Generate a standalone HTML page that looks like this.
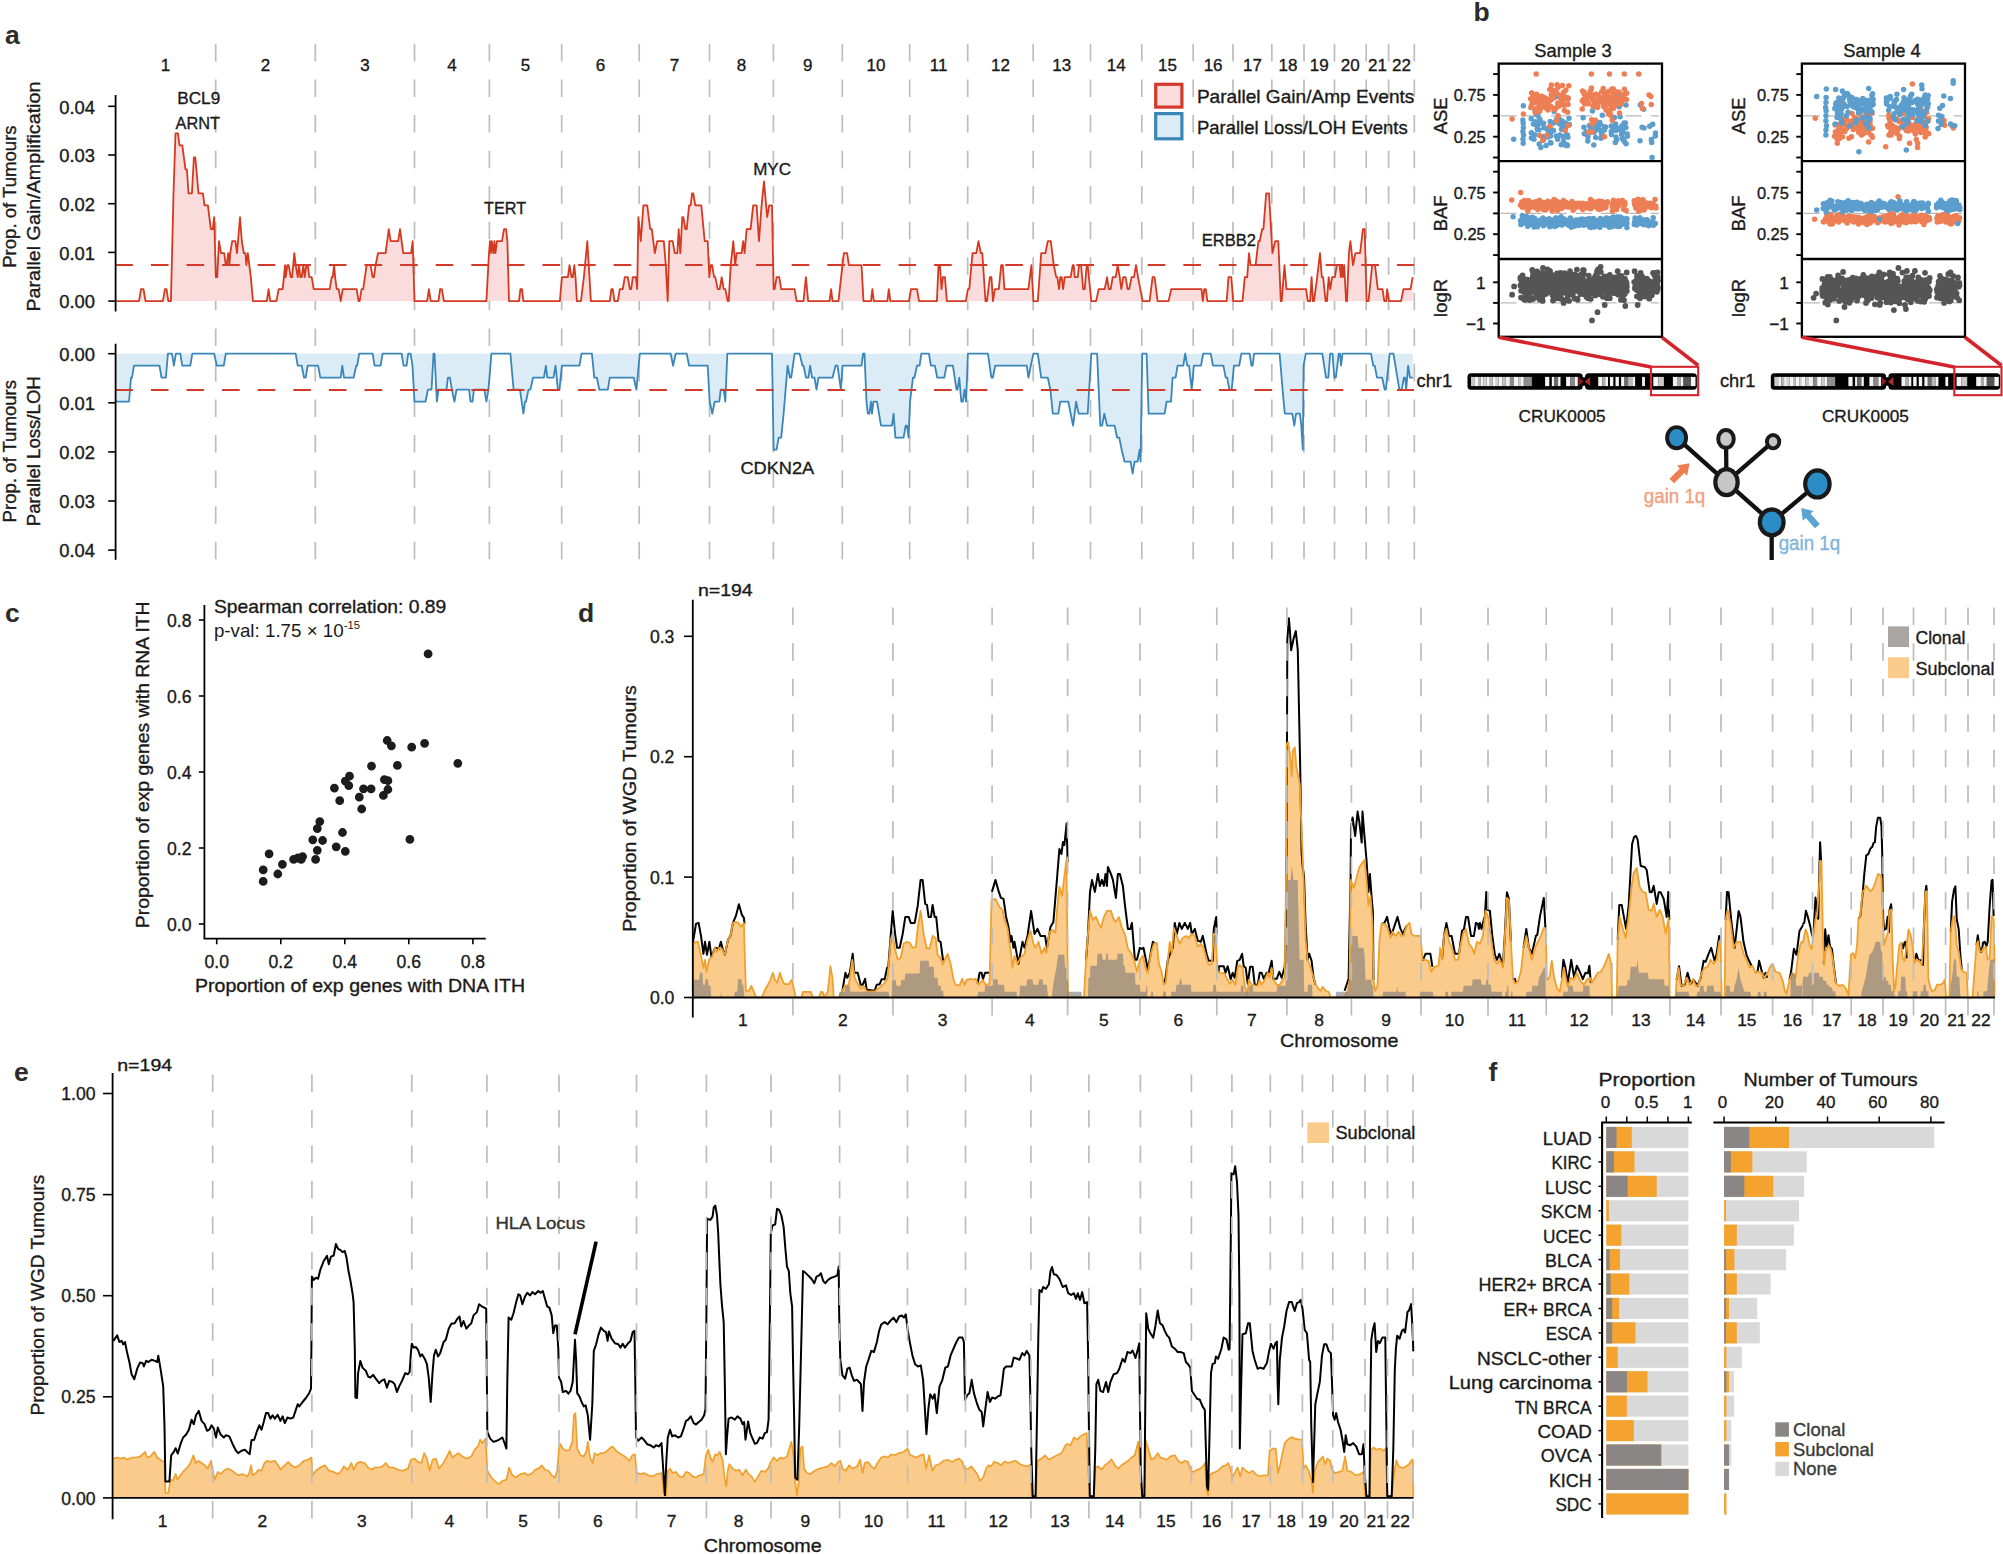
<!DOCTYPE html><html><head><meta charset="utf-8"><title>Figure</title><style>html,body{margin:0;padding:0;background:#fff}svg{display:block}text{font-family:'Liberation Sans', sans-serif}</style></head><body>
<svg width="2003" height="1554" viewBox="0 0 2003 1554">
<rect width="2003" height="1554" fill="#fff"/>
<g id="pa">
<line x1="215.7" y1="44" x2="215.7" y2="311.5" stroke="#bdbdbd" stroke-width="1.7" stroke-dasharray="17.5 18.05"/>
<line x1="215.7" y1="328.4" x2="215.7" y2="559.8" stroke="#bdbdbd" stroke-width="1.7" stroke-dasharray="17.5 18.05"/>
<line x1="315.3" y1="44" x2="315.3" y2="311.5" stroke="#bdbdbd" stroke-width="1.7" stroke-dasharray="17.5 18.05"/>
<line x1="315.3" y1="328.4" x2="315.3" y2="559.8" stroke="#bdbdbd" stroke-width="1.7" stroke-dasharray="17.5 18.05"/>
<line x1="414.5" y1="44" x2="414.5" y2="311.5" stroke="#bdbdbd" stroke-width="1.7" stroke-dasharray="17.5 18.05"/>
<line x1="414.5" y1="328.4" x2="414.5" y2="559.8" stroke="#bdbdbd" stroke-width="1.7" stroke-dasharray="17.5 18.05"/>
<line x1="489.4" y1="44" x2="489.4" y2="311.5" stroke="#bdbdbd" stroke-width="1.7" stroke-dasharray="17.5 18.05"/>
<line x1="489.4" y1="328.4" x2="489.4" y2="559.8" stroke="#bdbdbd" stroke-width="1.7" stroke-dasharray="17.5 18.05"/>
<line x1="561.7" y1="44" x2="561.7" y2="311.5" stroke="#bdbdbd" stroke-width="1.7" stroke-dasharray="17.5 18.05"/>
<line x1="561.7" y1="328.4" x2="561.7" y2="559.8" stroke="#bdbdbd" stroke-width="1.7" stroke-dasharray="17.5 18.05"/>
<line x1="639.2" y1="44" x2="639.2" y2="311.5" stroke="#bdbdbd" stroke-width="1.7" stroke-dasharray="17.5 18.05"/>
<line x1="639.2" y1="328.4" x2="639.2" y2="559.8" stroke="#bdbdbd" stroke-width="1.7" stroke-dasharray="17.5 18.05"/>
<line x1="709.5" y1="44" x2="709.5" y2="311.5" stroke="#bdbdbd" stroke-width="1.7" stroke-dasharray="17.5 18.05"/>
<line x1="709.5" y1="328.4" x2="709.5" y2="559.8" stroke="#bdbdbd" stroke-width="1.7" stroke-dasharray="17.5 18.05"/>
<line x1="773.4" y1="44" x2="773.4" y2="311.5" stroke="#bdbdbd" stroke-width="1.7" stroke-dasharray="17.5 18.05"/>
<line x1="773.4" y1="328.4" x2="773.4" y2="559.8" stroke="#bdbdbd" stroke-width="1.7" stroke-dasharray="17.5 18.05"/>
<line x1="842.3" y1="44" x2="842.3" y2="311.5" stroke="#bdbdbd" stroke-width="1.7" stroke-dasharray="17.5 18.05"/>
<line x1="842.3" y1="328.4" x2="842.3" y2="559.8" stroke="#bdbdbd" stroke-width="1.7" stroke-dasharray="17.5 18.05"/>
<line x1="909.7" y1="44" x2="909.7" y2="311.5" stroke="#bdbdbd" stroke-width="1.7" stroke-dasharray="17.5 18.05"/>
<line x1="909.7" y1="328.4" x2="909.7" y2="559.8" stroke="#bdbdbd" stroke-width="1.7" stroke-dasharray="17.5 18.05"/>
<line x1="967.7" y1="44" x2="967.7" y2="311.5" stroke="#bdbdbd" stroke-width="1.7" stroke-dasharray="17.5 18.05"/>
<line x1="967.7" y1="328.4" x2="967.7" y2="559.8" stroke="#bdbdbd" stroke-width="1.7" stroke-dasharray="17.5 18.05"/>
<line x1="1033.2" y1="44" x2="1033.2" y2="311.5" stroke="#bdbdbd" stroke-width="1.7" stroke-dasharray="17.5 18.05"/>
<line x1="1033.2" y1="328.4" x2="1033.2" y2="559.8" stroke="#bdbdbd" stroke-width="1.7" stroke-dasharray="17.5 18.05"/>
<line x1="1090.5" y1="44" x2="1090.5" y2="311.5" stroke="#bdbdbd" stroke-width="1.7" stroke-dasharray="17.5 18.05"/>
<line x1="1090.5" y1="328.4" x2="1090.5" y2="559.8" stroke="#bdbdbd" stroke-width="1.7" stroke-dasharray="17.5 18.05"/>
<line x1="1141.8" y1="44" x2="1141.8" y2="311.5" stroke="#bdbdbd" stroke-width="1.7" stroke-dasharray="17.5 18.05"/>
<line x1="1141.8" y1="328.4" x2="1141.8" y2="559.8" stroke="#bdbdbd" stroke-width="1.7" stroke-dasharray="17.5 18.05"/>
<line x1="1193.2" y1="44" x2="1193.2" y2="311.5" stroke="#bdbdbd" stroke-width="1.7" stroke-dasharray="17.5 18.05"/>
<line x1="1193.2" y1="328.4" x2="1193.2" y2="559.8" stroke="#bdbdbd" stroke-width="1.7" stroke-dasharray="17.5 18.05"/>
<line x1="1233" y1="44" x2="1233" y2="311.5" stroke="#bdbdbd" stroke-width="1.7" stroke-dasharray="17.5 18.05"/>
<line x1="1233" y1="328.4" x2="1233" y2="559.8" stroke="#bdbdbd" stroke-width="1.7" stroke-dasharray="17.5 18.05"/>
<line x1="1271.8" y1="44" x2="1271.8" y2="311.5" stroke="#bdbdbd" stroke-width="1.7" stroke-dasharray="17.5 18.05"/>
<line x1="1271.8" y1="328.4" x2="1271.8" y2="559.8" stroke="#bdbdbd" stroke-width="1.7" stroke-dasharray="17.5 18.05"/>
<line x1="1304" y1="44" x2="1304" y2="311.5" stroke="#bdbdbd" stroke-width="1.7" stroke-dasharray="17.5 18.05"/>
<line x1="1304" y1="328.4" x2="1304" y2="559.8" stroke="#bdbdbd" stroke-width="1.7" stroke-dasharray="17.5 18.05"/>
<line x1="1334.5" y1="44" x2="1334.5" y2="311.5" stroke="#bdbdbd" stroke-width="1.7" stroke-dasharray="17.5 18.05"/>
<line x1="1334.5" y1="328.4" x2="1334.5" y2="559.8" stroke="#bdbdbd" stroke-width="1.7" stroke-dasharray="17.5 18.05"/>
<line x1="1366.2" y1="44" x2="1366.2" y2="311.5" stroke="#bdbdbd" stroke-width="1.7" stroke-dasharray="17.5 18.05"/>
<line x1="1366.2" y1="328.4" x2="1366.2" y2="559.8" stroke="#bdbdbd" stroke-width="1.7" stroke-dasharray="17.5 18.05"/>
<line x1="1388.6" y1="44" x2="1388.6" y2="311.5" stroke="#bdbdbd" stroke-width="1.7" stroke-dasharray="17.5 18.05"/>
<line x1="1388.6" y1="328.4" x2="1388.6" y2="559.8" stroke="#bdbdbd" stroke-width="1.7" stroke-dasharray="17.5 18.05"/>
<line x1="1414.3" y1="44" x2="1414.3" y2="311.5" stroke="#bdbdbd" stroke-width="1.7" stroke-dasharray="17.5 18.05"/>
<line x1="1414.3" y1="328.4" x2="1414.3" y2="559.8" stroke="#bdbdbd" stroke-width="1.7" stroke-dasharray="17.5 18.05"/>
<path d="M116 301.1 116 301.1 139 301.1 141 289.1 143.5 289.1 145.5 301.1 162.9 301.1 164.9 289.1 166.5 289.1 168.3 301.1 170.9 301.1 173.5 193.3 175.5 133.4 177.9 133.4 179.5 145.4 182.3 145.4 185.5 169.3 186.9 169.3 188.5 193.3 191.9 193.3 193.9 157.3 195.3 157.3 198.5 193.3 202.9 193.3 204.5 205.3 207.9 205.3 210.8 229.2 212.8 229.2 214.2 217.2 215.8 277.1 217.2 277.1 219 241.2 221 253.2 224.2 253.2 225.8 265.2 226.8 265.2 228.2 253.2 229.4 265.2 230.2 253.2 232.2 241.2 235.4 241.2 237 253.2 240 217.2 241.8 241.2 243.8 253.2 245.4 253.2 246.4 265.2 247.8 253.2 250.8 277.1 253 301.1 266.8 301.1 268.6 289.1 270.2 301.1 276.4 301.1 278.7 289.1 282.7 289.1 285.1 265.2 285.7 277.1 287.3 265.2 288.7 265.2 290.7 277.1 292.1 277.1 294.3 253.2 295.7 265.2 297.7 277.1 299.1 265.2 300.3 277.1 301.7 277.1 303.3 265.2 304.7 277.1 306.3 265.2 307.7 265.2 309.3 277.1 311.7 277.1 313.7 289.1 329.7 289.1 331.7 277.1 332.7 277.1 334.1 265.2 335.1 277.1 336.7 289.1 338.7 289.1 340.7 301.1 342.7 289.1 356.6 289.1 358.6 301.1 359.6 301.1 361.6 289.1 363.2 289.1 366.6 265.2 370.6 265.2 372.6 277.1 374 277.1 375.6 265.2 378 253.2 385.6 253.2 388.8 229.2 390.6 241.2 398.2 241.2 400 229.2 403.2 253.2 411.1 253.2 412.7 241.2 414.5 301.1 427.1 301.1 428.9 289.1 430.7 301.1 438.5 301.1 440.1 289.1 441.9 289.1 443.9 301.1 486.4 301.1 489 253.2 490 241.2 491 253.2 491.8 241.2 493.4 253.2 494.4 241.2 495.4 253.2 497 241.2 499.4 241.2 500 241.2 502 241.2 504 229.2 506 229.2 507.4 241.2 509 301.1 519 301.1 520.4 289.1 522 289.1 523.4 301.1 559.9 301.1 561.9 277.1 567.9 277.1 569.5 265.2 571.5 277.1 572.9 277.1 574.3 265.2 575.5 277.1 576.9 301.1 580.9 301.1 583.9 277.1 587.3 241.2 590.9 301.1 609.8 301.1 611.4 289.1 612.8 289.1 614.4 301.1 617.8 301.1 619.8 289.1 622.8 289.1 624.8 277.1 627.8 277.1 629.8 289.1 631.2 289.1 632.8 277.1 635.8 277.1 637.2 289.1 638.4 217.2 640.8 241.2 643.4 205.3 647.2 205.3 650.2 229.2 651.8 229.2 654.8 253.2 657.2 241.2 663.8 241.2 665.8 265.2 667.7 301.1 669.3 241.2 672.7 241.2 674.7 253.2 677.3 253.2 678.7 229.2 680.3 253.2 682.3 217.2 683.3 217.2 685.3 229.2 686.7 229.2 689.1 205.3 690.7 205.3 692.1 193.3 693.3 193.3 695.3 205.3 701.3 205.3 704.7 241.2 707.7 241.2 709.3 277.1 710.7 265.2 712.1 265.2 714.1 277.1 715.3 277.1 717.7 289.1 719.7 289.1 721.7 277.1 723.7 289.1 725.3 289.1 727.7 301.1 728.7 301.1 730.7 265.2 733.3 241.2 735.2 265.2 736.6 253.2 741.6 253.2 743.2 241.2 744.6 253.2 746.6 229.2 750.6 229.2 753.2 205.3 756.6 205.3 759 241.2 761.6 205.3 764 181.3 767.2 217.2 769.2 205.3 772 205.3 773.6 289.1 774.6 289.1 776.6 277.1 779.2 277.1 781.2 289.1 794.6 289.1 796.6 301.1 803.5 301.1 805.9 277.1 808.1 301.1 829.5 301.1 831.1 289.1 832.5 301.1 838.5 301.1 841.1 277.1 843.9 253.2 847.1 253.2 848.9 265.2 861.5 265.2 863.5 301.1 871 301.1 872.4 289.1 873.8 301.1 887.4 301.1 888.8 289.1 890.4 301.1 892 301.1 909 301.1 911 289.1 917 289.1 919 301.1 936.9 301.1 938.5 265.2 939.9 265.2 941.5 289.1 942.9 277.1 944.9 277.1 946.9 301.1 965.9 301.1 967.9 289.1 969.3 289.1 972.5 253.2 976.3 253.2 978.5 241.2 980.9 253.2 982.3 253.2 985.5 301.1 986.9 301.1 989.9 277.1 991.4 277.1 993 301.1 994.8 289.1 998.8 289.1 1001.2 265.2 1002.8 265.2 1004.4 289.1 1028.4 289.1 1031.4 265.2 1033.4 301.1 1037.8 301.1 1041.2 253.2 1045.4 253.2 1047.8 241.2 1050.8 241.2 1053.8 265.2 1056.2 277.1 1057.3 277.1 1059.1 289.1 1060.3 277.1 1061.7 277.1 1063.1 289.1 1064.7 277.1 1070.7 277.1 1072.7 265.2 1073.7 265.2 1074.7 277.1 1077.7 277.1 1079.1 265.2 1081.1 265.2 1083.1 289.1 1084.7 289.1 1086.7 265.2 1087.7 265.2 1091.3 301.1 1096.1 301.1 1098.7 289.1 1104.7 289.1 1107.1 277.1 1108.7 289.1 1110.7 289.1 1112.7 277.1 1115.7 277.1 1117.7 265.2 1119.7 277.1 1121.3 289.1 1123.3 277.1 1125.6 277.1 1127.6 289.1 1129.2 289.1 1131.6 277.1 1134 277.1 1136 265.2 1138 277.1 1142.6 301.1 1149.6 301.1 1152.6 277.1 1154.6 277.1 1157.6 301.1 1168.6 301.1 1171.2 289.1 1179.6 289.1 1180 289.1 1201.5 289.1 1202.8 301.1 1204.3 289.1 1205.8 289.1 1207.4 301.1 1226.7 301.1 1228.5 277.1 1231.3 277.1 1233.2 301.1 1242.5 301.1 1244.8 277.1 1247.2 277.1 1249 253.2 1250.5 265.2 1255.6 265.2 1258.4 241.2 1259.7 241.2 1262.1 229.2 1263.4 229.2 1266.2 193.3 1269 193.3 1272.4 253.2 1275.2 241.2 1278.3 241.2 1280.8 301.1 1281.7 301.1 1284.5 265.2 1286.4 289.1 1306 289.1 1307.8 301.1 1310.1 301.1 1311.6 277.1 1312.9 301.1 1314 301.1 1317.2 277.1 1320 253.2 1321.8 277.1 1323.1 277.1 1325.6 301.1 1326.9 301.1 1328.7 277.1 1330.2 289.1 1332.1 277.1 1334.9 277.1 1336.8 265.2 1339.6 265.2 1340.9 277.1 1342 265.2 1342.9 277.1 1344.2 265.2 1346.1 301.1 1347 301.1 1348.9 253.2 1350.4 241.2 1353 265.2 1355.4 253.2 1360.1 253.2 1362.9 229.2 1364.7 229.2 1366.6 301.1 1368.5 301.1 1372.2 265.2 1375 265.2 1377.8 289.1 1382.5 289.1 1384.3 301.1 1386.2 301.1 1387.1 289.1 1389 301.1 1401.1 301.1 1403.4 289.1 1410.5 289.1 1412.7 277.1 1412.7 301.1Z" stroke="none" fill="#fadcdc" stroke-width="1.5"/>
<path d="M116 301.1 139 301.1 141 289.1 143.5 289.1 145.5 301.1 162.9 301.1 164.9 289.1 166.5 289.1 168.3 301.1 170.9 301.1 173.5 193.3 175.5 133.4 177.9 133.4 179.5 145.4 182.3 145.4 185.5 169.3 186.9 169.3 188.5 193.3 191.9 193.3 193.9 157.3 195.3 157.3 198.5 193.3 202.9 193.3 204.5 205.3 207.9 205.3 210.8 229.2 212.8 229.2 214.2 217.2 215.8 277.1 217.2 277.1 219 241.2 221 253.2 224.2 253.2 225.8 265.2 226.8 265.2 228.2 253.2 229.4 265.2 230.2 253.2 232.2 241.2 235.4 241.2 237 253.2 240 217.2 241.8 241.2 243.8 253.2 245.4 253.2 246.4 265.2 247.8 253.2 250.8 277.1 253 301.1 266.8 301.1 268.6 289.1 270.2 301.1 276.4 301.1 278.7 289.1 282.7 289.1 285.1 265.2 285.7 277.1 287.3 265.2 288.7 265.2 290.7 277.1 292.1 277.1 294.3 253.2 295.7 265.2 297.7 277.1 299.1 265.2 300.3 277.1 301.7 277.1 303.3 265.2 304.7 277.1 306.3 265.2 307.7 265.2 309.3 277.1 311.7 277.1 313.7 289.1 329.7 289.1 331.7 277.1 332.7 277.1 334.1 265.2 335.1 277.1 336.7 289.1 338.7 289.1 340.7 301.1 342.7 289.1 356.6 289.1 358.6 301.1 359.6 301.1 361.6 289.1 363.2 289.1 366.6 265.2 370.6 265.2 372.6 277.1 374 277.1 375.6 265.2 378 253.2 385.6 253.2 388.8 229.2 390.6 241.2 398.2 241.2 400 229.2 403.2 253.2 411.1 253.2 412.7 241.2 414.5 301.1 427.1 301.1 428.9 289.1 430.7 301.1 438.5 301.1 440.1 289.1 441.9 289.1 443.9 301.1 486.4 301.1 489 253.2 490 241.2 491 253.2 491.8 241.2 493.4 253.2 494.4 241.2 495.4 253.2 497 241.2 499.4 241.2 500 241.2 502 241.2 504 229.2 506 229.2 507.4 241.2 509 301.1 519 301.1 520.4 289.1 522 289.1 523.4 301.1 559.9 301.1 561.9 277.1 567.9 277.1 569.5 265.2 571.5 277.1 572.9 277.1 574.3 265.2 575.5 277.1 576.9 301.1 580.9 301.1 583.9 277.1 587.3 241.2 590.9 301.1 609.8 301.1 611.4 289.1 612.8 289.1 614.4 301.1 617.8 301.1 619.8 289.1 622.8 289.1 624.8 277.1 627.8 277.1 629.8 289.1 631.2 289.1 632.8 277.1 635.8 277.1 637.2 289.1 638.4 217.2 640.8 241.2 643.4 205.3 647.2 205.3 650.2 229.2 651.8 229.2 654.8 253.2 657.2 241.2 663.8 241.2 665.8 265.2 667.7 301.1 669.3 241.2 672.7 241.2 674.7 253.2 677.3 253.2 678.7 229.2 680.3 253.2 682.3 217.2 683.3 217.2 685.3 229.2 686.7 229.2 689.1 205.3 690.7 205.3 692.1 193.3 693.3 193.3 695.3 205.3 701.3 205.3 704.7 241.2 707.7 241.2 709.3 277.1 710.7 265.2 712.1 265.2 714.1 277.1 715.3 277.1 717.7 289.1 719.7 289.1 721.7 277.1 723.7 289.1 725.3 289.1 727.7 301.1 728.7 301.1 730.7 265.2 733.3 241.2 735.2 265.2 736.6 253.2 741.6 253.2 743.2 241.2 744.6 253.2 746.6 229.2 750.6 229.2 753.2 205.3 756.6 205.3 759 241.2 761.6 205.3 764 181.3 767.2 217.2 769.2 205.3 772 205.3 773.6 289.1 774.6 289.1 776.6 277.1 779.2 277.1 781.2 289.1 794.6 289.1 796.6 301.1 803.5 301.1 805.9 277.1 808.1 301.1 829.5 301.1 831.1 289.1 832.5 301.1 838.5 301.1 841.1 277.1 843.9 253.2 847.1 253.2 848.9 265.2 861.5 265.2 863.5 301.1 871 301.1 872.4 289.1 873.8 301.1 887.4 301.1 888.8 289.1 890.4 301.1 892 301.1 909 301.1 911 289.1 917 289.1 919 301.1 936.9 301.1 938.5 265.2 939.9 265.2 941.5 289.1 942.9 277.1 944.9 277.1 946.9 301.1 965.9 301.1 967.9 289.1 969.3 289.1 972.5 253.2 976.3 253.2 978.5 241.2 980.9 253.2 982.3 253.2 985.5 301.1 986.9 301.1 989.9 277.1 991.4 277.1 993 301.1 994.8 289.1 998.8 289.1 1001.2 265.2 1002.8 265.2 1004.4 289.1 1028.4 289.1 1031.4 265.2 1033.4 301.1 1037.8 301.1 1041.2 253.2 1045.4 253.2 1047.8 241.2 1050.8 241.2 1053.8 265.2 1056.2 277.1 1057.3 277.1 1059.1 289.1 1060.3 277.1 1061.7 277.1 1063.1 289.1 1064.7 277.1 1070.7 277.1 1072.7 265.2 1073.7 265.2 1074.7 277.1 1077.7 277.1 1079.1 265.2 1081.1 265.2 1083.1 289.1 1084.7 289.1 1086.7 265.2 1087.7 265.2 1091.3 301.1 1096.1 301.1 1098.7 289.1 1104.7 289.1 1107.1 277.1 1108.7 289.1 1110.7 289.1 1112.7 277.1 1115.7 277.1 1117.7 265.2 1119.7 277.1 1121.3 289.1 1123.3 277.1 1125.6 277.1 1127.6 289.1 1129.2 289.1 1131.6 277.1 1134 277.1 1136 265.2 1138 277.1 1142.6 301.1 1149.6 301.1 1152.6 277.1 1154.6 277.1 1157.6 301.1 1168.6 301.1 1171.2 289.1 1179.6 289.1 1180 289.1 1201.5 289.1 1202.8 301.1 1204.3 289.1 1205.8 289.1 1207.4 301.1 1226.7 301.1 1228.5 277.1 1231.3 277.1 1233.2 301.1 1242.5 301.1 1244.8 277.1 1247.2 277.1 1249 253.2 1250.5 265.2 1255.6 265.2 1258.4 241.2 1259.7 241.2 1262.1 229.2 1263.4 229.2 1266.2 193.3 1269 193.3 1272.4 253.2 1275.2 241.2 1278.3 241.2 1280.8 301.1 1281.7 301.1 1284.5 265.2 1286.4 289.1 1306 289.1 1307.8 301.1 1310.1 301.1 1311.6 277.1 1312.9 301.1 1314 301.1 1317.2 277.1 1320 253.2 1321.8 277.1 1323.1 277.1 1325.6 301.1 1326.9 301.1 1328.7 277.1 1330.2 289.1 1332.1 277.1 1334.9 277.1 1336.8 265.2 1339.6 265.2 1340.9 277.1 1342 265.2 1342.9 277.1 1344.2 265.2 1346.1 301.1 1347 301.1 1348.9 253.2 1350.4 241.2 1353 265.2 1355.4 253.2 1360.1 253.2 1362.9 229.2 1364.7 229.2 1366.6 301.1 1368.5 301.1 1372.2 265.2 1375 265.2 1377.8 289.1 1382.5 289.1 1384.3 301.1 1386.2 301.1 1387.1 289.1 1389 301.1 1401.1 301.1 1403.4 289.1 1410.5 289.1 1412.7 277.1" stroke="#d5391f" fill="none" stroke-width="1.8" stroke-linejoin="round"/>
<line x1="115.3" y1="265.1" x2="1414" y2="265.1" stroke="#d5392a" stroke-width="2" stroke-dasharray="17.6 18"/>
<path d="M116 353.7 116 401.7 129 401.7 131 377.7 132 377.7 134 365.7 159.5 365.7 161.5 377.7 165.9 377.7 167.9 353.7 171.9 353.7 173.9 365.7 175.9 353.7 180.3 353.7 182.3 365.7 190.3 365.7 192.3 353.7 214.2 353.7 216.8 365.7 223.8 365.7 225.8 353.7 295.7 353.7 297.7 365.7 301.7 365.7 304.1 377.7 305.7 377.7 307.7 365.7 318.1 365.7 320.3 377.7 340.7 377.7 342.3 365.7 344 377.7 353.6 377.7 356.2 365.7 357.2 365.7 359.2 353.7 372.6 353.7 374.6 365.7 380.6 365.7 382.6 353.7 401.6 353.7 403.6 365.7 406.6 365.7 408.2 353.7 410.5 353.7 412.5 365.7 414.5 401.7 425.5 401.7 427.9 389.7 431.5 389.7 433.5 353.7 434.5 353.7 436.9 401.7 438.5 389.7 446.5 389.7 447.9 377.7 449.9 377.7 451.9 389.7 454.5 401.7 456.5 389.7 469.1 389.7 470.5 401.7 472.5 401.7 473.9 389.7 484.4 389.7 486.4 401.7 488.4 389.7 491.4 353.7 499.4 353.7 500 353.7 510.4 353.7 513.6 389.7 520 389.7 523.4 413.7 525 401.7 526 401.7 528.4 389.7 530.4 389.7 533 377.7 543.9 377.7 545.9 365.7 547.3 377.7 553.5 377.7 555.5 365.7 557.9 389.7 559.5 389.7 561.9 365.7 579.5 365.7 581.5 353.7 591.9 353.7 594.3 377.7 596.9 377.7 599.3 389.7 607.8 389.7 609.8 377.7 633.8 377.7 636.4 389.7 639.8 353.7 670.7 353.7 673.1 365.7 675.7 353.7 686.7 353.7 689.1 365.7 707.7 365.7 709.7 401.7 712.3 413.7 714.7 401.7 719.3 401.7 720.7 389.7 723.7 389.7 725.3 401.7 727.3 353.7 772 353.7 773.6 449.7 776.6 449.7 778.6 437.7 781.2 437.7 783.6 413.7 787.6 365.7 790 377.7 791.2 377.7 794.6 353.7 799.6 353.7 802.5 365.7 803.5 365.7 806.1 377.7 808.5 377.7 810.1 365.7 812.1 377.7 814.5 377.7 816.5 389.7 818.5 377.7 832.5 377.7 835.5 365.7 837.5 365.7 840.9 389.7 842.5 365.7 861.5 365.7 863.1 353.7 864.5 353.7 866.5 401.7 867.8 413.7 869.4 413.7 871 401.7 872 413.7 873.4 401.7 877 401.7 881 425.7 889.4 425.7 890 425.7 892 425.7 893.6 413.7 895.4 437.7 903.6 437.7 905.6 425.7 907 425.7 908.6 437.7 910 401.7 913 377.7 914.4 377.7 917 365.7 919.6 365.7 921.4 353.7 928.9 353.7 930.9 365.7 934.9 365.7 937.3 377.7 944.3 377.7 946.5 365.7 952.9 365.7 956.5 389.7 957.5 389.7 959.3 377.7 961.3 401.7 962.9 401.7 964.5 389.7 966.1 401.7 967.9 353.7 987.9 353.7 991.4 377.7 992.8 377.7 995.2 365.7 1026.8 365.7 1028.4 377.7 1030.8 365.7 1033.4 353.7 1037.8 353.7 1041.2 377.7 1047.8 377.7 1050.4 389.7 1052.8 413.7 1058.3 413.7 1060.3 401.7 1068.3 401.7 1070.7 413.7 1073.1 425.7 1076.1 401.7 1078.7 413.7 1087.7 413.7 1091.3 353.7 1097.1 353.7 1100.3 425.7 1102.1 425.7 1104.3 413.7 1107.1 425.7 1114.7 425.7 1117.1 437.7 1119.3 437.7 1121.7 449.7 1124.6 461.7 1130.6 461.7 1132.6 473.7 1134.6 461.7 1137.6 461.7 1139.6 449.7 1140.6 461.7 1142.2 353.7 1146.6 353.7 1148.6 413.7 1164.6 413.7 1166.6 401.7 1171 401.7 1172.6 377.7 1175.6 377.7 1177.6 365.7 1179.6 365.7 1180 365.7 1183.3 365.7 1185.2 353.7 1187.2 365.7 1189 365.7 1191.7 389.7 1193.8 365.7 1201 365.7 1203.2 353.7 1210.7 353.7 1213 365.7 1223.4 365.7 1225.7 377.7 1227.2 377.7 1229.4 389.7 1231.7 389.7 1233.9 365.7 1239.2 365.7 1241.4 353.7 1249.6 353.7 1251.4 365.7 1252.6 365.7 1254.1 353.7 1279.6 353.7 1282.6 389.7 1284.8 413.7 1292.3 413.7 1294.3 425.7 1296.1 413.7 1299.8 413.7 1301.3 425.7 1302.8 449.7 1303.6 365.7 1305.8 353.7 1322.3 353.7 1326 377.7 1328.3 377.7 1330.2 353.7 1332.5 353.7 1334.3 377.7 1335.8 377.7 1338.8 353.7 1340 353.7 1341 365.7 1342.5 353.7 1371 353.7 1373.2 365.7 1374.7 365.7 1377 377.7 1382.2 377.7 1384.7 389.7 1385.9 389.7 1389.7 353.7 1393.4 353.7 1399.4 389.7 1401.7 389.7 1403.9 377.7 1405.1 377.7 1406.2 389.7 1408.1 365.7 1409.9 377.7 1412.9 377.7 1412.9 353.7Z" stroke="none" fill="#dcecf6" stroke-width="1.5"/>
<path d="M116 401.7 129 401.7 131 377.7 132 377.7 134 365.7 159.5 365.7 161.5 377.7 165.9 377.7 167.9 353.7 171.9 353.7 173.9 365.7 175.9 353.7 180.3 353.7 182.3 365.7 190.3 365.7 192.3 353.7 214.2 353.7 216.8 365.7 223.8 365.7 225.8 353.7 295.7 353.7 297.7 365.7 301.7 365.7 304.1 377.7 305.7 377.7 307.7 365.7 318.1 365.7 320.3 377.7 340.7 377.7 342.3 365.7 344 377.7 353.6 377.7 356.2 365.7 357.2 365.7 359.2 353.7 372.6 353.7 374.6 365.7 380.6 365.7 382.6 353.7 401.6 353.7 403.6 365.7 406.6 365.7 408.2 353.7 410.5 353.7 412.5 365.7 414.5 401.7 425.5 401.7 427.9 389.7 431.5 389.7 433.5 353.7 434.5 353.7 436.9 401.7 438.5 389.7 446.5 389.7 447.9 377.7 449.9 377.7 451.9 389.7 454.5 401.7 456.5 389.7 469.1 389.7 470.5 401.7 472.5 401.7 473.9 389.7 484.4 389.7 486.4 401.7 488.4 389.7 491.4 353.7 499.4 353.7 500 353.7 510.4 353.7 513.6 389.7 520 389.7 523.4 413.7 525 401.7 526 401.7 528.4 389.7 530.4 389.7 533 377.7 543.9 377.7 545.9 365.7 547.3 377.7 553.5 377.7 555.5 365.7 557.9 389.7 559.5 389.7 561.9 365.7 579.5 365.7 581.5 353.7 591.9 353.7 594.3 377.7 596.9 377.7 599.3 389.7 607.8 389.7 609.8 377.7 633.8 377.7 636.4 389.7 639.8 353.7 670.7 353.7 673.1 365.7 675.7 353.7 686.7 353.7 689.1 365.7 707.7 365.7 709.7 401.7 712.3 413.7 714.7 401.7 719.3 401.7 720.7 389.7 723.7 389.7 725.3 401.7 727.3 353.7 772 353.7 773.6 449.7 776.6 449.7 778.6 437.7 781.2 437.7 783.6 413.7 787.6 365.7 790 377.7 791.2 377.7 794.6 353.7 799.6 353.7 802.5 365.7 803.5 365.7 806.1 377.7 808.5 377.7 810.1 365.7 812.1 377.7 814.5 377.7 816.5 389.7 818.5 377.7 832.5 377.7 835.5 365.7 837.5 365.7 840.9 389.7 842.5 365.7 861.5 365.7 863.1 353.7 864.5 353.7 866.5 401.7 867.8 413.7 869.4 413.7 871 401.7 872 413.7 873.4 401.7 877 401.7 881 425.7 889.4 425.7 890 425.7 892 425.7 893.6 413.7 895.4 437.7 903.6 437.7 905.6 425.7 907 425.7 908.6 437.7 910 401.7 913 377.7 914.4 377.7 917 365.7 919.6 365.7 921.4 353.7 928.9 353.7 930.9 365.7 934.9 365.7 937.3 377.7 944.3 377.7 946.5 365.7 952.9 365.7 956.5 389.7 957.5 389.7 959.3 377.7 961.3 401.7 962.9 401.7 964.5 389.7 966.1 401.7 967.9 353.7 987.9 353.7 991.4 377.7 992.8 377.7 995.2 365.7 1026.8 365.7 1028.4 377.7 1030.8 365.7 1033.4 353.7 1037.8 353.7 1041.2 377.7 1047.8 377.7 1050.4 389.7 1052.8 413.7 1058.3 413.7 1060.3 401.7 1068.3 401.7 1070.7 413.7 1073.1 425.7 1076.1 401.7 1078.7 413.7 1087.7 413.7 1091.3 353.7 1097.1 353.7 1100.3 425.7 1102.1 425.7 1104.3 413.7 1107.1 425.7 1114.7 425.7 1117.1 437.7 1119.3 437.7 1121.7 449.7 1124.6 461.7 1130.6 461.7 1132.6 473.7 1134.6 461.7 1137.6 461.7 1139.6 449.7 1140.6 461.7 1142.2 353.7 1146.6 353.7 1148.6 413.7 1164.6 413.7 1166.6 401.7 1171 401.7 1172.6 377.7 1175.6 377.7 1177.6 365.7 1179.6 365.7 1180 365.7 1183.3 365.7 1185.2 353.7 1187.2 365.7 1189 365.7 1191.7 389.7 1193.8 365.7 1201 365.7 1203.2 353.7 1210.7 353.7 1213 365.7 1223.4 365.7 1225.7 377.7 1227.2 377.7 1229.4 389.7 1231.7 389.7 1233.9 365.7 1239.2 365.7 1241.4 353.7 1249.6 353.7 1251.4 365.7 1252.6 365.7 1254.1 353.7 1279.6 353.7 1282.6 389.7 1284.8 413.7 1292.3 413.7 1294.3 425.7 1296.1 413.7 1299.8 413.7 1301.3 425.7 1302.8 449.7 1303.6 365.7 1305.8 353.7 1322.3 353.7 1326 377.7 1328.3 377.7 1330.2 353.7 1332.5 353.7 1334.3 377.7 1335.8 377.7 1338.8 353.7 1340 353.7 1341 365.7 1342.5 353.7 1371 353.7 1373.2 365.7 1374.7 365.7 1377 377.7 1382.2 377.7 1384.7 389.7 1385.9 389.7 1389.7 353.7 1393.4 353.7 1399.4 389.7 1401.7 389.7 1403.9 377.7 1405.1 377.7 1406.2 389.7 1408.1 365.7 1409.9 377.7 1412.9 377.7" stroke="#3a86b9" fill="none" stroke-width="1.8" stroke-linejoin="round"/>
<line x1="115.3" y1="389.9" x2="1414" y2="389.9" stroke="#d5392a" stroke-width="2" stroke-dasharray="17.6 18"/>
<line x1="115.6" y1="95" x2="115.6" y2="311.5" stroke="#000" stroke-width="1.8"/>
<line x1="115.6" y1="343.7" x2="115.6" y2="559.8" stroke="#000" stroke-width="1.8"/>
<line x1="108.2" y1="301.1" x2="115.6" y2="301.1" stroke="#000" stroke-width="1.6"/>
<text x="95" y="308.4" font-size="18.4" text-anchor="end" fill="#1a1a1a" stroke="#1a1a1a" stroke-width="0.35">0.00</text>
<line x1="108.2" y1="353.7" x2="115.6" y2="353.7" stroke="#000" stroke-width="1.6"/>
<text x="95" y="361" font-size="18.4" text-anchor="end" fill="#1a1a1a" stroke="#1a1a1a" stroke-width="0.35">0.00</text>
<line x1="108.2" y1="252.4" x2="115.6" y2="252.4" stroke="#000" stroke-width="1.6"/>
<text x="95" y="259.7" font-size="18.4" text-anchor="end" fill="#1a1a1a" stroke="#1a1a1a" stroke-width="0.35">0.01</text>
<line x1="108.2" y1="402.8" x2="115.6" y2="402.8" stroke="#000" stroke-width="1.6"/>
<text x="95" y="410.1" font-size="18.4" text-anchor="end" fill="#1a1a1a" stroke="#1a1a1a" stroke-width="0.35">0.01</text>
<line x1="108.2" y1="203.7" x2="115.6" y2="203.7" stroke="#000" stroke-width="1.6"/>
<text x="95" y="211" font-size="18.4" text-anchor="end" fill="#1a1a1a" stroke="#1a1a1a" stroke-width="0.35">0.02</text>
<line x1="108.2" y1="451.9" x2="115.6" y2="451.9" stroke="#000" stroke-width="1.6"/>
<text x="95" y="459.2" font-size="18.4" text-anchor="end" fill="#1a1a1a" stroke="#1a1a1a" stroke-width="0.35">0.02</text>
<line x1="108.2" y1="155" x2="115.6" y2="155" stroke="#000" stroke-width="1.6"/>
<text x="95" y="162.3" font-size="18.4" text-anchor="end" fill="#1a1a1a" stroke="#1a1a1a" stroke-width="0.35">0.03</text>
<line x1="108.2" y1="501" x2="115.6" y2="501" stroke="#000" stroke-width="1.6"/>
<text x="95" y="508.3" font-size="18.4" text-anchor="end" fill="#1a1a1a" stroke="#1a1a1a" stroke-width="0.35">0.03</text>
<line x1="108.2" y1="106.3" x2="115.6" y2="106.3" stroke="#000" stroke-width="1.6"/>
<text x="95" y="113.6" font-size="18.4" text-anchor="end" fill="#1a1a1a" stroke="#1a1a1a" stroke-width="0.35">0.04</text>
<line x1="108.2" y1="550.1" x2="115.6" y2="550.1" stroke="#000" stroke-width="1.6"/>
<text x="95" y="557.4" font-size="18.4" text-anchor="end" fill="#1a1a1a" stroke="#1a1a1a" stroke-width="0.35">0.04</text>
<text font-size="18.4" text-anchor="middle" fill="#1a1a1a" stroke="#1a1a1a" stroke-width="0.35" textLength="142.5" lengthAdjust="spacingAndGlyphs" transform="translate(16.2 196.6) rotate(-90)">Prop. of Tumours</text>
<text font-size="18.4" text-anchor="middle" fill="#1a1a1a" stroke="#1a1a1a" stroke-width="0.35" textLength="230" lengthAdjust="spacingAndGlyphs" transform="translate(39.5 196.6) rotate(-90)">Parallel Gain/Amplification</text>
<text font-size="18.4" text-anchor="middle" fill="#1a1a1a" stroke="#1a1a1a" stroke-width="0.35" textLength="142.5" lengthAdjust="spacingAndGlyphs" transform="translate(16.2 451.2) rotate(-90)">Prop. of Tumours</text>
<text font-size="18.4" text-anchor="middle" fill="#1a1a1a" stroke="#1a1a1a" stroke-width="0.35" textLength="150" lengthAdjust="spacingAndGlyphs" transform="translate(39.5 451.2) rotate(-90)">Parallel Loss/LOH</text>
<text x="165.6" y="71.3" font-size="17" text-anchor="middle" fill="#1a1a1a" stroke="#1a1a1a" stroke-width="0.35">1</text>
<text x="265.5" y="71.3" font-size="17" text-anchor="middle" fill="#1a1a1a" stroke="#1a1a1a" stroke-width="0.35">2</text>
<text x="364.9" y="71.3" font-size="17" text-anchor="middle" fill="#1a1a1a" stroke="#1a1a1a" stroke-width="0.35">3</text>
<text x="451.9" y="71.3" font-size="17" text-anchor="middle" fill="#1a1a1a" stroke="#1a1a1a" stroke-width="0.35">4</text>
<text x="525.5" y="71.3" font-size="17" text-anchor="middle" fill="#1a1a1a" stroke="#1a1a1a" stroke-width="0.35">5</text>
<text x="600.5" y="71.3" font-size="17" text-anchor="middle" fill="#1a1a1a" stroke="#1a1a1a" stroke-width="0.35">6</text>
<text x="674.4" y="71.3" font-size="17" text-anchor="middle" fill="#1a1a1a" stroke="#1a1a1a" stroke-width="0.35">7</text>
<text x="741.5" y="71.3" font-size="17" text-anchor="middle" fill="#1a1a1a" stroke="#1a1a1a" stroke-width="0.35">8</text>
<text x="807.8" y="71.3" font-size="17" text-anchor="middle" fill="#1a1a1a" stroke="#1a1a1a" stroke-width="0.35">9</text>
<text x="876" y="71.3" font-size="17" text-anchor="middle" fill="#1a1a1a" stroke="#1a1a1a" stroke-width="0.35">10</text>
<text x="938.7" y="71.3" font-size="17" text-anchor="middle" fill="#1a1a1a" stroke="#1a1a1a" stroke-width="0.35">11</text>
<text x="1000.5" y="71.3" font-size="17" text-anchor="middle" fill="#1a1a1a" stroke="#1a1a1a" stroke-width="0.35">12</text>
<text x="1061.8" y="71.3" font-size="17" text-anchor="middle" fill="#1a1a1a" stroke="#1a1a1a" stroke-width="0.35">13</text>
<text x="1116.2" y="71.3" font-size="17" text-anchor="middle" fill="#1a1a1a" stroke="#1a1a1a" stroke-width="0.35">14</text>
<text x="1167.5" y="71.3" font-size="17" text-anchor="middle" fill="#1a1a1a" stroke="#1a1a1a" stroke-width="0.35">15</text>
<text x="1213.1" y="71.3" font-size="17" text-anchor="middle" fill="#1a1a1a" stroke="#1a1a1a" stroke-width="0.35">16</text>
<text x="1252.4" y="71.3" font-size="17" text-anchor="middle" fill="#1a1a1a" stroke="#1a1a1a" stroke-width="0.35">17</text>
<text x="1287.9" y="71.3" font-size="17" text-anchor="middle" fill="#1a1a1a" stroke="#1a1a1a" stroke-width="0.35">18</text>
<text x="1319.2" y="71.3" font-size="17" text-anchor="middle" fill="#1a1a1a" stroke="#1a1a1a" stroke-width="0.35">19</text>
<text x="1350.3" y="71.3" font-size="17" text-anchor="middle" fill="#1a1a1a" stroke="#1a1a1a" stroke-width="0.35">20</text>
<text x="1377.4" y="71.3" font-size="17" text-anchor="middle" fill="#1a1a1a" stroke="#1a1a1a" stroke-width="0.35">21</text>
<text x="1401.4" y="71.3" font-size="17" text-anchor="middle" fill="#1a1a1a" stroke="#1a1a1a" stroke-width="0.35">22</text>
<text x="177.3" y="104.3" font-size="17.3" fill="#1a1a1a" stroke="#1a1a1a" stroke-width="0.35" textLength="42.9" lengthAdjust="spacingAndGlyphs">BCL9</text>
<text x="175.5" y="129.4" font-size="17.3" fill="#1a1a1a" stroke="#1a1a1a" stroke-width="0.35" textLength="44.4" lengthAdjust="spacingAndGlyphs">ARNT</text>
<text x="484.1" y="214.2" font-size="17.3" fill="#1a1a1a" stroke="#1a1a1a" stroke-width="0.35" textLength="42" lengthAdjust="spacingAndGlyphs">TERT</text>
<text x="753.2" y="175.2" font-size="17.3" fill="#1a1a1a" stroke="#1a1a1a" stroke-width="0.35" textLength="37.8" lengthAdjust="spacingAndGlyphs">MYC</text>
<text x="1201.7" y="246.4" font-size="17.3" fill="#1a1a1a" stroke="#1a1a1a" stroke-width="0.35" textLength="54.3" lengthAdjust="spacingAndGlyphs">ERBB2</text>
<text x="740.4" y="473.7" font-size="17.3" fill="#1a1a1a" stroke="#1a1a1a" stroke-width="0.35" textLength="73.8" lengthAdjust="spacingAndGlyphs">CDKN2A</text>
<rect x="1155.7" y="84.3" width="26.2" height="22.8" fill="#fadcdc" stroke="#d5392a" stroke-width="3.2"/>
<rect x="1155.7" y="113.6" width="26.2" height="25.2" fill="#dcecf6" stroke="#3a86b9" stroke-width="3.2"/>
<text x="1196.9" y="103" font-size="18.4" fill="#1a1a1a" stroke="#1a1a1a" stroke-width="0.35" textLength="217.5" lengthAdjust="spacingAndGlyphs">Parallel Gain/Amp Events</text>
<text x="1196.9" y="134" font-size="18.4" fill="#1a1a1a" stroke="#1a1a1a" stroke-width="0.35" textLength="210.8" lengthAdjust="spacingAndGlyphs">Parallel Loss/LOH Events</text>
<text x="5" y="43.8" font-size="26.5" font-weight="bold" fill="#2b2b2b">a</text>
</g>
<g id="pb">
<text x="1473.5" y="20.5" font-size="26.5" font-weight="bold" fill="#2b2b2b">b</text>
<line x1="1500.7" y1="115.8" x2="1659" y2="115.8" stroke="#b9b9b9" stroke-width="1.2" stroke-dasharray="16 9"/>
<line x1="1500.7" y1="213.4" x2="1659" y2="213.4" stroke="#b9b9b9" stroke-width="1.2" stroke-dasharray="16 9"/>
<line x1="1500.7" y1="302.9" x2="1659" y2="302.9" stroke="#b9b9b9" stroke-width="1.2" stroke-dasharray="16 9"/>
<path d="M1553.4 123h0M1644 128.1h0M1523.4 105.8h0M1556.3 135.9h0M1605.2 127.2h0M1547.9 137.1h0M1594.1 132.3h0M1523.4 127.5h0M1619.2 106.8h0M1593.8 145h0M1569.3 124.5h0M1536.2 114.6h0M1655.3 136.1h0M1592.9 127.1h0M1597.7 125.8h0M1613.9 128h0M1613 107.5h0M1593.5 126.1h0M1552.5 129.9h0M1535 110.2h0M1595.1 124.5h0M1604.1 129.3h0M1627.3 136.3h0M1522.9 131.6h0M1560 134.9h0M1566 126.7h0M1538.9 130.1h0M1597.4 102.9h0M1550.8 122.8h0M1555.5 97.1h0M1611.3 131.4h0M1623.5 140.3h0M1611.3 126h0M1540.8 147.6h0M1568.1 98.2h0M1539.2 143.9h0M1546.1 145.6h0M1586.2 131.9h0M1640.3 104.9h0M1562.9 123.5h0M1597.4 124.1h0M1537.3 126.8h0M1523.6 135h0M1595 124.5h0M1533.4 124.1h0M1563.2 125.5h0M1611.8 130.9h0M1543.6 123.3h0M1569.1 124.9h0M1553.5 130.5h0M1533.9 139.2h0M1595.6 128.7h0M1569 118.2h0M1619.9 128.9h0M1600.2 124h0M1537.8 115.8h0M1611.4 134.5h0M1622.3 138.5h0M1640 140.7h0M1625.9 127.5h0M1624.7 142h0M1594.6 126.5h0M1616.7 139.7h0M1615.6 123.9h0M1604.6 126.8h0M1550.2 121.5h0M1567.4 135.1h0M1618.2 96.2h0M1649.7 126.3h0M1592.4 110.9h0M1523.2 143.3h0M1604.4 129.9h0M1535.7 121.9h0M1626 105.1h0M1567.5 145.4h0M1561.5 129.3h0M1622.7 127.5h0M1559 118.8h0M1563.5 141.4h0M1643.6 109.3h0M1531.4 138h0M1617.5 128h0M1583.9 127.3h0M1549.3 127.1h0M1589.4 125.5h0M1616.1 130.4h0M1615.3 142.6h0M1545.8 107h0M1602.5 131.4h0M1550.9 143h0M1602.3 115.2h0M1599.2 125h0M1651.7 142.5h0M1540 123.4h0M1550.5 142.4h0M1599.9 122.6h0M1523.2 123.3h0M1595.7 137.4h0M1561.9 128.5h0M1605 107.4h0M1651.3 139.6h0M1616 137h0M1603.5 130.1h0M1522.9 120h0M1567.9 137.3h0M1626.1 143.8h0M1565.7 122.9h0M1562.2 121h0M1652.1 157.5h0M1622.9 131.9h0M1554.1 111.4h0M1589.7 132.8h0M1563.5 136.9h0M1561.3 124.8h0M1587.9 137.1h0M1625.4 122.9h0M1542.4 102h0M1531.2 118.7h0M1613 118.2h0M1551.1 99.5h0M1587.8 141.1h0M1593.3 126.4h0M1557.7 139.3h0M1584.3 133.8h0M1535.7 121.7h0M1591.9 130.8h0M1621.6 134.4h0M1537.3 129.6h0M1551.4 131.5h0M1655.5 132.9h0M1534.8 134.7h0M1550.6 136.1h0M1622.1 125.7h0M1536 123.8h0M1596.4 129.7h0M1605.7 127.1h0M1642.1 127.3h0M1561.2 144.7h0M1543.4 140h0M1543.6 136.7h0M1614.4 117.6h0M1601.5 134h0M1590.8 128.6h0M1558.9 123.4h0M1533.1 136.6h0M1567.1 144.7h0M1556.4 119.6h0M1523 139.2h0M1566 145.5h0M1551.2 132.1h0M1624.1 122.9h0M1627.2 134.1h0M1513.7 139.2h0M1540 119.4h0M1566.3 135h0M1543.9 127.7h0M1549.1 131.5h0M1621.2 130.2h0M1560.8 123.6h0M1600.8 138.3h0M1547.8 130.2h0M1583.1 117.8h0M1566.2 135.3h0M1599.8 130.1h0M1652.7 124.2h0M1531.3 132.8h0M1620.1 116.8h0" stroke="#5b9dcc" stroke-width="5.5" stroke-linecap="round" fill="none"/>
<path d="M1587.9 103.6h0M1610.5 104.7h0M1553.5 97.8h0M1615.8 104.2h0M1537.7 110.6h0M1591.6 95.7h0M1539.3 104.4h0M1594.3 102.5h0M1540.5 105.1h0M1584.1 92.3h0M1556.8 93.1h0M1560.5 97.9h0M1584 94.1h0M1531.7 92.9h0M1549.7 89.4h0M1567.9 104.3h0M1535.2 99.6h0M1620.2 97.9h0M1603.1 91.5h0M1612.2 120.2h0M1613.4 89h0M1553.9 108.5h0M1558.1 115.8h0M1550.1 126.2h0M1626.4 99.4h0M1539.3 107.8h0M1607.1 95.2h0M1565.8 90.2h0M1557.1 84.8h0M1605 100.9h0M1531.6 93.1h0M1614.1 106.1h0M1605.8 104.8h0M1530.8 107.4h0M1512.1 119.1h0M1539.7 96.8h0M1561.1 95.1h0M1539.7 111.3h0M1642.4 108.4h0M1610 113.2h0M1536.4 108.6h0M1624.3 74.1h0M1532.7 94.6h0M1540.9 99.8h0M1535.4 94.6h0M1540.7 107.8h0M1599.4 100.5h0M1615.3 105.7h0M1551.3 85.1h0M1623.4 94.8h0M1557.8 102.9h0M1530.6 98.7h0M1599.4 102.2h0M1538.7 99.7h0M1562.1 102.3h0M1591.7 119.7h0M1615.6 98.6h0M1618.2 100.9h0M1584.7 104.1h0M1552.8 97.1h0M1606.9 100.1h0M1601.7 91.7h0M1620.9 103.9h0M1608.4 102.6h0M1558 87.4h0M1612.7 103.2h0M1582.2 109.1h0M1613.3 103.5h0M1607.9 101.8h0M1615.6 91.6h0M1591.1 89.4h0M1604.9 93.5h0M1541 96.4h0M1598.4 100h0M1611.9 103.2h0M1592.2 131.8h0M1603.6 102.4h0M1608.5 91.4h0M1597.4 107.4h0M1557.8 105.6h0M1626.7 93.3h0M1614.5 95.1h0M1651.3 104.5h0M1582.3 101.1h0M1595.9 94.2h0M1616.5 103.1h0M1540.2 109.4h0M1613.5 108.3h0M1584.5 98.7h0M1548.2 103.1h0M1623.7 96.3h0M1610.8 99.7h0M1562.4 85.4h0M1593.7 99.1h0M1547.2 98.9h0M1544.8 97.8h0M1538.8 97h0M1624.6 99.4h0M1624.4 89.3h0M1533 98.9h0M1552 98.2h0M1619.5 113.1h0M1563.5 105h0M1586.8 101h0M1649.1 95h0M1546.1 104.1h0M1585.5 102h0M1534 95h0M1588.1 96.8h0M1532.9 100.3h0M1593.5 95.6h0M1595.4 120.2h0M1551.3 94.8h0M1595.4 105.3h0M1641.5 103.6h0M1584.4 98.7h0M1611.2 96.8h0M1611.2 90.5h0M1564.8 98.4h0M1619.2 92.3h0M1532.1 103.5h0M1540.8 104h0M1550.9 106.5h0M1568.1 97.9h0M1551.4 99.5h0M1585.1 95.1h0M1556.7 120.8h0M1548.3 105.1h0M1547 135.2h0M1617.4 98.5h0M1613.2 93.6h0M1605 107.6h0M1546.2 108.3h0M1531.5 105.5h0M1608.6 113.8h0M1536.2 95.8h0M1594 105.8h0M1603.8 106.3h0M1540.3 104.9h0M1539.8 135.5h0M1564.8 105.1h0M1638.7 74.1h0M1597.8 94.8h0M1615.3 99.1h0M1588.5 103.7h0M1523.4 114.1h0M1564.4 110.6h0M1541.9 96.3h0M1591.4 74.1h0M1552.1 89.9h0M1603.2 88.5h0M1597.8 106.9h0M1541.5 100.4h0M1549.5 101.2h0M1544.5 98.9h0M1596.9 106.2h0M1554.8 109.7h0M1542.6 140.3h0M1596.1 101h0M1533.2 102.9h0M1565.2 130.5h0M1560.8 97.2h0M1584.8 102.2h0M1603.6 106.1h0M1545.9 98.5h0M1562.8 102.5h0M1553 95.9h0M1541.5 107.2h0M1600.2 97.4h0M1567.8 99.3h0M1591.4 88h0M1609.5 74.1h0M1568.2 125.5h0M1593.1 106.4h0M1650.9 96.6h0M1563 99.9h0M1619.8 101.6h0M1538.3 97.7h0M1602.9 101.4h0M1567.6 112.3h0M1592.1 124.3h0M1592.5 96.6h0M1604.5 136.8h0M1563.8 91.9h0M1562.6 101.1h0M1582.6 91.1h0M1534.7 102.7h0M1593.6 98.7h0M1592.6 99.8h0M1604.5 96.8h0M1610.5 109.5h0M1612 88.9h0M1565.2 97h0M1534.2 99.6h0M1536.6 94.2h0M1545.2 106.3h0M1594.3 95.1h0M1606 100.5h0M1619.2 101h0M1536.2 74.1h0M1568 104.5h0M1559.1 106h0M1535.2 112.4h0M1586.8 95.6h0M1568.8 85.8h0M1582.8 100.1h0M1562.5 96.2h0M1621.5 103.9h0M1602.3 99.6h0M1555.2 90.9h0M1589.4 97h0M1548.1 109.9h0M1610.5 115.2h0M1590.1 91.8h0M1539.5 96.6h0M1606.3 110.2h0M1588.7 132.3h0M1557.2 107h0" stroke="#ee7f55" stroke-width="5.5" stroke-linecap="round" fill="none"/>
<path d="M1525.3 221.1h0M1647.6 220.4h0M1612.7 220.5h0M1535.9 222.7h0M1592.4 223.3h0M1638.9 223.5h0M1595.8 226.3h0M1534.5 224.2h0M1655.3 223.5h0M1556.3 223.6h0M1654.9 223.8h0M1624.2 222.8h0M1580.4 219.9h0M1526.9 218h0M1554.8 226.4h0M1599.9 227.3h0M1610.5 221.8h0M1524.9 221.6h0M1540.6 223.7h0M1590 223.5h0M1642 220.5h0M1609.1 220.4h0M1523.3 219.4h0M1534.8 221.7h0M1568.8 221.2h0M1600.4 218.5h0M1548.1 223.8h0M1538.6 223.7h0M1647.6 221.7h0M1533.3 220.3h0M1607 218.7h0M1574.9 224.9h0M1556.2 218.1h0M1596.7 221.5h0M1567.9 223.4h0M1647.7 223.9h0M1620 221.7h0M1526.3 216.3h0M1592.5 223.3h0M1528.2 220.7h0M1626.2 218.6h0M1648.2 221.5h0M1539.6 220.7h0M1589.2 218.5h0M1607.5 221.1h0M1562.4 223.2h0M1561.1 216.7h0M1626.7 220.2h0M1617.5 216.9h0M1621.6 221.5h0M1583.5 221.9h0M1551 224.5h0M1534.6 221.7h0M1565.9 221h0M1622.2 223.4h0M1617 226.3h0M1556.5 224.3h0M1591.4 222.6h0M1556.4 225.8h0M1549.8 226.8h0M1639.9 219.8h0M1552.4 221.6h0M1621.4 217.8h0M1564.7 223.2h0M1639.9 222.6h0M1643.7 220.1h0M1606 223h0M1653.4 225.2h0M1584.1 219.7h0M1636.9 225h0M1579.7 222.3h0M1562.1 225h0M1549.1 222.5h0M1644.1 222.4h0M1540 220.6h0M1646.6 221.5h0M1567.2 221.4h0M1526 221.3h0M1614.4 224.3h0M1620.4 224.6h0M1529.2 223.7h0M1641.4 223h0M1529.3 218h0M1648.6 225.8h0M1534.9 221.4h0M1525 220.6h0M1635.5 220.4h0M1606.1 225h0M1559.4 220.8h0M1623.2 221.1h0M1548.2 222.8h0M1523.2 219.4h0M1555.2 222.5h0M1570.3 217.9h0M1563.9 218.9h0M1636 222.4h0M1604.3 219.2h0M1579.6 221.2h0M1625.4 224h0M1593.4 218.5h0M1549.7 221h0M1543.5 222.6h0M1520.5 220.5h0M1653.2 217.7h0M1520.9 224.6h0M1545.4 221.6h0M1587.5 224.4h0M1555.7 217.9h0M1648.6 222.1h0M1615.4 220h0M1588 219h0M1531.3 219.5h0M1615.1 220.9h0M1568.6 225.2h0M1574.8 225.9h0M1532 218.5h0M1641.1 220.1h0M1556.1 221.5h0M1642.8 224.2h0M1640.4 221.8h0M1552.1 224.7h0M1622.8 221h0M1622.6 223.1h0M1564.7 223.6h0M1541.4 219.7h0M1621.2 224.8h0M1543.4 225.7h0M1599 220.1h0M1537.4 226.8h0M1552.6 220.5h0M1546.3 223h0M1635 218h0M1541.3 220.7h0M1564.7 220.2h0M1591.3 220.6h0M1546 219.8h0M1652.8 221.9h0M1651.1 222.9h0M1534.1 227.1h0M1620 217h0M1579.4 220.6h0M1534.8 218.4h0M1548.4 222.2h0M1574.5 221.3h0M1614.6 225.3h0M1583.3 221.8h0M1539.6 223.8h0M1621 223.3h0M1643.7 224.7h0M1622.1 220.3h0M1577.5 221.2h0M1639.9 217.8h0M1625.5 223.3h0M1612.7 226.4h0M1607.5 223.8h0M1605.7 221.1h0M1533.6 225.6h0M1617.2 219.6h0M1605.9 221.7h0M1582.2 219.1h0M1604.8 224.9h0M1646.7 219.7h0M1545.2 224.2h0M1573.1 225.3h0M1586.9 221.1h0M1594.2 221.9h0M1542.2 220.6h0M1590.9 227.6h0M1534 224.5h0M1617.8 223.1h0M1589.9 224.8h0M1591.2 225.3h0M1576.1 220.1h0M1613.3 222.3h0M1573.7 221.6h0M1654.1 223h0M1568.6 219.9h0M1574.6 221h0M1522.1 224h0M1615.2 220.5h0M1568.2 221.9h0M1621.1 220h0M1648.1 223.5h0M1573.6 222h0M1549.1 218.8h0M1606.5 218.6h0M1584.1 223.4h0M1651.3 222.4h0M1568.3 224.7h0M1583.9 225.3h0M1560.3 223h0M1568.5 222.1h0M1635.9 222h0M1554.8 219.3h0M1578.2 221.7h0M1618.4 221.6h0M1558.5 221.7h0M1585.5 219.6h0M1578.5 224.1h0M1569.6 224.5h0M1646.5 221.2h0M1643.4 222.4h0M1626.9 218.7h0M1606.4 218.1h0M1522.3 215.6h0M1609.5 221.3h0M1554.3 220.6h0M1552.1 220.9h0M1625.8 222.6h0M1643.2 220.6h0M1543.1 219.1h0M1626.5 223.9h0M1611.2 218.3h0M1634.3 224.5h0M1547.1 222.8h0M1621.1 224.6h0M1579.9 219.4h0M1556.3 223.9h0M1552.1 219.9h0M1528.3 219.5h0M1583.8 219.9h0M1588 219.4h0M1593.6 221.6h0M1634.6 222h0M1583.9 225.2h0M1634.5 223.2h0M1571.3 227.3h0M1530.6 218.6h0M1606.9 222.1h0M1603.2 222.2h0M1613.1 219.7h0M1653.7 222.7h0M1589.7 227.1h0M1524.9 221.2h0M1617.9 223.3h0M1637.4 223.4h0M1570.1 224.8h0M1625 221.3h0M1548.9 224.1h0M1595.6 220.7h0M1560.1 220.5h0M1588.8 224h0M1557.2 222h0M1609.3 221.2h0M1563.4 223.9h0M1561 224.8h0M1626.9 223.6h0M1525.8 222.6h0M1594.4 226.9h0M1527.1 221.8h0M1546.1 221.5h0M1645.5 224.6h0M1644 224.1h0M1603.4 224.4h0M1615 224.1h0M1601.4 222.5h0M1611 223.3h0M1582.5 221.6h0M1544.9 222.9h0M1525.3 220.9h0M1609.4 227.2h0M1570.4 219.8h0M1596.7 225.7h0M1555.4 222.6h0M1563.6 219.3h0M1578.8 225.4h0M1527.7 226.3h0M1597.4 220.5h0M1598.5 221.4h0M1645.2 222.1h0M1572.9 221.6h0M1600.8 224.4h0M1584.9 222.7h0M1607.9 221.1h0M1549.2 221.5h0M1521 221.4h0M1613.2 217h0M1532.3 217.2h0M1638.5 221.4h0M1618.1 221.4h0M1553.2 221.9h0M1527.1 223.3h0M1625.5 222.9h0M1619.5 226.5h0M1531.8 224.5h0M1582.9 224.6h0M1647 221.9h0M1617.8 221.3h0M1608.7 221.7h0M1531.1 223.3h0M1542.9 218h0M1637.3 222.6h0M1570.3 221.7h0M1598.5 225.2h0M1540 220.3h0M1569.7 223.9h0M1577.1 224.5h0M1572.7 220.4h0M1626.9 227.6h0M1597.3 222h0M1513.1 216.7h0" stroke="#5b9dcc" stroke-width="5.5" stroke-linecap="round" fill="none"/>
<path d="M1652.7 204.2h0M1615.9 204h0M1602.6 207h0M1653.2 203.4h0M1562.2 208h0M1578.6 203.2h0M1613.4 206.6h0M1602.1 201.5h0M1558.8 207.8h0M1520.5 205.3h0M1600 202.4h0M1640.9 200.5h0M1638.2 203.8h0M1598 205.8h0M1613.4 200.2h0M1644.5 205.7h0M1595.6 204.2h0M1547.5 205.1h0M1552.1 210.9h0M1602.8 206.3h0M1548.4 207.6h0M1554.9 205h0M1582.8 209.5h0M1532.2 203.6h0M1552 209.1h0M1599.1 200.9h0M1591.2 208.2h0M1585.1 206.4h0M1546.4 205.9h0M1544.9 205.8h0M1597 207.3h0M1575 206.5h0M1526.4 205.2h0M1655.8 205.9h0M1606.3 204.2h0M1541.5 206.9h0M1590.9 206.4h0M1523.1 203.5h0M1638 208.3h0M1555.9 204.8h0M1626.2 210.5h0M1624.6 202.3h0M1651.3 205.1h0M1547.6 204.4h0M1544.9 204.4h0M1596.1 204.7h0M1638.6 210.9h0M1644 203.5h0M1529 207.1h0M1536.6 206.5h0M1650.7 205.2h0M1607.4 201.8h0M1650.3 206.3h0M1581.2 207.2h0M1542 206.7h0M1550.4 203.2h0M1568.1 204.6h0M1643 201.1h0M1526.7 207.8h0M1616.7 209.5h0M1527.9 210.9h0M1540 204.9h0M1612.3 211h0M1560.9 208.6h0M1534.6 207.4h0M1564.3 205.1h0M1585.7 203.8h0M1543.2 205h0M1612.4 203.7h0M1522 205.4h0M1525.2 206.7h0M1646.4 204h0M1638.1 199.3h0M1641.1 203.3h0M1533.5 203h0M1646.5 203.1h0M1581.8 208h0M1566.5 203.8h0M1605.7 207.6h0M1539.7 204.9h0M1617.3 204.2h0M1595.5 202h0M1556.5 201.1h0M1576.3 203.9h0M1634.4 203.4h0M1565.8 203.6h0M1563.5 202.5h0M1643.1 199.8h0M1528 200.5h0M1642 205.9h0M1585.2 206.6h0M1559.2 205.1h0M1569.8 203.4h0M1655 199.4h0M1533.6 205.1h0M1559.6 204.4h0M1619 205.6h0M1560.2 204.6h0M1566.6 205.1h0M1539.4 200.3h0M1591.9 205h0M1545.6 210.1h0M1550 202.9h0M1598 204h0M1625 203.9h0M1617 204.7h0M1532.2 204.1h0M1603 207.1h0M1548.3 205h0M1603.5 206.3h0M1599.5 209.5h0M1547.8 201.3h0M1575.8 203.4h0M1618.4 200.8h0M1565.9 203.5h0M1634.7 203.1h0M1522.4 207.3h0M1644 210.1h0M1556.5 204.3h0M1545.6 203.9h0M1542.5 207.1h0M1570.8 205.3h0M1591 205.2h0M1580.9 206.3h0M1617.4 205.2h0M1637.9 206.8h0M1572.1 201.5h0M1622.4 200.4h0M1650 203.2h0M1587.6 208.1h0M1593.3 205.3h0M1523.1 203.3h0M1545.1 205.4h0M1534.3 205.1h0M1524.4 200.4h0M1533.4 205.6h0M1522.7 206.6h0M1601.8 207.8h0M1615.8 206.5h0M1534.3 202.3h0M1526.4 208h0M1537 208h0M1558.3 204.9h0M1536.9 206.2h0M1600.7 204.3h0M1637.3 203.1h0M1621.8 202.5h0M1542.6 202.4h0M1573.1 210.3h0M1577.5 203.4h0M1574.1 207.6h0M1648.2 204.7h0M1553 207.3h0M1565.8 202.3h0M1644.4 203.1h0M1527.6 209.5h0M1590.6 199.4h0M1554.2 206.6h0M1577.7 206.7h0M1592.4 206.8h0M1529.7 207.8h0M1523.1 203.8h0M1539.3 200.8h0M1647.6 205.9h0M1606.4 203.2h0M1640.5 209.9h0M1525 206.3h0M1612.5 206.6h0M1557.5 210.5h0M1604.7 206.6h0M1554.4 207.7h0M1649.5 205.4h0M1559.4 206.3h0M1536.7 201.7h0M1601.1 202.2h0M1556.8 205.9h0M1583.7 206.4h0M1537.2 205.4h0M1538.2 205.8h0M1559.5 202.6h0M1553.4 202.4h0M1634.4 203.4h0M1603.2 208.3h0M1547.7 206.6h0M1616.9 208.1h0M1603.6 204.3h0M1584 205.8h0M1550.4 203.3h0M1590 207.5h0M1521.9 202.8h0M1568.2 203.9h0M1596 206.5h0M1587.1 206.7h0M1560.5 204.9h0M1529.4 206.5h0M1638.7 205.9h0M1573 204.7h0M1580.1 205.2h0M1550.9 206.3h0M1650.7 205.2h0M1566.1 206.5h0M1568.2 206.6h0M1635.8 208.1h0M1590.7 205.4h0M1623.6 209.2h0M1584.9 204.2h0M1644.6 208.9h0M1537.6 204.9h0M1624.4 205.2h0M1599.9 205h0M1598 208.9h0M1638.9 202.9h0M1602.8 207.1h0M1582.5 203.2h0M1618.6 205.7h0M1595.8 202.7h0M1572.6 207h0M1635.8 201.1h0M1588.2 206.6h0M1561.6 204.5h0M1540 208h0M1532.3 206.6h0M1645.4 207.2h0M1634.2 200.8h0M1650.6 204.3h0M1644.1 202.5h0M1521.8 202h0M1587.9 204.1h0M1645.4 204.6h0M1656 208.1h0M1590.6 208.8h0M1573.2 205.5h0M1568.9 207h0M1649.1 206.4h0M1612.2 206.2h0M1571.2 205.2h0M1574.8 208.1h0M1639.9 206.3h0M1651.4 207.7h0M1605.2 204.8h0M1655.7 206.8h0M1543.5 202.5h0M1563.5 200.4h0M1590 205.7h0M1535.3 202h0M1654.9 207.4h0M1641 206.3h0M1559.7 204.4h0M1589.8 206.7h0M1545.1 205.1h0M1605.9 206.9h0M1655.4 206.5h0M1606.8 202.6h0M1562 204.4h0M1614.2 202.9h0M1634.8 205h0M1600 205.9h0M1588 206.5h0M1595.5 205.4h0M1592.5 201.5h0M1655.8 207.4h0M1536.8 206.2h0M1541.6 205h0M1533.9 206.2h0M1543.5 209.7h0M1603.6 205.7h0M1528.8 200.8h0M1564.2 204.7h0M1617.5 206h0M1556.5 203.8h0M1533.8 202.3h0M1567.7 206.9h0M1581.4 205.7h0M1641.3 204.5h0M1599.5 202.5h0M1604.6 205.7h0M1554.2 199.5h0M1636.5 203.5h0M1563.1 201.4h0M1561.6 207.8h0M1602.2 202.2h0M1649.4 205.8h0M1553.3 208.1h0M1550.4 202.5h0M1562.3 203h0M1553.4 207.1h0M1543.9 206.1h0M1652.3 203.8h0M1559.8 206.2h0M1592.8 205.5h0M1572.7 205.8h0M1537.1 204.5h0M1568 205h0M1558.9 203.4h0M1552.5 201.5h0M1566.7 204.3h0M1541.5 205.4h0M1557 206.1h0M1537.7 209.5h0M1541.9 203.4h0M1511.7 200.1h0M1520.7 192.5h0" stroke="#ee7f55" stroke-width="5.5" stroke-linecap="round" fill="none"/>
<path d="M1569 286.4h0M1652.5 291.9h0M1549 277.3h0M1551.7 287.7h0M1582.8 277.7h0M1556.3 277.1h0M1644.4 290.9h0M1554.3 288.7h0M1604.2 281.9h0M1537.2 271.4h0M1591.1 290.5h0M1626.8 286.7h0M1573.4 290.2h0M1563.2 292.8h0M1574.1 281.4h0M1637.7 282.9h0M1564.6 286.9h0M1597.8 288.1h0M1570.2 291.1h0M1529.4 285.2h0M1563.3 284.6h0M1619.2 281.6h0M1559.3 297.8h0M1642.1 276.4h0M1639.1 281.4h0M1524.4 281h0M1614.1 288.6h0M1577.2 290.8h0M1611.2 286.8h0M1637.1 290.2h0M1568.9 288.2h0M1536.2 288.4h0M1646.2 286.3h0M1525.9 296.2h0M1525.8 282.7h0M1562.1 281.2h0M1572.8 279.3h0M1608.4 283.7h0M1545.1 280.3h0M1619.2 292.9h0M1555.5 294.9h0M1568.5 281h0M1520.4 279.1h0M1559.8 295.6h0M1526.2 279.4h0M1526.8 292.8h0M1554 275.7h0M1549.3 277.2h0M1646.5 285.2h0M1616.2 288.2h0M1574.6 285.4h0M1559.1 298.3h0M1532.7 278.2h0M1648.6 287.6h0M1615.7 286.1h0M1607 298.3h0M1582.8 275h0M1579.4 281.6h0M1590.9 281.9h0M1625.4 286.8h0M1526.3 288.9h0M1556.3 297.3h0M1595.7 275.4h0M1595.4 287.1h0M1554.8 279h0M1577.1 282.8h0M1548.1 286.6h0M1617.8 281.7h0M1612.8 284.8h0M1591.4 280h0M1581.7 279.2h0M1561.6 287.7h0M1642.4 279.5h0M1566.3 278.2h0M1596 284.9h0M1612.3 289.4h0M1602.9 296.8h0M1635 282.3h0M1536.1 286.8h0M1548.8 278.8h0M1528.6 286.1h0M1617.1 280.6h0M1582.1 280.5h0M1585 281.1h0M1570.4 283.9h0M1521.8 282.8h0M1657.2 285.2h0M1619.3 288.1h0M1655.5 288.3h0M1587.8 286.5h0M1580.2 281.9h0M1521.5 277h0M1647.2 291.2h0M1649.3 292.9h0M1610.3 285.2h0M1539.4 279.9h0M1524.1 283.1h0M1561.2 298.4h0M1545.9 293.9h0M1648.2 295.5h0M1543.6 282.3h0M1622.7 298.1h0M1565.4 280h0M1564.5 273.2h0M1571.2 291.6h0M1635 287.3h0M1553.3 276.4h0M1607 282.9h0M1617.7 271.2h0M1588.5 294.6h0M1589.2 281.9h0M1600.5 280.2h0M1531.4 286.8h0M1581.5 289.1h0M1654.1 283.5h0M1580.9 284.1h0M1546.6 285.3h0M1636.3 285.7h0M1638.3 283.5h0M1559.4 292.4h0M1611.6 292.5h0M1567 285.9h0M1580.8 291.8h0M1645 296.5h0M1543 287.3h0M1598 277.9h0M1568.3 284.2h0M1565 282.4h0M1583.8 270.1h0M1639.7 287.9h0M1654.7 275.7h0M1528.6 287.5h0M1613.6 289.7h0M1599.1 288.9h0M1651.8 295.2h0M1561.6 284h0M1567.7 283.9h0M1546.4 286.3h0M1613.9 288h0M1611.4 284.2h0M1571.6 291.5h0M1593.4 288.7h0M1598.2 287.9h0M1545.2 283.1h0M1643.1 288.4h0M1639.3 286.2h0M1555.3 278.1h0M1555 280.3h0M1587.8 289.9h0M1599.3 286.9h0M1535.9 294.5h0M1531.4 286h0M1576.6 278.4h0M1639.4 281.8h0M1596.3 287.8h0M1536.1 296.7h0M1657 285.8h0M1634.9 288.4h0M1574.4 276.7h0M1598 269.5h0M1539.2 284.8h0M1553 287.6h0M1571.7 275.8h0M1549.7 284.3h0M1561.7 287.1h0M1642.9 292.3h0M1606 278.9h0M1646.9 291.7h0M1640.4 279.5h0M1567.4 275.1h0M1625.7 290.7h0M1537.2 297h0M1571.8 286.5h0M1619.9 276h0M1534.1 282.6h0M1596 284.1h0M1648 288.4h0M1613.5 285.3h0M1581.9 280.6h0M1635.9 288.2h0M1523.2 286.9h0M1535.5 283.8h0M1596.8 289.4h0M1560.3 287.8h0M1540.2 291.5h0M1641.1 295.6h0M1651.2 287.7h0M1522.2 287.4h0M1589.5 281.8h0M1640.8 284.6h0M1545.5 287h0M1614.1 291.4h0M1542.1 280.2h0M1636.9 296.3h0M1604.6 276.4h0M1530.8 287.5h0M1643.6 280.9h0M1601.6 281.1h0M1570.1 284h0M1584.8 291.3h0M1569.1 288.4h0M1521.1 290.7h0M1523.1 288.2h0M1583.7 283.1h0M1540.4 285.4h0M1612.9 286h0M1589.3 279.6h0M1556.5 293h0M1652.3 288.8h0M1657.2 276.4h0M1626.7 283.3h0M1640.7 283.7h0M1607.9 295h0M1570.4 287.6h0M1640.7 273h0M1649.8 287.7h0M1625.6 290.6h0M1622.3 295.1h0M1568.7 285.7h0M1596.3 287.2h0M1566.8 283.8h0M1564.9 277.2h0M1571 285.8h0M1553.9 284.6h0M1539 278.7h0M1521.3 279.9h0M1581.8 290.8h0M1598.8 286.6h0M1529.5 281.2h0M1561.9 289.2h0M1596.4 274.7h0M1649.6 293.7h0M1600.8 271.9h0M1531.4 281.2h0M1656.5 276.9h0M1569.6 284.1h0M1640.1 292.5h0M1529.7 300.1h0M1558.4 283.7h0M1555.8 281h0M1557.3 284.6h0M1617.5 283.8h0M1548 278.2h0M1603.5 278.5h0M1547.4 292.8h0M1621.6 275.9h0M1531.3 287.4h0M1641.1 287.2h0M1546.3 282h0M1594.4 278.1h0M1647.6 292.2h0M1549.6 290.6h0M1609.8 274.9h0M1576.2 287.9h0M1528.2 290.9h0M1577.5 275.8h0M1566.5 282.4h0M1588.5 289.6h0M1584.2 288.3h0M1522.2 277.1h0M1656.6 289.3h0M1528 293.7h0M1565.7 292.6h0M1533.2 283h0M1626.2 282h0M1532.7 282.3h0M1594.6 291.9h0M1601.5 294.8h0M1603.3 288.7h0M1566 285.5h0M1618.5 290.6h0M1625.6 284.2h0M1626.9 291.1h0M1655.2 290.6h0M1592.5 283.5h0M1650.1 284.5h0M1585.9 284.5h0M1610.7 284.2h0M1656.8 291.8h0M1551.8 285.1h0M1524.2 288.2h0M1538.8 277.5h0M1596.9 282.1h0M1545.4 279h0M1540.9 287.7h0M1544.8 286.4h0M1542.7 300.9h0M1524.3 284.3h0M1655.8 290.3h0M1589.1 289.4h0M1583.8 290h0M1565 282.4h0M1621.5 287.1h0M1529.3 289.5h0M1639.5 290.8h0M1528.6 291.8h0M1647.1 288h0M1650.7 288.7h0M1555.1 288.8h0M1556.5 289.8h0M1548.3 283.1h0M1625 288.9h0M1657.5 289.8h0M1550.2 288.9h0M1639.4 286.9h0M1640.2 286.5h0M1559.3 273.6h0M1566 299.9h0M1542.6 283.8h0M1614.5 291.5h0M1600.2 289.6h0M1642.1 281.6h0M1570 271.1h0M1639.4 279.4h0M1657.6 272.4h0M1561.4 281.8h0M1654.7 284.7h0M1521.6 281.8h0M1621.9 287.3h0M1533.8 280h0M1532.8 275.9h0M1567.2 275.5h0M1642 290.6h0M1655.5 280.2h0M1615.4 284.1h0M1525.5 290.3h0M1579.7 285.3h0M1534.8 282.5h0M1564 282.6h0M1587.5 287.6h0M1539 289.1h0M1614.9 283.3h0M1540.7 285.8h0M1535.8 293.4h0M1569.1 300.9h0M1568.5 284.8h0M1550 271h0M1621.2 288.1h0M1558 282.8h0M1529.8 280.3h0M1526.3 292.3h0M1597.1 285.6h0M1570.3 274.5h0M1610.4 284.5h0M1595.4 295.4h0M1655.8 288.4h0M1640.9 286.6h0M1564.2 292.1h0M1578.1 278.4h0M1573.5 286.4h0M1576.9 269.6h0M1521 297.6h0M1555.4 295.2h0M1604.6 288.9h0M1547.7 281.6h0M1536.3 278.4h0M1645.7 295.4h0M1527.1 287.3h0M1609.5 291h0M1596 292.7h0M1520.4 285.5h0M1590.7 298.9h0M1602 280.1h0M1607.2 285.4h0M1622.9 293.2h0M1574.6 277.6h0M1592.9 293.2h0M1564.8 292h0M1607.1 290h0M1604.8 286.5h0M1556.9 278.5h0M1619.9 289.5h0M1592.3 290.1h0M1539.9 284.5h0M1648.2 293.6h0M1593.1 286.7h0M1553.2 279.1h0M1583.8 273.7h0M1608.7 278.2h0M1640 298.3h0M1526.3 294.9h0M1537.3 276.2h0M1541.5 285.2h0M1569.5 281.9h0M1592.2 288.1h0M1574.9 284.3h0M1657.9 287.8h0M1586.3 292.4h0M1625 279h0M1570.9 276.6h0M1592.1 284.7h0M1567.2 278.5h0M1572.9 280.5h0M1599 284.7h0M1528.3 280.3h0M1558.2 275.1h0M1565 284.5h0M1532.9 271.9h0M1608.1 282.2h0M1578.7 288.8h0M1605.6 286.6h0M1581.4 283.7h0M1571 286.6h0M1576.6 290.9h0M1609.7 282.7h0M1573.5 291.2h0M1600.2 281.1h0M1654.3 287.3h0M1618.5 292.4h0M1565.8 277.7h0M1530.1 284.9h0M1592.9 292h0M1588.8 275.6h0M1523.8 292h0M1602.1 292.8h0M1636.1 283.4h0M1577.6 299.7h0M1581 282.8h0M1588.1 298.2h0M1612.8 286.2h0M1622.5 286.8h0M1614.1 284h0M1596.7 283.7h0M1536.6 297.1h0M1550.8 273.8h0M1534.3 279.2h0M1532.5 285h0M1527.9 294.2h0M1614.3 287.1h0M1527.9 293h0M1615.6 293.3h0M1658 280.6h0M1640.6 281.3h0M1591.8 280.2h0M1521.1 279.6h0M1556.5 285.6h0M1563.5 285.6h0M1597 271.3h0M1590.8 287.2h0M1562.3 284.1h0M1639.9 280.8h0M1555.8 298.3h0M1548.2 277h0M1571.9 282.4h0M1584.4 294.4h0M1570.8 284.5h0M1547.9 277.4h0M1527.4 289.5h0M1563.7 292.2h0M1598.3 286.7h0M1564.9 287h0M1560.5 272.8h0M1618.3 282.1h0M1583 294.1h0M1649.3 298.7h0M1528.3 280.3h0M1580.1 286.6h0M1639.3 286.9h0M1530.2 288.8h0M1647.6 287.7h0M1597.7 282.6h0M1613.3 293h0M1613.4 286.5h0M1636 280.6h0M1540.4 281h0M1534.2 287.5h0M1533.4 281.5h0M1577.5 288.1h0M1645.3 289.7h0M1614.9 283.8h0M1616.3 283.2h0M1526.1 282.2h0M1552.4 290.2h0M1600.6 288.9h0M1541.6 277h0M1646.1 291.2h0M1541.3 273.2h0M1655.5 286.6h0M1572.7 284h0M1608.7 283.7h0M1533.2 276.5h0M1584.4 286.2h0M1614 292.5h0M1536.1 283.5h0M1647.7 288.3h0M1657.7 277.2h0M1560.4 288.4h0M1568.3 285.2h0M1648.6 293.4h0M1533.1 299.1h0M1602.8 283.8h0M1594.9 281.9h0M1557.7 283.2h0M1643.5 282.3h0M1647.9 289.3h0M1524.8 300.1h0M1567.8 295.8h0M1650.6 286.4h0M1566.3 287.1h0M1582.3 285h0M1545 273.7h0M1561.5 277.1h0M1533.5 281.4h0M1596.4 283h0M1584 294.3h0M1525 288.3h0M1609.5 285.4h0M1538.5 290.9h0M1572 288.3h0M1611.8 283h0M1650.2 281.5h0M1566.1 277.4h0M1586.6 297.1h0M1540.9 273.2h0M1536.5 277.2h0M1588.8 288.6h0M1584.9 286h0M1542.9 293.3h0M1570.9 287h0M1547.6 289.1h0M1537.8 282.5h0M1553.4 279.5h0M1643.2 291.2h0M1522.4 277.6h0M1599 288h0M1615.4 283.7h0M1541.5 273.6h0M1556.8 278.3h0M1591.8 283.8h0M1560.6 282.9h0M1600.1 287.1h0M1552.6 295.3h0M1618.4 292.1h0M1528.9 284.9h0M1655.9 275.7h0M1526 293.1h0M1567.5 292.5h0M1584 284.3h0M1650 285.7h0M1577.1 287.7h0M1554.1 283.5h0M1621.5 286.9h0M1567.8 288.8h0M1539.7 283.6h0M1566 280.5h0M1655 272.8h0M1586.5 285.4h0M1588.9 282.4h0M1624 300.2h0M1608.1 282.1h0M1637 275.9h0M1533.1 286.5h0M1542.7 291.5h0M1653.6 290.6h0M1538.9 295.4h0M1634.6 271.2h0M1623.1 291h0M1635.2 282.2h0M1580.4 294h0M1634.2 282.1h0M1561.6 299h0M1652.9 288.5h0M1536.3 273.1h0M1555.1 287.6h0M1636 284.7h0M1583.5 280.6h0M1553 300.5h0M1614.9 284.5h0M1618.3 294.7h0M1614.5 277.5h0M1650.2 281.9h0M1532.3 291.5h0M1610.3 281.9h0M1602.4 290.6h0M1635.7 285h0M1587.8 285.8h0M1522.6 275.3h0M1578.1 277h0M1603.7 291.3h0M1549.8 283.5h0M1569.1 279.7h0M1560.6 293.3h0M1532.4 286.6h0M1581.3 274.4h0M1611.5 283.9h0M1614.5 288.5h0M1526 283.2h0M1557.8 289.2h0M1652.4 288.4h0M1643.1 281.4h0M1604.5 279.7h0M1589.2 289.5h0M1652.2 286.1h0M1546.4 283.2h0M1593 288.8h0M1520.4 277.6h0M1583 270.1h0M1554.9 287.1h0M1596.6 282.6h0M1639.3 292h0M1648.4 285.8h0M1643.6 286.6h0M1606.4 287.6h0M1581.6 278.8h0M1611.5 286.9h0M1607.5 291.2h0M1613.7 279.2h0M1645.5 291.8h0M1655 285.1h0M1528.2 279.8h0M1597.2 294.3h0M1582.1 285.1h0M1620.9 299.9h0M1623.8 279.1h0M1539.2 283.8h0M1651.8 282.1h0M1601.4 287.7h0M1599.9 278.5h0M1623.4 283.2h0M1608.8 287.5h0M1560.5 273.5h0M1595.4 275.9h0M1609.8 281.6h0M1572.8 295.1h0M1653.2 287.9h0M1558.6 295.6h0M1542.6 296.8h0M1568.2 291.1h0M1539.6 299.5h0M1542.7 286.6h0M1622.2 282.3h0M1527.7 279.9h0M1561.4 298.7h0M1653.1 272.9h0M1546.1 291.3h0M1547.5 269.5h0M1564.6 288.3h0M1556.2 283.9h0M1574.7 298.7h0M1557.1 273.3h0M1548.5 278.7h0M1635.8 289.3h0M1608.2 284.1h0M1541.3 291.2h0M1624.8 294h0M1612.8 283.5h0M1624.1 286.2h0M1646.9 278.6h0M1593.3 287.5h0M1556.1 275.6h0M1626.7 272.5h0M1598.5 281.8h0M1569.1 280.1h0M1553.9 287.2h0M1529.9 296.4h0M1613.9 288.7h0M1577.3 284h0M1562.7 288.4h0M1609.3 275.5h0M1615.8 287.2h0M1574.7 274.4h0M1567.5 289.4h0M1574.5 283h0M1545.9 291.3h0M1640.6 293.5h0M1612.7 286.9h0M1644.7 280.9h0M1529.4 280.4h0M1577.3 298.9h0M1612.4 285.4h0M1600 292.7h0M1558.1 280h0M1636.9 282h0M1541.2 298.2h0M1613 285h0M1644.2 293.4h0M1644.3 285.8h0M1609.8 298.2h0M1641.5 277.8h0M1617.4 277.2h0M1514.1 286.4h0M1512.1 294.7h0M1523.4 298.8h0M1563.6 302.9h0M1597.5 312.2h0M1592 320.4h0M1637.7 305h0M1625.3 306h0M1604.7 305h0M1532.3 269.9h0M1543 267.9h0M1600.6 266.8h0" stroke="#555555" stroke-width="5.8" stroke-linecap="round" fill="none"/>
<rect x="1498.7" y="63.6" width="163.3" height="273.2" fill="none" stroke="#000" stroke-width="2.3"/>
<line x1="1498.7" y1="161.2" x2="1662" y2="161.2" stroke="#000" stroke-width="2.3"/>
<line x1="1498.7" y1="259" x2="1662" y2="259" stroke="#000" stroke-width="2.3"/>
<line x1="1493.1" y1="157.5" x2="1498.7" y2="157.5" stroke="#000" stroke-width="1.9"/>
<line x1="1493.1" y1="255.1" x2="1498.7" y2="255.1" stroke="#000" stroke-width="1.9"/>
<line x1="1493.1" y1="136.7" x2="1498.7" y2="136.7" stroke="#000" stroke-width="1.9"/>
<line x1="1493.1" y1="234.2" x2="1498.7" y2="234.2" stroke="#000" stroke-width="1.9"/>
<line x1="1493.1" y1="115.8" x2="1498.7" y2="115.8" stroke="#000" stroke-width="1.9"/>
<line x1="1493.1" y1="213.4" x2="1498.7" y2="213.4" stroke="#000" stroke-width="1.9"/>
<line x1="1493.1" y1="94.9" x2="1498.7" y2="94.9" stroke="#000" stroke-width="1.9"/>
<line x1="1493.1" y1="192.5" x2="1498.7" y2="192.5" stroke="#000" stroke-width="1.9"/>
<line x1="1493.1" y1="74.1" x2="1498.7" y2="74.1" stroke="#000" stroke-width="1.9"/>
<line x1="1493.1" y1="171.7" x2="1498.7" y2="171.7" stroke="#000" stroke-width="1.9"/>
<line x1="1493.1" y1="323.5" x2="1498.7" y2="323.5" stroke="#000" stroke-width="1.9"/>
<line x1="1493.1" y1="302.9" x2="1498.7" y2="302.9" stroke="#000" stroke-width="1.9"/>
<line x1="1493.1" y1="282.3" x2="1498.7" y2="282.3" stroke="#000" stroke-width="1.9"/>
<text x="1485.7" y="101.1" font-size="17.3" text-anchor="end" fill="#1a1a1a" stroke="#1a1a1a" stroke-width="0.35" textLength="32" lengthAdjust="spacingAndGlyphs">0.75</text>
<text x="1485.7" y="142.8" font-size="17.3" text-anchor="end" fill="#1a1a1a" stroke="#1a1a1a" stroke-width="0.35" textLength="32" lengthAdjust="spacingAndGlyphs">0.25</text>
<text x="1485.7" y="198.7" font-size="17.3" text-anchor="end" fill="#1a1a1a" stroke="#1a1a1a" stroke-width="0.35" textLength="32" lengthAdjust="spacingAndGlyphs">0.75</text>
<text x="1485.7" y="240.4" font-size="17.3" text-anchor="end" fill="#1a1a1a" stroke="#1a1a1a" stroke-width="0.35" textLength="32" lengthAdjust="spacingAndGlyphs">0.25</text>
<text x="1485.7" y="288.5" font-size="17.3" text-anchor="end" fill="#1a1a1a" stroke="#1a1a1a" stroke-width="0.35">1</text>
<text x="1485.7" y="329.7" font-size="17.3" text-anchor="end" fill="#1a1a1a" stroke="#1a1a1a" stroke-width="0.35">−1</text>
<text font-size="18.4" text-anchor="middle" fill="#1a1a1a" stroke="#1a1a1a" stroke-width="0.35" transform="translate(1447.2 115.8) rotate(-90)">ASE</text>
<text font-size="18.4" text-anchor="middle" fill="#1a1a1a" stroke="#1a1a1a" stroke-width="0.35" transform="translate(1447.2 213.4) rotate(-90)">BAF</text>
<text font-size="18.4" text-anchor="middle" fill="#1a1a1a" stroke="#1a1a1a" stroke-width="0.35" transform="translate(1447.2 298) rotate(-90)">logR</text>
<rect x="1467.5" y="373.3" width="115.3" height="16.5" rx="3.5" fill="#000"/>
<rect x="1585.1" y="373.3" width="111.8" height="16.5" rx="3.5" fill="#000"/>
<rect x="1582.3" y="377.3" width="3.4" height="8.5" fill="#000"/>
<rect x="1471" y="376.9" width="3.9" height="9.2" fill="#c8c8c8"/>
<rect x="1474.9" y="376.9" width="3.1" height="9.2" fill="#f4f4f4"/>
<rect x="1478" y="376.9" width="2.8" height="9.2" fill="#b5b5b5"/>
<rect x="1480.8" y="376.9" width="2.8" height="9.2" fill="#f4f4f4"/>
<rect x="1483.6" y="376.9" width="2.8" height="9.2" fill="#d5d5d5"/>
<rect x="1486.4" y="376.9" width="3.4" height="9.2" fill="#f4f4f4"/>
<rect x="1489.7" y="376.9" width="2.8" height="9.2" fill="#bdbdbd"/>
<rect x="1492.5" y="376.9" width="3.4" height="9.2" fill="#f4f4f4"/>
<rect x="1495.9" y="376.9" width="2.8" height="9.2" fill="#d0d0d0"/>
<rect x="1498.7" y="376.9" width="3.5" height="9.2" fill="#f4f4f4"/>
<rect x="1502.2" y="376.9" width="3.5" height="9.2" fill="#c4c4c4"/>
<rect x="1505.7" y="376.9" width="4.2" height="9.2" fill="#eeeeee"/>
<rect x="1509.9" y="376.9" width="3.9" height="9.2" fill="#8a8a8a"/>
<rect x="1513.8" y="376.9" width="4.5" height="9.2" fill="#f4f4f4"/>
<rect x="1518.2" y="376.9" width="2.8" height="9.2" fill="#c9c9c9"/>
<rect x="1521" y="376.9" width="2.8" height="9.2" fill="#f4f4f4"/>
<rect x="1523.8" y="376.9" width="8.1" height="9.2" fill="#8f8f8f"/>
<rect x="1545.1" y="376.9" width="4.2" height="9.2" fill="#f4f4f4"/>
<rect x="1551.8" y="376.9" width="2.2" height="9.2" fill="#f4f4f4"/>
<rect x="1554" y="376.9" width="4.1" height="9.2" fill="#6a6a6a"/>
<rect x="1558.1" y="376.9" width="2.4" height="9.2" fill="#f4f4f4"/>
<rect x="1566.1" y="376.9" width="4.2" height="9.2" fill="#f4f4f4"/>
<rect x="1570.2" y="376.9" width="4.8" height="9.2" fill="#8a8a8a"/>
<rect x="1575" y="376.9" width="2.8" height="9.2" fill="#f4f4f4"/>
<rect x="1598.2" y="376.9" width="4.2" height="9.2" fill="#f4f4f4"/>
<rect x="1602.4" y="376.9" width="2.8" height="9.2" fill="#b0b0b0"/>
<rect x="1605.2" y="376.9" width="2.8" height="9.2" fill="#f4f4f4"/>
<rect x="1609.9" y="376.9" width="3.4" height="9.2" fill="#f4f4f4"/>
<rect x="1615.5" y="376.9" width="3.4" height="9.2" fill="#f4f4f4"/>
<rect x="1621.1" y="376.9" width="3.4" height="9.2" fill="#f4f4f4"/>
<rect x="1624.5" y="376.9" width="3.6" height="9.2" fill="#6e6e6e"/>
<rect x="1628.1" y="376.9" width="4.2" height="9.2" fill="#b9b9b9"/>
<rect x="1632.3" y="376.9" width="2.8" height="9.2" fill="#f4f4f4"/>
<rect x="1642.1" y="376.9" width="2.8" height="9.2" fill="#f4f4f4"/>
<rect x="1653.3" y="376.9" width="5" height="9.2" fill="#f4f4f4"/>
<rect x="1658.3" y="376.9" width="5.6" height="9.2" fill="#c9c9c9"/>
<rect x="1672.9" y="376.9" width="4.8" height="9.2" fill="#f0f0f0"/>
<rect x="1677.6" y="376.9" width="3.1" height="9.2" fill="#a9a9a9"/>
<rect x="1680.7" y="376.9" width="2.8" height="9.2" fill="#f4f4f4"/>
<rect x="1683.5" y="376.9" width="7.5" height="9.2" fill="#555555"/>
<rect x="1691" y="376.9" width="4.5" height="9.2" fill="#f4f4f4"/>
<path d="M1578.4 376.9L1583.4 381.5L1578.4 386.1Z" fill="#8c1c1c"/>
<path d="M1590.2 376.9L1584.8 381.5L1590.2 386.1Z" fill="#b02a2a"/>
<path d="M1498.7 337.3L1651 367M1662 337.3L1698.3 365.5" stroke="#d4232b" fill="none" stroke-width="3.6"/>
<rect x="1651" y="366.8" width="47.2" height="28.4" fill="none" stroke="#d4232b" stroke-width="2.1"/>
<text x="1452.1" y="387.3" font-size="18.4" text-anchor="end" fill="#1a1a1a" stroke="#1a1a1a" stroke-width="0.35" textLength="35.5" lengthAdjust="spacingAndGlyphs">chr1</text>
<text x="1562.1" y="421.6" font-size="17.3" text-anchor="middle" fill="#1a1a1a" stroke="#1a1a1a" stroke-width="0.35" textLength="87" lengthAdjust="spacingAndGlyphs">CRUK0005</text>
<text x="1573" y="57" font-size="18.4" text-anchor="middle" fill="#1a1a1a" stroke="#1a1a1a" stroke-width="0.35" textLength="77.5" lengthAdjust="spacingAndGlyphs">Sample 3</text>
<line x1="1803.9" y1="115.8" x2="1962" y2="115.8" stroke="#b9b9b9" stroke-width="1.2" stroke-dasharray="16 9"/>
<line x1="1803.9" y1="213.4" x2="1962" y2="213.4" stroke="#b9b9b9" stroke-width="1.2" stroke-dasharray="16 9"/>
<line x1="1803.9" y1="302.9" x2="1962" y2="302.9" stroke="#b9b9b9" stroke-width="1.2" stroke-dasharray="16 9"/>
<path d="M1928.5 118.7h0M1872 104.9h0M1896.8 119h0M1925.3 124.4h0M1837.6 124.4h0M1867 125.6h0M1914.9 124.6h0M1867.3 119.8h0M1928.7 133.7h0M1905.4 125.2h0M1862.7 131h0M1839.8 103.4h0M1844.2 120.2h0M1856.9 118.8h0M1869.8 123.1h0M1913.1 129.3h0M1917.7 99.3h0M1856.5 123.1h0M1898.9 121.2h0M1842.1 118.8h0M1912.1 110.8h0M1888.3 127.1h0M1815.3 118.3h0M1921 128.4h0M1862.4 121.8h0M1903.9 120h0M1850.4 121.2h0M1909.5 143.2h0M1841 131.8h0M1922.6 102.4h0M1918.3 123.9h0M1909.1 123.3h0M1897.4 130.3h0M1868.6 142h0M1894.9 127.3h0M1840 136.4h0M1916.7 127.8h0M1837.5 114.4h0M1841.2 124h0M1862.7 134.1h0M1837.3 143.3h0M1835.3 124.9h0M1921.7 101h0M1891.9 130.9h0M1908.5 123.7h0M1926.2 127.1h0M1853.3 129.4h0M1856.1 128.3h0M1901.9 113h0M1906.4 130.5h0M1846.6 119.9h0M1862 120.7h0M1860.7 125.4h0M1870.2 125.6h0M1942.7 122.4h0M1839.7 116.8h0M1858.2 125.5h0M1858.7 131.6h0M1865.4 131.6h0M1892.4 125.6h0M1872.4 137.3h0M1842 136.8h0M1885.7 146.7h0M1835.4 125h0M1871.3 128.4h0M1924.3 122.5h0M1926.5 112.8h0M1843.5 123.9h0M1919.3 129.2h0M1855.6 102.7h0M1898 129.5h0M1896.4 129.9h0M1867.4 125.5h0M1892.6 129.8h0M1917.6 143.3h0M1858 119.9h0M1912.6 117.5h0M1863.5 128.2h0M1925.9 127.8h0M1926.3 132.1h0M1919.6 130.3h0M1908.6 126.1h0M1899.7 136.3h0M1924.8 122.9h0M1842.2 123.6h0M1917.6 147.5h0M1953.4 127.9h0M1869.4 122.4h0M1865.7 114.7h0M1854.6 117.3h0M1841.2 118.6h0M1870 120.7h0M1839.5 138.5h0M1916.3 139.4h0M1927.1 105.1h0M1904.3 119.3h0M1872.1 113.2h0M1925.2 136.9h0M1862.5 117.7h0M1851.8 126.5h0M1925.5 129.1h0M1837.4 130.7h0M1894.8 131.9h0M1865.2 132.5h0M1915.3 129.3h0M1863 100.8h0M1903.9 113.4h0M1910.2 126.7h0M1869.7 112.6h0M1897 131.9h0M1868.3 115.7h0M1928 133.2h0M1859.6 111.7h0M1871.7 135.8h0M1846.3 125.5h0M1924.5 132.4h0M1905.4 122.3h0M1844.9 131.6h0M1851.5 121.2h0M1839.7 115.7h0M1887.5 125.4h0M1851.7 123.1h0M1888.9 116.9h0M1918.9 124.2h0M1923.5 123.6h0M1891.1 135.1h0M1889 114.8h0M1890.8 132.1h0M1906.3 120.9h0M1944.7 125.2h0M1944 120.6h0M1928 121.1h0M1920.7 132.4h0M1867.2 132h0M1917 127.7h0M1868.6 132.4h0M1899.4 138.4h0M1924.4 116.6h0M1908.3 104h0M1952 126.1h0M1861.2 118.5h0M1890.1 121.6h0M1846.7 128.5h0M1867.1 126.9h0M1915.3 134h0M1851.4 124.3h0M1901.4 120.9h0M1839.5 127.1h0M1889.1 118.4h0M1845.5 117.8h0M1871.1 135.2h0M1908.5 131h0M1839.3 134.8h0M1843.2 130.3h0M1908.3 126.6h0M1848.9 138.3h0M1906.6 121.5h0M1842.5 136.8h0M1918 119.6h0M1898.8 128.2h0M1851.4 136.7h0M1869.8 122h0M1912.4 84.1h0M1889 135.1h0M1861.5 135h0M1837.3 139.3h0M1862.3 134.5h0M1914 130.9h0M1917.4 125.6h0M1837.5 105.2h0M1909.5 130.2h0M1861 123.4h0M1835.4 132h0M1912.7 127.8h0M1907.1 125.1h0M1920.4 108.8h0M1858.8 132.6h0M1921.9 116.6h0M1904.2 127.9h0M1852 113.4h0M1865.5 128.1h0M1897.4 134.1h0M1872.6 128.3h0M1840.8 127.5h0M1901.1 126.8h0M1834.6 136.2h0M1901.9 121.7h0M1911.5 125.7h0M1860 113.1h0M1860.3 129.5h0M1898.5 120.8h0" stroke="#ee7f55" stroke-width="5.5" stroke-linecap="round" fill="none"/>
<path d="M1894.1 104.4h0M1896.8 107.8h0M1837.9 106.9h0M1896.9 94.2h0M1834.8 108.4h0M1897.3 110.3h0M1904.3 103.9h0M1869.8 105.8h0M1895.2 119.7h0M1953.2 83.3h0M1921.7 84.9h0M1873.2 104.2h0M1869.4 109.3h0M1938.5 120.9h0M1922.2 104.8h0M1826.1 97.5h0M1850.7 104.4h0M1825.9 135h0M1853.8 107.1h0M1950.6 124.1h0M1919.4 107.6h0M1826.3 89.1h0M1851.4 104.2h0M1839.7 115.1h0M1917.3 99.4h0M1939.8 108.2h0M1900.5 106.9h0M1841.1 109.4h0M1924.4 97.4h0M1826.1 110.8h0M1864.2 103h0M1908.7 113.1h0M1906.9 106.8h0M1906.1 100.2h0M1866.4 110.9h0M1922.5 112.8h0M1850.5 102h0M1890.2 97.6h0M1927.6 99.1h0M1835.6 89.4h0M1851.9 97.4h0M1942.5 105.6h0M1928.2 103.8h0M1941.3 121.9h0M1910.3 102.9h0M1843.8 103.7h0M1856.6 120.3h0M1915.3 100.4h0M1894.1 101.2h0M1899.8 114.6h0M1841.1 119.8h0M1889.8 106.8h0M1841.1 113.4h0M1847.1 106.6h0M1888.7 99.1h0M1861.3 100.3h0M1871.9 111.7h0M1857 105.3h0M1858.9 151.7h0M1918.7 108.3h0M1837.1 117.5h0M1839.3 116h0M1924.6 112.3h0M1869.7 101.8h0M1890.3 96.5h0M1913.3 109.7h0M1849.7 126h0M1865.9 102.7h0M1921.4 121.4h0M1852.6 98.3h0M1853.1 104.4h0M1871.7 111.9h0M1912.9 114.2h0M1899.3 109.5h0M1928.1 95.5h0M1918.5 99.9h0M1858.8 104.7h0M1925.2 125.6h0M1825.6 107.5h0M1919.8 100.4h0M1868.7 127.8h0M1903.6 89.4h0M1920.7 100.4h0M1907.4 107.2h0M1868.3 120.6h0M1867.5 110.4h0M1908.2 119.7h0M1862.8 98.5h0M1918.9 113.7h0M1917.9 103.4h0M1866.2 105.8h0M1925.1 95h0M1867.3 100.6h0M1941.3 124.3h0M1860.1 111.6h0M1855.5 123h0M1867.2 116.4h0M1903.6 110.1h0M1906.3 150h0M1908 116.7h0M1838.1 114.3h0M1837.6 111.6h0M1888.7 110.3h0M1863 109.6h0M1868.1 104h0M1915.4 100.7h0M1868.7 88.4h0M1865.4 104.2h0M1927.6 106.9h0M1918.8 115.8h0M1846.5 115.7h0M1926.5 109.6h0M1865.4 123.5h0M1910.3 96.4h0M1871.9 95.2h0M1916.9 120.7h0M1856.6 99.4h0M1862.8 117.9h0M1861.6 103.9h0M1835.7 104.1h0M1826.5 125.8h0M1841.8 123.1h0M1914.5 111.6h0M1901.9 107.3h0M1859.9 109.4h0M1908.3 110.3h0M1909 108.4h0M1826 130h0M1842.2 99.9h0M1917.6 104.3h0M1886.4 102.3h0M1847.2 93.5h0M1917.7 110.1h0M1907.4 107.7h0M1871 99.7h0M1840.4 114.3h0M1872.9 104.5h0M1903.2 102.3h0M1841.6 106.3h0M1913 111.7h0M1848 112.2h0M1902.7 126.8h0M1842.4 91.1h0M1856.1 103.5h0M1864.4 100.1h0M1886.7 103.9h0M1922 88.7h0M1924.3 102.1h0M1954.7 125.7h0M1848.7 95.6h0M1838.8 97.9h0M1896.5 99.5h0M1894 104.8h0M1907 123.5h0M1941.8 116.5h0M1911.7 94.2h0M1856.7 108h0M1943.8 96.1h0M1907.5 100.1h0M1912.4 102.3h0M1826 115.8h0M1894.5 102h0M1863.1 100.9h0M1893.5 117.6h0M1894.2 113.7h0M1837.7 103h0M1862.4 100.9h0M1910 97.9h0M1837.1 106.7h0M1835.1 123.9h0M1838.8 108.6h0M1912.1 102.4h0M1901.1 105.6h0M1925.6 100.4h0M1866.9 123.1h0M1843.7 97.6h0M1907.9 103.6h0M1872.2 100h0M1917.1 101.7h0M1858.6 113.1h0M1826 102.5h0M1918.6 114.9h0M1886.3 98h0M1925.1 111.3h0M1849.6 99.2h0M1950.4 98.4h0M1908.9 108h0M1841.7 108.8h0M1857.8 108.9h0M1851.6 105.2h0M1816.7 96.6h0M1870 118.6h0M1836.6 102.6h0M1843.2 106.5h0M1871.9 104.9h0M1938.6 115.3h0M1870.1 109.8h0M1953.2 80.8h0M1924.1 102.1h0M1872.6 93.8h0M1903.9 97.7h0M1927.5 121.3h0M1888.4 97.8h0M1921 100.1h0M1922.9 116.9h0M1825.9 120.8h0M1849.9 101.6h0M1899.6 112.2h0M1844.3 94.1h0M1873.2 99.5h0M1894.5 106.6h0M1903.2 119.4h0M1865.6 111h0M1938 128.4h0" stroke="#5b9dcc" stroke-width="5.5" stroke-linecap="round" fill="none"/>
<path d="M1954.5 219.6h0M1943.2 216.7h0M1868.7 215h0M1879.7 220.4h0M1846.1 218.4h0M1917.5 220.2h0M1859.7 219.8h0M1863.3 222.1h0M1860.3 218.2h0M1838.7 222.1h0M1893.5 214h0M1847.6 220h0M1853.8 216.7h0M1886.2 216.5h0M1833.3 218.4h0M1947.1 219.7h0M1823.8 221.9h0M1880.9 220.8h0M1900.7 215.4h0M1848.8 217.5h0M1826.8 215.6h0M1843.5 216.4h0M1948.4 221.3h0M1903 214h0M1831.1 219.1h0M1831.6 218.3h0M1866.8 224.6h0M1889.1 217.2h0M1909.8 218.8h0M1957.5 219.3h0M1904.2 222.3h0M1928.5 217.2h0M1914.4 217.5h0M1897.9 219.4h0M1921.7 215.3h0M1858.4 223.9h0M1905.5 220.6h0M1858.7 217.3h0M1830.1 224.1h0M1867.4 217.6h0M1906.2 222.8h0M1891.8 222.1h0M1921.9 218.8h0M1838.5 219.7h0M1847.3 221.3h0M1921.8 221.8h0M1908.2 216.8h0M1918.1 218.4h0M1924 218.4h0M1891.1 223.4h0M1911.9 221.7h0M1856.9 219.4h0M1890.9 221.1h0M1885.1 222.1h0M1866.1 223h0M1919.2 218.4h0M1953.9 216.3h0M1905.1 216.2h0M1841.3 219.3h0M1957.8 222.3h0M1823.3 221.8h0M1835.4 217.6h0M1899 225h0M1955.9 218.2h0M1916 220.6h0M1906.7 219.6h0M1940 218h0M1880.2 217.7h0M1865.2 218.3h0M1952.5 217.7h0M1844.8 220.1h0M1903 215.1h0M1900.6 219.4h0M1947.8 215h0M1847.1 223h0M1940.6 217.6h0M1874.7 219.9h0M1829.6 220.9h0M1888.6 218.3h0M1877.7 222.7h0M1887.6 221.6h0M1890 220.3h0M1889.6 220.4h0M1896.9 219.9h0M1860.7 218.9h0M1952.8 221.4h0M1924.4 221.3h0M1893 222.5h0M1852.7 220.7h0M1837 215.5h0M1929.3 217.8h0M1841.6 219h0M1839.2 214.5h0M1959.5 217.8h0M1939.9 221.6h0M1875.1 219.4h0M1914.5 214.1h0M1864.3 221.5h0M1848.6 221.1h0M1893.2 218h0M1879.1 218h0M1888.4 220.3h0M1897.9 222.1h0M1865.9 221.6h0M1943.4 218.5h0M1937.2 221.9h0M1841.6 219.8h0M1893.6 220h0M1873.6 218.3h0M1906.6 216.1h0M1925.2 215.5h0M1889 215h0M1924.6 218.9h0M1913.3 214.8h0M1899.3 217.2h0M1871.3 216.1h0M1874.1 216.2h0M1858.4 218.9h0M1890.4 220.4h0M1890 217.4h0M1919.2 220.1h0M1853.2 217.7h0M1928.1 220h0M1870.9 219.9h0M1924.6 222.2h0M1947.1 218.3h0M1858.1 221.9h0M1939.7 221.2h0M1946.5 214.1h0M1839.4 214.6h0M1860.1 222.2h0M1874.5 218h0M1921.4 221h0M1944.2 218.6h0M1867.2 218.9h0M1874 220.6h0M1944.3 214.8h0M1910.8 220.9h0M1945.8 217.7h0M1827.1 219.7h0M1833.2 220.9h0M1829.4 222.6h0M1831.6 220.2h0M1832.2 221.9h0M1955.2 218.6h0M1875.6 218h0M1860.2 222.8h0M1890.7 219.7h0M1905.8 219.2h0M1859.8 219.3h0M1894.2 217.5h0M1949.7 219h0M1897.8 219.3h0M1939.1 219.1h0M1943.9 220.2h0M1917.5 218.7h0M1837.1 221.1h0M1825.5 218.7h0M1877.1 220.8h0M1844.3 218.7h0M1868.5 217.9h0M1917.3 218.5h0M1879.7 221.2h0M1873.1 220.7h0M1911.4 221.8h0M1872.5 220.8h0M1923.9 224.6h0M1943 214.6h0M1944.1 219.6h0M1865.3 217.5h0M1915.9 221.7h0M1828.4 221.1h0M1888.9 221h0M1870.1 222.5h0M1917.9 216.8h0M1857.5 220.8h0M1916.4 221h0M1848 218.2h0M1900.1 220.6h0M1840.6 215.7h0M1840.1 219.6h0M1924.2 219.4h0M1850.4 217.8h0M1907.9 220.2h0M1956.2 215.7h0M1887.5 220.8h0M1949.9 223.4h0M1859.6 219.5h0M1914 217.3h0M1875.8 219.8h0M1844.4 220.5h0M1959.4 218.1h0M1871.7 220.4h0M1896.6 218.4h0M1946.8 221.7h0M1936.9 218.3h0M1832.1 220.4h0M1883 216.8h0M1853.5 221.9h0M1921.7 220.4h0M1901.8 218.5h0M1915.3 218.8h0M1941.5 217.2h0M1883.4 217.6h0M1945.7 222h0M1943.4 220.5h0M1944 218.6h0M1859.9 221.1h0M1877.7 220.1h0M1867 217.8h0M1898.4 218.4h0M1899.4 219.1h0M1927 219h0M1914.7 217h0M1842 219.2h0M1958.7 219.8h0M1871 218.9h0M1899.5 220.9h0M1907.3 219.9h0M1857.4 218.5h0M1857 217.3h0M1901.1 218.5h0M1940.3 219.5h0M1952.2 222.9h0M1860 220.1h0M1826.2 220.1h0M1886.7 219.5h0M1944.3 217h0M1927.9 218.3h0M1859.2 219.1h0M1890.7 213.6h0M1865 222.9h0M1928 220h0M1951.1 224h0M1878.8 218.7h0M1946 219.5h0M1842.1 219.5h0M1867.2 219.7h0M1860.8 222.2h0M1958.8 221.1h0M1865.6 221.2h0M1832 221.2h0M1859.1 222h0M1852.1 218.9h0M1840.8 218.5h0M1864.6 218.6h0M1844.2 217h0M1873.9 219h0M1877.6 218.8h0M1830 214.2h0M1937.9 215.8h0M1927.1 217.7h0M1832 219h0M1903.5 221.2h0M1887.7 220.3h0M1951.4 223.6h0M1944.4 219.2h0M1832.5 223.6h0M1943.6 215.6h0M1929.4 219.6h0M1922.9 219.3h0M1913.6 218.5h0M1907.3 219.7h0M1870.1 222.9h0M1880.9 217.8h0M1955.6 218.1h0M1924 219.8h0M1924.8 221.8h0M1937.4 218.1h0M1891.5 221.5h0M1828.7 217h0M1948.8 221.9h0M1861.8 219.7h0M1829.2 217.1h0M1896.4 218.5h0M1867.8 219.4h0M1848.7 215.7h0M1887.1 220h0M1955.4 219.5h0M1926 218.3h0M1848.5 220h0M1949.4 218.9h0M1838.6 220.6h0M1837.1 219.3h0M1848.2 217.3h0M1828.1 220.9h0M1870.6 216.7h0M1851.3 216.6h0M1889.8 219h0M1954.6 219.2h0M1883.2 218h0M1926.5 218.5h0M1890.9 219.9h0M1830.5 214.6h0M1831.9 224.1h0M1951.8 218.6h0M1868.6 220.7h0M1950.1 217.5h0M1862.4 219.7h0M1879.8 219.7h0M1814.6 219.2h0M1898 196.7h0" stroke="#ee7f55" stroke-width="5.5" stroke-linecap="round" fill="none"/>
<path d="M1916.2 206.7h0M1886.6 207.4h0M1911.7 206.2h0M1895.8 208.9h0M1955.7 200.6h0M1899.6 203.9h0M1918.7 206.4h0M1938.5 202.9h0M1851.4 207.5h0M1851.6 206.2h0M1902.4 207.8h0M1828.5 206.7h0M1870 204.4h0M1908.2 206.4h0M1832.3 206h0M1851 207.3h0M1928.3 211.3h0M1850.3 204.5h0M1874.2 205.5h0M1906.8 206.6h0M1839.8 205h0M1835.9 208.9h0M1890.3 206.5h0M1839 202.6h0M1953.2 202.7h0M1833.6 207.4h0M1888.3 207.7h0M1850.1 207.8h0M1910.5 205.4h0M1873.1 208h0M1913 203.4h0M1859.5 206.5h0M1906.5 206.7h0M1824.9 208.7h0M1941.5 203.9h0M1876 206.5h0M1943.4 205.2h0M1928.2 203.4h0M1884.9 204.1h0M1851.5 206.2h0M1827 206.7h0M1903.7 208.8h0M1942.4 207h0M1832.8 207.6h0M1846.2 209.2h0M1912.1 206.4h0M1831.2 206.2h0M1882.2 205.8h0M1854.4 207.5h0M1830.7 206.6h0M1959.8 208.8h0M1950.5 210h0M1893.8 208.8h0M1936.6 207.8h0M1893.5 202.6h0M1823.4 203.8h0M1954.1 207.8h0M1947 210.5h0M1913.7 203.5h0M1943.9 206.8h0M1882.2 205h0M1873 204.3h0M1936.8 205.4h0M1879.4 207.1h0M1899.7 202h0M1835.8 207h0M1959.7 207.2h0M1855.4 206.7h0M1913.6 208.5h0M1871.2 206.4h0M1856.5 208.7h0M1958.4 207.8h0M1903.5 205.7h0M1841.7 205.3h0M1945.9 205.2h0M1842.6 209.1h0M1900.1 204.7h0M1954.8 203.2h0M1920.5 202.9h0M1854.2 203.2h0M1837.9 206.5h0M1863.1 208.7h0M1907.6 208.7h0M1947.8 204.7h0M1897.3 206h0M1876.2 210.6h0M1863.9 205.6h0M1912.9 203.3h0M1880.3 205h0M1958.9 207.3h0M1899.6 201.7h0M1949.8 200.9h0M1836.2 207.7h0M1905 207.7h0M1853 202.5h0M1875.5 204.1h0M1911.7 206.9h0M1865.5 205.2h0M1895.6 205h0M1867.1 204.2h0M1915.3 206.5h0M1872.1 206.9h0M1953.1 209.3h0M1923.3 206.7h0M1874 207.3h0M1917 207h0M1871.8 206.2h0M1917.9 205.4h0M1927.3 207.8h0M1830.5 205.8h0M1926.7 205.2h0M1870.1 205.2h0M1903.6 207.7h0M1952.1 207.8h0M1835.2 208.2h0M1901.2 204.3h0M1853.7 204.9h0M1857.1 204.9h0M1844.2 206h0M1862 208.4h0M1890 207.1h0M1841.8 205.7h0M1869.4 207h0M1916.4 209.7h0M1851.8 210.8h0M1888.5 207.7h0M1868.8 210.2h0M1846.5 210.2h0M1834.3 206.9h0M1926.5 207.6h0M1915.6 205.5h0M1945.7 208.9h0M1922.5 203.1h0M1871.6 211.7h0M1936.8 207.2h0M1877.3 210.1h0M1917.5 207h0M1941.7 207.3h0M1836.2 206.9h0M1952.6 205.1h0M1844.1 206.7h0M1945.6 203.8h0M1950.3 205.1h0M1890.6 202.6h0M1882.7 205.4h0M1888.8 209.2h0M1898.1 203.7h0M1867.2 209.7h0M1824.9 204.7h0M1874.5 209.6h0M1916.5 209.5h0M1886.2 205.3h0M1928.4 204h0M1877.1 203.2h0M1835.3 209.8h0M1870.9 206.1h0M1879.1 200.9h0M1857.8 204.7h0M1856.2 205.1h0M1831.8 201h0M1847.5 208.9h0M1875.8 204.7h0M1839 205h0M1915.9 203.1h0M1891.4 201.7h0M1871.1 204.7h0M1889.9 203.9h0M1884 204h0M1864.3 206.7h0M1856.7 202.2h0M1940.8 200.2h0M1923.9 207.1h0M1848.9 205.1h0M1845.9 203.9h0M1867.3 206.4h0M1837.8 205.2h0M1906.2 210.7h0M1936.6 205.1h0M1871.9 206.4h0M1846.5 203.5h0M1862.1 208.7h0M1899.7 206.4h0M1826.8 205.3h0M1952.1 204.9h0M1897.4 204.3h0M1840.8 202.5h0M1845.2 203.9h0M1925.6 207.3h0M1910.3 209.5h0M1864.8 210.2h0M1912.1 204.4h0M1897.2 210.1h0M1870.2 205.9h0M1852.5 207.6h0M1922.4 207.8h0M1944.1 203.5h0M1901.6 204.9h0M1949.8 206.4h0M1823.2 208.4h0M1950.7 204.7h0M1873.2 206.7h0M1871.3 202.4h0M1913.9 201.6h0M1842.1 207.5h0M1946.4 205.6h0M1956.3 200.8h0M1897.1 207.2h0M1882.7 206.8h0M1918 207.3h0M1906.7 201.7h0M1836.8 208.6h0M1842 205h0M1826.9 202.7h0M1951.6 205.4h0M1946 207h0M1857.9 205.9h0M1843.6 204.4h0M1897 205.3h0M1881.4 207.4h0M1906.3 203.9h0M1901.1 204.6h0M1846.1 207.6h0M1928.2 203.3h0M1837.8 201.7h0M1863.7 208.6h0M1879.6 205.4h0M1905.7 205h0M1938.8 205.9h0M1834.2 210h0M1873.7 204.6h0M1877 206.8h0M1854.6 207.4h0M1876.5 204.9h0M1945.9 206.3h0M1873.5 205.5h0M1921.9 208.6h0M1912.1 206.6h0M1950.4 207.7h0M1851.8 205.5h0M1884.7 205.3h0M1848.2 200.8h0M1915.7 208.9h0M1901.5 208.5h0M1901.4 204.2h0M1831.9 206h0M1892.7 206.4h0M1827.6 208h0M1856.8 203.1h0M1891.8 204.2h0M1883.3 203.2h0M1841.8 205.4h0M1914.6 205.4h0M1937.3 205.9h0M1959.8 209.6h0M1854.7 204.5h0M1958.8 204.9h0M1899.9 201.1h0M1952.1 200.1h0M1947.7 203.5h0M1830 200.2h0M1881 205h0M1844.6 205h0M1890.4 205.7h0M1853.8 206.9h0M1841.5 205.1h0M1866.6 204.5h0M1919 205.8h0M1855.3 203.3h0M1914.4 210.5h0M1873.2 207.1h0M1842.9 211.9h0M1942.1 202.3h0M1915.5 206.7h0M1839.7 207.7h0M1860.4 203.3h0M1894.3 205.2h0M1858.7 208.8h0M1835.5 206.6h0M1949.1 206.7h0M1956.5 202.9h0M1848.3 207.8h0M1955 207.1h0M1889.1 207.2h0M1945.2 208.2h0M1959.4 207.6h0M1889.8 204.9h0M1887.1 206h0M1915.8 209.4h0M1897.3 205.1h0M1861.5 203.9h0M1954.5 205.6h0M1826.2 212h0M1906.7 203.4h0M1831.5 204h0M1845.6 206h0M1956 208.8h0M1899.8 202.2h0M1917 206.3h0M1845.7 202.2h0M1842.5 209.3h0M1816.7 210.1h0M1879.5 219.2h0M1957.7 223.4h0" stroke="#5b9dcc" stroke-width="5.5" stroke-linecap="round" fill="none"/>
<path d="M1881.1 292.8h0M1902.8 289.1h0M1889.7 272.4h0M1915.3 298.5h0M1912.6 298.1h0M1886.5 302.2h0M1927.4 294h0M1950.7 291.7h0M1877.5 280.8h0M1918.7 293.5h0M1909.3 280.5h0M1822.3 291.7h0M1924.7 288.1h0M1911.6 292.3h0M1877.2 297.4h0M1890.5 283.6h0M1829.6 295.5h0M1865.9 290h0M1841.6 290.3h0M1825.6 290.5h0M1860.5 289h0M1828.8 294.2h0M1827.6 291.8h0M1848.7 290.5h0M1870.6 290.8h0M1829.9 276.8h0M1842.7 282.7h0M1865.4 292.4h0M1949.6 295.2h0M1911.1 291.1h0M1863.1 295.1h0M1914 285h0M1922.5 284.9h0M1859.6 292.5h0M1838.1 275.5h0M1887.5 288.9h0M1953.8 290.4h0M1912.6 297.8h0M1915 286.8h0M1877 276.2h0M1956.5 293.4h0M1843.9 288.8h0M1875.6 283.1h0M1856.9 297.2h0M1857.9 295.8h0M1919.5 295h0M1914.2 297.3h0M1882 294h0M1925.6 284.9h0M1822.2 289.2h0M1949.4 280.8h0M1852.9 288.9h0M1943.7 290.3h0M1890.8 283.7h0M1907.1 289.1h0M1838.1 284.5h0M1886.2 282.7h0M1917.2 283.4h0M1928.3 287.6h0M1836.1 289.5h0M1825.5 286.5h0M1895.4 293.4h0M1885.9 291.2h0M1829.7 284.9h0M1958.7 285.6h0M1830.9 280h0M1828.8 282.6h0M1926.2 293.8h0M1950.5 289.4h0M1872.1 294.6h0M1868.7 285.8h0M1954.1 292.2h0M1940 275.9h0M1895.2 285.3h0M1948.3 274h0M1832.7 295.2h0M1879.2 285.3h0M1908.7 283.1h0M1890.8 302.5h0M1952.5 294.4h0M1823.5 292h0M1833.9 280.4h0M1906.7 281.4h0M1902.5 272.6h0M1950.8 289.8h0M1827.6 276.8h0M1829.8 281.8h0M1953.2 286.7h0M1946.6 283.8h0M1897.8 281.1h0M1906.7 288.4h0M1941.7 280.7h0M1855.6 288.7h0M1854.9 284.1h0M1833.8 293.6h0M1899.7 288.2h0M1877.4 279.9h0M1874.7 288.9h0M1907.3 299.1h0M1850.5 288.2h0M1958 277.6h0M1942.4 280.1h0M1868.2 292.7h0M1824.9 283.1h0M1901.4 297.5h0M1923.8 285.5h0M1826.5 291.6h0M1834.6 289h0M1913.3 284h0M1850.1 292.6h0M1825.1 286.7h0M1942.2 290.5h0M1923.2 290.5h0M1908.1 297.7h0M1915.4 291.5h0M1891.4 283.7h0M1944.1 302.9h0M1832.2 287.8h0M1905.2 283.8h0M1904.3 281.2h0M1851.2 288.6h0M1863 290.7h0M1902.8 290.1h0M1922.2 294.5h0M1937.7 291h0M1869.4 291h0M1874.2 287.2h0M1941 293.5h0M1925 272.8h0M1881.7 290.6h0M1851.6 288.5h0M1911.8 281.1h0M1920.1 291.8h0M1887.8 283.2h0M1857.2 291.3h0M1843.5 294.6h0M1825.3 288.3h0M1892.1 297.2h0M1824.8 288.2h0M1953.4 294.5h0M1867 278.1h0M1890.1 294h0M1889.1 274.2h0M1915.1 298.1h0M1835.4 281.5h0M1898.7 286.3h0M1882.5 283.1h0M1881.5 287.7h0M1829 280.2h0M1845 288h0M1872 286.3h0M1842 278.4h0M1901.6 296.7h0M1876.7 289.2h0M1877.7 286.3h0M1937 297.5h0M1906.2 288.1h0M1947.5 287h0M1909.7 284.2h0M1824.7 287.8h0M1829.8 297h0M1862 293.3h0M1867.5 292.9h0M1866.2 292.9h0M1946.6 282.7h0M1825.7 296.9h0M1948.4 287.2h0M1891.6 293.7h0M1871.4 297h0M1865.9 291.2h0M1911.2 278.2h0M1944.2 294h0M1846.1 284.8h0M1927.2 280.4h0M1887.1 293.3h0M1928.1 292.2h0M1865.8 283.9h0M1830 294.5h0M1889.9 294.8h0M1924.7 299.7h0M1927.6 295.1h0M1825.2 302.7h0M1866.6 297.8h0M1889.7 294.7h0M1895.4 297.3h0M1879.5 280.8h0M1947.2 294.8h0M1827.9 294h0M1842.9 289.4h0M1929.4 290.5h0M1852.3 283.5h0M1822.3 287.8h0M1949.3 288.8h0M1872.1 287.4h0M1879.3 286.6h0M1844.3 284.9h0M1835.1 290.4h0M1897 292.3h0M1943.3 280.2h0M1883.1 297h0M1920.9 288h0M1871.8 276.3h0M1858.5 296.6h0M1959.5 285.5h0M1938.4 289.7h0M1875.9 283.1h0M1911.2 281.4h0M1893.8 286.7h0M1872.5 281h0M1885.7 292.4h0M1873.1 285.8h0M1891 289.5h0M1853.1 296.9h0M1942.3 293.1h0M1848.7 282.2h0M1868.2 283.3h0M1880.7 290.2h0M1861.8 289.1h0M1871.1 280.7h0M1837.4 290.7h0M1941.4 285.3h0M1925.4 298.4h0M1883.6 274.5h0M1903.5 289.4h0M1897.3 278.7h0M1831.3 284.9h0M1924.6 288.1h0M1951 280.7h0M1911.8 280.9h0M1949 289.3h0M1921.4 289.2h0M1949.4 292.4h0M1864.8 291.5h0M1846.3 282.3h0M1956.6 293.5h0M1847.2 284h0M1852.7 277.6h0M1844.7 294.4h0M1920.6 279.7h0M1909.4 289.3h0M1910.8 302.2h0M1957.7 283.7h0M1924.2 301.8h0M1865.9 287.9h0M1916.2 288h0M1941.3 293h0M1912.4 275.7h0M1875.3 292.6h0M1912.2 294h0M1826.7 292.9h0M1849.4 291.3h0M1833.3 288.6h0M1874.4 278.3h0M1951 290.2h0M1909.3 291.4h0M1911.7 294h0M1866 302.9h0M1822.8 295.9h0M1838.7 283.8h0M1856.8 283.9h0M1905.9 284.3h0M1898.8 300.6h0M1910.6 278.4h0M1905.7 288.2h0M1912.6 287.5h0M1910.7 293.5h0M1888.7 293.6h0M1827.8 304.6h0M1839.8 292.9h0M1874.8 287.4h0M1873.7 281.5h0M1844.4 297.3h0M1870.2 278.3h0M1831.1 290h0M1945.5 279.5h0M1855.2 290.7h0M1920.2 291.4h0M1841 299.3h0M1903.6 288h0M1884 284.4h0M1882.1 281.3h0M1831.6 284.9h0M1878.4 296.4h0M1835.1 280.9h0M1822.6 295.4h0M1825.7 283.1h0M1880.2 302.9h0M1939.4 289.8h0M1913.5 283.2h0M1844 284.3h0M1949.4 301.4h0M1836.7 291.4h0M1862.8 292.7h0M1855.6 285.5h0M1923 288.5h0M1910.5 297.6h0M1869 298h0M1856.6 291.6h0M1879.1 289.7h0M1916.2 296.8h0M1901.4 293.8h0M1943.3 284.4h0M1854.1 291.9h0M1888.5 289.5h0M1857.7 280h0M1890.4 278.8h0M1912.3 282.4h0M1881.8 292.4h0M1953.6 290.6h0M1875.6 289.6h0M1940.8 278.8h0M1826 285.5h0M1905.4 281.3h0M1896.7 289h0M1905.7 282.1h0M1923 280.9h0M1908.4 281.8h0M1910.3 296.2h0M1825.6 287h0M1881.3 278.1h0M1846.4 294.2h0M1885.7 298.2h0M1858.8 286.9h0M1899.4 287.9h0M1929.7 277.9h0M1896.1 299.2h0M1912.3 298.4h0M1954.1 282.2h0M1916.4 282.2h0M1880 283.8h0M1848.7 295.3h0M1914.7 294.5h0M1872.8 281.1h0M1950.6 282.1h0M1857.2 280.9h0M1857.1 300.5h0M1951.7 285h0M1829.8 293h0M1835.8 294.5h0M1902.7 286.1h0M1869.9 291.6h0M1834.7 292.5h0M1948.6 300.9h0M1873.3 292.2h0M1880.6 293.6h0M1909.9 288.4h0M1896.3 286.3h0M1866.9 293.6h0M1880.4 286.6h0M1851 300.5h0M1888.4 283.8h0M1947.4 285.6h0M1896.2 284.2h0M1871.4 290.5h0M1954.1 286.3h0M1922.4 280.4h0M1879.8 284.4h0M1860.4 278.8h0M1950.1 290.9h0M1916 286.8h0M1838.1 290.6h0M1918.6 292h0M1953.3 296.5h0M1835.4 285.5h0M1853.6 282.8h0M1864.7 280.8h0M1874.8 279.4h0M1822.3 294.1h0M1845.1 286h0M1837.5 285.4h0M1942.8 289.4h0M1843.2 297h0M1867.8 280.9h0M1860.7 278.7h0M1880.4 285.4h0M1832.2 294.3h0M1867.7 300.6h0M1927.2 279.9h0M1947.6 285.1h0M1864.2 281.5h0M1879.5 285.9h0M1879.7 304.9h0M1843.5 292.5h0M1830.2 287.4h0M1879.3 272.3h0M1854.8 296h0M1938.3 296.7h0M1861 289.3h0M1845.5 301.8h0M1903.9 289.9h0M1858.1 288h0M1941.7 278.6h0M1951.1 288.1h0M1892.1 286.1h0M1853.7 288.2h0M1938.6 281.6h0M1888.9 287.6h0M1852.9 286h0M1905.5 288.4h0M1891.6 285.6h0M1893.4 276.2h0M1929.8 290.1h0M1881.5 286.9h0M1947.5 287.8h0M1856.4 291.8h0M1886.1 293.3h0M1916.8 290.4h0M1843.1 290.8h0M1828 278.8h0M1874.9 304.3h0M1845.8 295.8h0M1947.6 296.3h0M1918.4 293.6h0M1957.1 297.6h0M1895.5 290.3h0M1929.1 291.4h0M1831.1 288.3h0M1918.3 277.4h0M1950.5 292.7h0M1864 293h0M1900.4 287.9h0M1929.3 289.5h0M1879.7 288.5h0M1833.3 288.5h0M1855.3 296.9h0M1886.3 294.2h0M1893.1 288h0M1882.3 288.7h0M1907.7 285h0M1926.3 289.8h0M1869 291.6h0M1908.7 284.2h0M1891.4 279.9h0M1846.5 292.6h0M1865.6 292.2h0M1862.7 289.2h0M1884.4 285.9h0M1826.8 284.6h0M1838.3 284.3h0M1893.5 280.2h0M1924.6 297.1h0M1945.4 298h0M1927.4 296.2h0M1883.2 284h0M1940.7 298.4h0M1954.6 287.9h0M1841.2 291.7h0M1845.1 296.8h0M1906 292.6h0M1836.1 292h0M1889.8 282.6h0M1874 284.7h0M1869.9 291h0M1911.2 294h0M1846.9 298.1h0M1867.2 292.4h0M1827.6 294.2h0M1830 296.6h0M1904.1 286.7h0M1900.1 295.9h0M1954.4 290.3h0M1851.3 293.9h0M1887.5 296h0M1912.9 298h0M1942.2 284.7h0M1890.1 296.6h0M1872.3 293.4h0M1880.8 286h0M1822.6 290h0M1938.1 286.1h0M1861.1 290.1h0M1938.7 294.4h0M1954.3 289.9h0M1825.6 286.5h0M1891.6 300h0M1953.1 276h0M1918.1 300.9h0M1843.1 296.8h0M1950 289.8h0M1897.7 280.7h0M1852.8 294.5h0M1870.2 284.4h0M1837.6 286.2h0M1830 292h0M1868.3 296.9h0M1847.3 292.4h0M1927.5 282.5h0M1847.6 282h0M1849.4 302.8h0M1874 291.3h0M1937.9 287.9h0M1827.9 291.3h0M1835.7 288.3h0M1955.5 286.3h0M1862.9 289.4h0M1869.2 291.4h0M1939.4 289h0M1867.2 284.2h0M1885.2 290.5h0M1946.5 280.7h0M1865.9 284.5h0M1833.9 298.8h0M1826.5 282.4h0M1862.6 278.3h0M1876.8 294.7h0M1832.5 284.3h0M1878.7 293.8h0M1877.5 294.3h0M1890.8 292.6h0M1928.8 290.3h0M1862.1 283.6h0M1949.5 294.6h0M1884.8 290h0M1828.1 298.7h0M1834.6 294.2h0M1907.7 277.4h0M1843.5 288h0M1854.6 285.5h0M1923.1 296.8h0M1825.8 280.3h0M1844.3 288.1h0M1879.7 298.7h0M1912 281.3h0M1835.2 292.4h0M1875.7 285.1h0M1955.5 292.2h0M1841.4 299.5h0M1863.3 274.9h0M1937.2 292.1h0M1893 273.6h0M1936.8 289.5h0M1895.9 301.4h0M1904.5 293.5h0M1840.1 279.8h0M1945.7 288.1h0M1859.1 279.6h0M1837.4 295.2h0M1909.3 285.5h0M1867.1 294.8h0M1945.2 295.8h0M1929 281.5h0M1954.4 294.7h0M1950.2 284.5h0M1903 289.3h0M1882.8 291h0M1856.2 284.3h0M1874.5 280.9h0M1885.7 287.3h0M1898.1 291.7h0M1891 285.8h0M1892.9 282.6h0M1894.2 284.7h0M1824.5 284.3h0M1923.3 283.4h0M1919.5 294.8h0M1849.2 282h0M1918.9 292.4h0M1912.4 291.1h0M1839.7 279.3h0M1950.5 272.3h0M1952.1 289.5h0M1912.7 285.8h0M1833 286.5h0M1942.5 295.3h0M1860.2 290.6h0M1946.9 291.5h0M1870.3 290.2h0M1947.2 287.1h0M1905 304.9h0M1918.5 288.7h0M1857.4 292h0M1953.1 283.5h0M1837.8 278.8h0M1827 290.5h0M1912.3 294.9h0M1868 294.2h0M1950.8 300.8h0M1924.5 282.3h0M1892.5 286.1h0M1925.5 280.1h0M1916.7 285.9h0M1939.7 286.7h0M1881.9 283h0M1830 277.4h0M1874.1 289.5h0M1920.6 301.5h0M1842.5 279.6h0M1882.9 283.9h0M1843.4 297.9h0M1958 277.5h0M1840.8 294.6h0M1955.4 284.7h0M1840.3 296.5h0M1914.3 289.6h0M1864.1 292.4h0M1846 280.3h0M1870 283.8h0M1958.3 283.6h0M1829.1 295.2h0M1886.3 291h0M1949 288.2h0M1885.5 287h0M1904.9 297.3h0M1845.3 285.2h0M1830.4 293.9h0M1910.8 291.9h0M1888.7 281.6h0M1849.1 279.8h0M1850.8 286.6h0M1946 295.4h0M1898.3 296.2h0M1948.4 280.5h0M1865.5 285.3h0M1830.8 282.4h0M1924.5 294.6h0M1924.5 281.9h0M1871.1 284.2h0M1828.2 295.7h0M1901.4 295.4h0M1863.4 292.1h0M1879.3 281.3h0M1916.8 295.3h0M1906.2 277.5h0M1918.1 292.7h0M1945.2 283.2h0M1953.2 286.6h0M1959.2 300.2h0M1840.2 290.9h0M1869.7 282.5h0M1856 278.3h0M1895.6 281.4h0M1907 287h0M1882.3 291.3h0M1885.8 292.7h0M1954.9 284.7h0M1830 299.9h0M1923.2 284h0M1825 285.1h0M1884.5 286.2h0M1880.8 278.1h0M1899.4 303.2h0M1850.7 288.8h0M1946.3 298.9h0M1871.2 298.2h0M1888.4 295.6h0M1892.6 290.2h0M1921.4 292.8h0M1902.5 286.9h0M1938.4 291.6h0M1928 289.8h0M1890.2 301.4h0M1883.7 289.6h0M1822.4 279h0M1886.3 282.6h0M1846.2 288.5h0M1879 290.9h0M1839.2 300.9h0M1893 281.8h0M1916.8 299.8h0M1862.3 282.8h0M1850.1 285.1h0M1948.6 286.2h0M1958.7 286.8h0M1929 295.9h0M1946.9 287.9h0M1919.2 291.8h0M1959.3 282.8h0M1859.3 287.4h0M1938.8 287.8h0M1843.9 294.4h0M1897.4 291.8h0M1943.4 290h0M1881.2 284.5h0M1885.8 294.1h0M1892.9 281.3h0M1855.5 284.4h0M1939.2 284.3h0M1849.8 290.7h0M1890.3 281h0M1836.6 286.9h0M1813.6 297.8h0M1816.1 293.6h0M1836.3 320.4h0M1893.9 310.1h0M1905.9 309.1h0M1844.5 307h0M1898.4 267.9h0M1906.9 271h0M1914.9 271h0M1843.1 272h0" stroke="#555555" stroke-width="5.8" stroke-linecap="round" fill="none"/>
<rect x="1801.9" y="63.6" width="163.1" height="273.2" fill="none" stroke="#000" stroke-width="2.3"/>
<line x1="1801.9" y1="161.2" x2="1965" y2="161.2" stroke="#000" stroke-width="2.3"/>
<line x1="1801.9" y1="259" x2="1965" y2="259" stroke="#000" stroke-width="2.3"/>
<line x1="1796.3" y1="157.5" x2="1801.9" y2="157.5" stroke="#000" stroke-width="1.9"/>
<line x1="1796.3" y1="255.1" x2="1801.9" y2="255.1" stroke="#000" stroke-width="1.9"/>
<line x1="1796.3" y1="136.7" x2="1801.9" y2="136.7" stroke="#000" stroke-width="1.9"/>
<line x1="1796.3" y1="234.2" x2="1801.9" y2="234.2" stroke="#000" stroke-width="1.9"/>
<line x1="1796.3" y1="115.8" x2="1801.9" y2="115.8" stroke="#000" stroke-width="1.9"/>
<line x1="1796.3" y1="213.4" x2="1801.9" y2="213.4" stroke="#000" stroke-width="1.9"/>
<line x1="1796.3" y1="94.9" x2="1801.9" y2="94.9" stroke="#000" stroke-width="1.9"/>
<line x1="1796.3" y1="192.5" x2="1801.9" y2="192.5" stroke="#000" stroke-width="1.9"/>
<line x1="1796.3" y1="74.1" x2="1801.9" y2="74.1" stroke="#000" stroke-width="1.9"/>
<line x1="1796.3" y1="171.7" x2="1801.9" y2="171.7" stroke="#000" stroke-width="1.9"/>
<line x1="1796.3" y1="323.5" x2="1801.9" y2="323.5" stroke="#000" stroke-width="1.9"/>
<line x1="1796.3" y1="302.9" x2="1801.9" y2="302.9" stroke="#000" stroke-width="1.9"/>
<line x1="1796.3" y1="282.3" x2="1801.9" y2="282.3" stroke="#000" stroke-width="1.9"/>
<text x="1788.9" y="101.1" font-size="17.3" text-anchor="end" fill="#1a1a1a" stroke="#1a1a1a" stroke-width="0.35" textLength="32" lengthAdjust="spacingAndGlyphs">0.75</text>
<text x="1788.9" y="142.8" font-size="17.3" text-anchor="end" fill="#1a1a1a" stroke="#1a1a1a" stroke-width="0.35" textLength="32" lengthAdjust="spacingAndGlyphs">0.25</text>
<text x="1788.9" y="198.7" font-size="17.3" text-anchor="end" fill="#1a1a1a" stroke="#1a1a1a" stroke-width="0.35" textLength="32" lengthAdjust="spacingAndGlyphs">0.75</text>
<text x="1788.9" y="240.4" font-size="17.3" text-anchor="end" fill="#1a1a1a" stroke="#1a1a1a" stroke-width="0.35" textLength="32" lengthAdjust="spacingAndGlyphs">0.25</text>
<text x="1788.9" y="288.5" font-size="17.3" text-anchor="end" fill="#1a1a1a" stroke="#1a1a1a" stroke-width="0.35">1</text>
<text x="1788.9" y="329.7" font-size="17.3" text-anchor="end" fill="#1a1a1a" stroke="#1a1a1a" stroke-width="0.35">−1</text>
<text font-size="18.4" text-anchor="middle" fill="#1a1a1a" stroke="#1a1a1a" stroke-width="0.35" transform="translate(1744.6 115.8) rotate(-90)">ASE</text>
<text font-size="18.4" text-anchor="middle" fill="#1a1a1a" stroke="#1a1a1a" stroke-width="0.35" transform="translate(1744.6 213.4) rotate(-90)">BAF</text>
<text font-size="18.4" text-anchor="middle" fill="#1a1a1a" stroke="#1a1a1a" stroke-width="0.35" transform="translate(1744.6 298) rotate(-90)">logR</text>
<rect x="1770.8" y="373.3" width="115.3" height="16.5" rx="3.5" fill="#000"/>
<rect x="1888.4" y="373.3" width="111.8" height="16.5" rx="3.5" fill="#000"/>
<rect x="1885.6" y="377.3" width="3.4" height="8.5" fill="#000"/>
<rect x="1774.3" y="376.9" width="3.9" height="9.2" fill="#c8c8c8"/>
<rect x="1778.2" y="376.9" width="3.1" height="9.2" fill="#f4f4f4"/>
<rect x="1781.3" y="376.9" width="2.8" height="9.2" fill="#b5b5b5"/>
<rect x="1784.1" y="376.9" width="2.8" height="9.2" fill="#f4f4f4"/>
<rect x="1786.9" y="376.9" width="2.8" height="9.2" fill="#d5d5d5"/>
<rect x="1789.7" y="376.9" width="3.4" height="9.2" fill="#f4f4f4"/>
<rect x="1793" y="376.9" width="2.8" height="9.2" fill="#bdbdbd"/>
<rect x="1795.8" y="376.9" width="3.4" height="9.2" fill="#f4f4f4"/>
<rect x="1799.2" y="376.9" width="2.8" height="9.2" fill="#d0d0d0"/>
<rect x="1802" y="376.9" width="3.5" height="9.2" fill="#f4f4f4"/>
<rect x="1805.5" y="376.9" width="3.5" height="9.2" fill="#c4c4c4"/>
<rect x="1809" y="376.9" width="4.2" height="9.2" fill="#eeeeee"/>
<rect x="1813.2" y="376.9" width="3.9" height="9.2" fill="#8a8a8a"/>
<rect x="1817.1" y="376.9" width="4.5" height="9.2" fill="#f4f4f4"/>
<rect x="1821.5" y="376.9" width="2.8" height="9.2" fill="#c9c9c9"/>
<rect x="1824.3" y="376.9" width="2.8" height="9.2" fill="#f4f4f4"/>
<rect x="1827.1" y="376.9" width="8.1" height="9.2" fill="#8f8f8f"/>
<rect x="1848.4" y="376.9" width="4.2" height="9.2" fill="#f4f4f4"/>
<rect x="1855.1" y="376.9" width="2.2" height="9.2" fill="#f4f4f4"/>
<rect x="1857.3" y="376.9" width="4.1" height="9.2" fill="#6a6a6a"/>
<rect x="1861.4" y="376.9" width="2.4" height="9.2" fill="#f4f4f4"/>
<rect x="1869.4" y="376.9" width="4.2" height="9.2" fill="#f4f4f4"/>
<rect x="1873.5" y="376.9" width="4.8" height="9.2" fill="#8a8a8a"/>
<rect x="1878.3" y="376.9" width="2.8" height="9.2" fill="#f4f4f4"/>
<rect x="1901.5" y="376.9" width="4.2" height="9.2" fill="#f4f4f4"/>
<rect x="1905.7" y="376.9" width="2.8" height="9.2" fill="#b0b0b0"/>
<rect x="1908.5" y="376.9" width="2.8" height="9.2" fill="#f4f4f4"/>
<rect x="1913.2" y="376.9" width="3.4" height="9.2" fill="#f4f4f4"/>
<rect x="1918.8" y="376.9" width="3.4" height="9.2" fill="#f4f4f4"/>
<rect x="1924.4" y="376.9" width="3.4" height="9.2" fill="#f4f4f4"/>
<rect x="1927.8" y="376.9" width="3.6" height="9.2" fill="#6e6e6e"/>
<rect x="1931.4" y="376.9" width="4.2" height="9.2" fill="#b9b9b9"/>
<rect x="1935.6" y="376.9" width="2.8" height="9.2" fill="#f4f4f4"/>
<rect x="1945.4" y="376.9" width="2.8" height="9.2" fill="#f4f4f4"/>
<rect x="1956.6" y="376.9" width="5" height="9.2" fill="#f4f4f4"/>
<rect x="1961.6" y="376.9" width="5.6" height="9.2" fill="#c9c9c9"/>
<rect x="1976.2" y="376.9" width="4.8" height="9.2" fill="#f0f0f0"/>
<rect x="1980.9" y="376.9" width="3.1" height="9.2" fill="#a9a9a9"/>
<rect x="1984" y="376.9" width="2.8" height="9.2" fill="#f4f4f4"/>
<rect x="1986.8" y="376.9" width="7.5" height="9.2" fill="#555555"/>
<rect x="1994.3" y="376.9" width="4.5" height="9.2" fill="#f4f4f4"/>
<path d="M1881.7 376.9L1886.7 381.5L1881.7 386.1Z" fill="#8c1c1c"/>
<path d="M1893.5 376.9L1888.1 381.5L1893.5 386.1Z" fill="#b02a2a"/>
<path d="M1801.9 337.3L1954.3 367M1965 337.3L2001.6 365.5" stroke="#d4232b" fill="none" stroke-width="3.6"/>
<rect x="1954.3" y="366.8" width="47.2" height="28.4" fill="none" stroke="#d4232b" stroke-width="2.1"/>
<text x="1755.4" y="387.3" font-size="18.4" text-anchor="end" fill="#1a1a1a" stroke="#1a1a1a" stroke-width="0.35" textLength="35.5" lengthAdjust="spacingAndGlyphs">chr1</text>
<text x="1865.4" y="421.6" font-size="17.3" text-anchor="middle" fill="#1a1a1a" stroke="#1a1a1a" stroke-width="0.35" textLength="87" lengthAdjust="spacingAndGlyphs">CRUK0005</text>
<text x="1882" y="57" font-size="18.4" text-anchor="middle" fill="#1a1a1a" stroke="#1a1a1a" stroke-width="0.35" textLength="77.5" lengthAdjust="spacingAndGlyphs">Sample 4</text>
<path d="M1676.6 437.7L1726.5 482.2M1726 438.9L1726.5 482.2M1773.1 441.7L1726.5 482.2M1726.5 482.2L1771.7 522.3M1771.7 522.3L1817.4 483.9M1771.7 522.3L1771.7 560.1" stroke="#111" fill="none" stroke-width="4.3"/>
<ellipse cx="1676.6" cy="437.7" rx="9.5" ry="10.6" fill="#2b8cc6" stroke="#1a1a1a" stroke-width="3.9"/>
<ellipse cx="1726" cy="438.9" rx="7.8" ry="8.9" fill="#c9c9c9" stroke="#1a1a1a" stroke-width="3.9"/>
<ellipse cx="1773.1" cy="441.7" rx="6.2" ry="6.7" fill="#c3c3c3" stroke="#1a1a1a" stroke-width="3.9"/>
<ellipse cx="1726.5" cy="482.2" rx="11.2" ry="13" fill="#c6c6c6" stroke="#1a1a1a" stroke-width="4.2"/>
<ellipse cx="1817.4" cy="483.9" rx="12.2" ry="13.6" fill="#2b8cc6" stroke="#1a1a1a" stroke-width="4.2"/>
<ellipse cx="1771.7" cy="522.3" rx="11.9" ry="13" fill="#2b8cc6" stroke="#1a1a1a" stroke-width="4.2"/>
<path d="M1674 483.3 1684.4 472.9 1687.2 475.7 1689.5 463.2 1677 465.6 1679.8 468.4 1669.5 478.8Z" stroke="none" fill="#ee7d52" stroke-width="1.5"/>
<path d="M1819.8 524 1810.6 513.7 1813.5 511.1 1801.2 508.1 1802.8 520.7 1805.8 518 1815 528.2Z" stroke="none" fill="#5ba4d2" stroke-width="1.5"/>
<text x="1643.8" y="503.4" font-size="19.5" fill="#f0a080" stroke="#f0a080" stroke-width="0.35" textLength="61.5" lengthAdjust="spacingAndGlyphs">gain 1q</text>
<text x="1778.7" y="549.6" font-size="19.5" fill="#7fb5da" stroke="#7fb5da" stroke-width="0.35" textLength="61.5" lengthAdjust="spacingAndGlyphs">gain 1q</text>
</g>
<g id="pc">
<path d="M428.1 653.9h0M387.2 740.5h0M391.4 745.8h0M411.7 747.2h0M424.6 743.3h0M457.8 763.3h0M371.5 766.1h0M397.4 765.4h0M349.5 776.2h0M345.3 781.1h0M348.8 785.6h0M334.4 788.1h0M363.5 788.8h0M371.1 788.8h0M384.4 779.7h0M387.9 780.7h0M387.9 789.5h0M383.4 795.4h0M359.3 797.2h0M339.7 800.7h0M361.7 809h0M319.8 821.6h0M317.3 828.6h0M342.5 832.5h0M409.9 839.4h0M312.8 839.8h0M322.6 840.5h0M336.2 846.8h0M317.3 850.3h0M345.3 851.3h0M315.6 859.4h0M269.1 853.8h0M282.4 864.3h0M293.6 859.4h0M297.8 858h0M302.6 856.6h0M301.2 859.4h0M263.2 869.9h0M277.8 874h0M263.2 881.4h0" stroke="#1c1c1c" stroke-width="8.8" stroke-linecap="round" fill="none"/>
<path d="M204.4 605V938.7H485.8" stroke="#000" fill="none" stroke-width="1.8"/>
<line x1="198.8" y1="924" x2="204.4" y2="924" stroke="#000" stroke-width="1.6"/>
<text x="191.5" y="930.6" font-size="17.6" text-anchor="end" fill="#1a1a1a" stroke="#1a1a1a" stroke-width="0.35">0.0</text>
<line x1="216.7" y1="938.7" x2="216.7" y2="944.3" stroke="#000" stroke-width="1.6"/>
<text x="216.7" y="968.4" font-size="17.6" text-anchor="middle" fill="#1a1a1a" stroke="#1a1a1a" stroke-width="0.35">0.0</text>
<line x1="198.8" y1="848" x2="204.4" y2="848" stroke="#000" stroke-width="1.6"/>
<text x="191.5" y="854.6" font-size="17.6" text-anchor="end" fill="#1a1a1a" stroke="#1a1a1a" stroke-width="0.35">0.2</text>
<line x1="280.8" y1="938.7" x2="280.8" y2="944.3" stroke="#000" stroke-width="1.6"/>
<text x="280.8" y="968.4" font-size="17.6" text-anchor="middle" fill="#1a1a1a" stroke="#1a1a1a" stroke-width="0.35">0.2</text>
<line x1="198.8" y1="772" x2="204.4" y2="772" stroke="#000" stroke-width="1.6"/>
<text x="191.5" y="778.6" font-size="17.6" text-anchor="end" fill="#1a1a1a" stroke="#1a1a1a" stroke-width="0.35">0.4</text>
<line x1="344.8" y1="938.7" x2="344.8" y2="944.3" stroke="#000" stroke-width="1.6"/>
<text x="344.8" y="968.4" font-size="17.6" text-anchor="middle" fill="#1a1a1a" stroke="#1a1a1a" stroke-width="0.35">0.4</text>
<line x1="198.8" y1="696" x2="204.4" y2="696" stroke="#000" stroke-width="1.6"/>
<text x="191.5" y="702.6" font-size="17.6" text-anchor="end" fill="#1a1a1a" stroke="#1a1a1a" stroke-width="0.35">0.6</text>
<line x1="408.8" y1="938.7" x2="408.8" y2="944.3" stroke="#000" stroke-width="1.6"/>
<text x="408.8" y="968.4" font-size="17.6" text-anchor="middle" fill="#1a1a1a" stroke="#1a1a1a" stroke-width="0.35">0.6</text>
<line x1="198.8" y1="620" x2="204.4" y2="620" stroke="#000" stroke-width="1.6"/>
<text x="191.5" y="626.6" font-size="17.6" text-anchor="end" fill="#1a1a1a" stroke="#1a1a1a" stroke-width="0.35">0.8</text>
<line x1="472.9" y1="938.7" x2="472.9" y2="944.3" stroke="#000" stroke-width="1.6"/>
<text x="472.9" y="968.4" font-size="17.6" text-anchor="middle" fill="#1a1a1a" stroke="#1a1a1a" stroke-width="0.35">0.8</text>
<text x="360" y="992.2" font-size="18.4" text-anchor="middle" fill="#1a1a1a" stroke="#1a1a1a" stroke-width="0.35" textLength="330" lengthAdjust="spacingAndGlyphs">Proportion of exp genes with DNA ITH</text>
<text font-size="18.4" text-anchor="middle" fill="#1a1a1a" stroke="#1a1a1a" stroke-width="0.35" textLength="326.7" lengthAdjust="spacingAndGlyphs" transform="translate(148.5 764.8) rotate(-90)">Proportion of exp genes with RNA ITH</text>
<text x="213.9" y="612.6" font-size="18.4" fill="#1a1a1a" stroke="#1a1a1a" stroke-width="0.35" textLength="232.4" lengthAdjust="spacingAndGlyphs">Spearman correlation: 0.89</text>
<text x="213.9" y="637.1" font-size="18.4" fill="#1a1a1a" textLength="146" lengthAdjust="spacingAndGlyphs">p-val: 1.75 × 10<tspan font-size="11" dy="-8">-15</tspan></text>
<text x="5" y="622.4" font-size="26.5" font-weight="bold" fill="#2b2b2b">c</text>
</g>
<g id="pd">
<path d="M693 997.5 693 997.4 693 943.8 696 941.8 698 941.8 701 955.8 703.4 967.8 705 959.8 706.6 971.8 709 959.8 712 956.8 715 947.8 717 951.8 718.9 947.8 721.9 948.8 724.9 954.8 727.9 939.9 730.5 935.9 732.9 922.9 735.9 921.9 738.5 922.9 740.9 926.9 743.9 922.9 744.9 959.8 745.9 990.8 748.9 990.8 751.3 985.8 753.9 991.8 755.9 997.4 761.9 997.4 764.9 989.8 767.9 984.8 770.5 979.8 772.9 972.8 774.9 979.8 777.3 982.8 779.9 972.8 782.3 979.8 784.3 984.2 788.8 984.2 791.8 979.8 793.8 988.8 795.8 997.4 801.4 997.4 802.8 991.8 810.8 991.8 812.8 997.4 819.2 997.4 820.8 991.8 822.8 992.2 824.2 997.4 825.8 994.8 827.8 991.8 830.4 966.2 832.4 977.8 833.8 997.4 838.8 997.4 842.4 990.8 844.8 985.8 848.8 984.8 852.3 959.8 854.7 977.8 857.7 983.8 860.7 988.8 863.7 985.8 866.7 991.4 874.7 991.4 877.7 988.8 880.7 986.8 884.7 982.8 887.7 977.8 890.7 939.9 892.7 933.9 894.7 947.8 897.7 959.8 900.7 957.8 903.7 943.8 906.7 941.8 909.7 942.8 912.7 947.8 915.7 946.8 917.7 927.9 920.6 910.9 923.6 933.9 926.6 947.8 929.6 948.8 932.6 935.9 935.6 937.9 937.6 954.8 940.6 957.8 942.6 964.8 944.6 959.8 947.6 953.8 950.6 963.8 953.6 979.8 955.6 984.8 959.6 985.4 962.2 978.8 964.6 984.8 966.6 979.8 970.6 978.8 973.6 979.8 975.6 978.8 978.6 984.8 982.6 979.8 985.5 984.8 989.5 983.8 991.5 899.9 995.5 898.9 999.5 906.9 1002.5 909.9 1004.5 919.9 1007.5 927.9 1009.5 943.8 1010.9 951.8 1012.5 967.8 1014.5 955.8 1017.5 963.8 1020.5 957.8 1024.5 953.8 1027.5 939.9 1030.5 930.9 1033.5 943.8 1035.5 947.8 1038.5 941.8 1041.5 953.8 1044.5 947.8 1046.5 952.8 1049.5 931.9 1052.4 929.9 1055.4 932.9 1057.4 905.9 1059.4 886.9 1062 895.9 1064.4 875.9 1066.4 860 1068 997.4 1084 997.4 1086 959.8 1088 933.9 1090 910.9 1093 919.9 1095.9 916.9 1098.9 923.9 1100.9 927.9 1103.9 916.9 1106.9 910.9 1110.9 910.9 1113.9 919.9 1115.9 921.9 1118.9 916.9 1121.9 927.9 1124.9 933.9 1127.9 948.8 1130.9 952.8 1133.9 959.8 1136.9 971.8 1139.9 959.8 1142.9 955.8 1145.9 969.8 1147.9 972.8 1150.9 953.8 1153.9 943.8 1156.9 942.8 1158.9 963.8 1161.8 972.8 1163.8 984.8 1165.8 982.8 1167.8 959.8 1169.8 941.8 1171.8 953.8 1173.8 927.9 1176.8 935.9 1179.8 943.8 1182.8 937.9 1185.8 935.9 1188.8 937.9 1191.8 933.9 1194.8 935.9 1197.8 946.8 1200.8 943.8 1203.8 948.8 1206.8 959.8 1208.8 964.8 1211.8 963.8 1213.8 933.9 1215.8 935.9 1216.8 959.8 1217.8 971.8 1220.8 973.4 1223.8 972.8 1226.7 977.8 1229.7 983.8 1232.7 979.8 1235.3 984.8 1237.7 967.8 1239.7 964.8 1242.7 967.8 1244.7 985.8 1247.3 994.8 1248.7 979.8 1251.7 984.8 1254.7 985.4 1257.7 985.8 1259.7 979.8 1261.7 984.8 1264.7 979.8 1267.7 972.8 1269.7 977.8 1271.7 967.8 1273.7 979.8 1276.7 984.8 1279.7 984.8 1282.7 979.8 1284.7 977.8 1286.3 860 1286.7 744.1 1288.3 742.1 1289.9 754.1 1291.7 776.1 1292.9 750.7 1294.8 747.3 1296.4 767.3 1298.2 776.1 1299.8 784.1 1302 840 1303.6 879.9 1305.6 939.9 1307.6 959.8 1310.6 967.8 1313.6 977.8 1315.6 984.8 1318.6 988.8 1320.6 990.8 1322.6 986.8 1325.6 990.8 1328.6 991.8 1330.6 997.4 1344.6 997.4 1347.6 990.8 1349.6 979.8 1350.6 879.9 1353.6 887.9 1356.6 877.9 1359 868 1361.5 864 1364.5 860 1366.5 879.9 1368.5 905.9 1370.5 895.9 1372.5 923.9 1373.5 979.8 1375.1 990.8 1377.5 985.8 1379.5 939.9 1381.5 923.9 1384.5 923.9 1387.5 927.9 1390.5 937.9 1392.5 931.9 1395.5 935.9 1398.5 931.9 1401.5 935.9 1403.5 935.9 1406.5 925.9 1409.5 922.9 1411.5 933.9 1414.5 935.9 1420.5 935.9 1422.5 959.8 1425.5 959.8 1428.4 960.8 1431.4 971.8 1434.4 966.8 1438.4 965.8 1440 951.8 1440 947.8 1442 959.8 1444 935.9 1446.4 928.9 1449 941.8 1452 947.8 1455 959.8 1458 959.8 1460 947.8 1463 933.9 1466 928.9 1469 943.8 1472 947.8 1474.3 953.8 1476.9 941.8 1479.9 943.8 1482.9 935.9 1485.5 910.9 1487.9 915.9 1489.9 929.9 1492.3 947.8 1494.3 959.8 1496.9 963.8 1499.9 959.8 1502.9 967.8 1504.9 935.9 1506.9 897.9 1508.9 899.9 1510.9 941.8 1512.9 977.8 1514.9 983.8 1517.9 981.8 1520.9 971.8 1523.5 947.8 1526.3 935.9 1528.9 947.8 1531.9 959.8 1534.9 947.8 1537.9 941.8 1540.8 935.9 1543.8 927.9 1545.8 928.9 1546.8 979.8 1549.4 977.8 1551.8 960.8 1554.2 977.8 1556.8 987.8 1559.8 991.8 1561.8 979.8 1563.8 967.8 1566.2 979.8 1567.8 986.8 1570.8 977.8 1573.8 979.8 1576.8 972.8 1579.8 979.8 1583.8 984.8 1586.8 979.8 1589.8 977.8 1591.8 982.8 1594.8 977.8 1597.8 972.8 1600.8 971.8 1603.8 966.8 1606.7 959.8 1608.7 953.8 1611.1 963.8 1612.1 997.4 1616.7 997.4 1617.7 939.9 1619.7 916.9 1622.7 927.9 1625.7 937.9 1628.7 915.9 1631.7 885.9 1633.7 873 1636.7 868 1639.7 886.9 1642.7 891.9 1645.7 892.9 1648.7 909.9 1651.7 910.9 1653.7 903.9 1656.7 916.9 1659.7 909.9 1662.7 916.9 1665.7 933.9 1668.7 917.9 1669.7 997.4 1675.6 997.4 1676.6 979.8 1678.6 967.8 1680.6 984.8 1683.6 985.8 1686.6 977.8 1689.6 984.8 1693.2 978.8 1695.6 985.8 1698.6 984.8 1701.6 972.8 1704.6 967.8 1707.6 966.8 1710.6 959.8 1713.6 963.8 1716.6 959.8 1719.2 941.8 1720.6 939.9 1721.6 997.4 1724.6 997.4 1725.6 919.9 1727.6 909.9 1730.6 923.9 1733.6 947.8 1736.6 941.8 1740.5 941.8 1743.5 953.8 1746.5 959.8 1749.5 967.8 1752.5 965.8 1755.5 972.8 1758.5 971.8 1761.5 972.8 1764.5 977.8 1767.5 972.8 1770.5 965.8 1772.5 963.8 1775.5 971.8 1779.5 972.8 1782.5 979.8 1785.1 991.8 1786.5 993.8 1789.5 979.8 1792.5 972.8 1795.5 977.8 1797.5 959.8 1799.5 947.8 1801.5 941.8 1803 942.5 1805.6 929.3 1807.6 934.6 1809.6 945.1 1811.6 949.1 1813.6 934.6 1815.5 918.7 1816.9 916.1 1818.8 892.3 1820.1 860.7 1821.5 862 1822.8 931.9 1824.1 964.9 1825.4 951.7 1826.7 949.1 1828.7 945.1 1830.7 949.1 1832.7 958.3 1834.7 975.5 1836 983.4 1838 984.7 1839.9 986 1841.9 984.7 1843.9 986 1845.9 988.6 1848.5 995.2 1849.8 971.5 1851.1 954.3 1853.1 953 1855.1 958.3 1857.1 945.1 1858.4 918.7 1860.4 916.1 1862.4 892.3 1864.3 889.7 1866.3 885.7 1868.3 888.4 1870.3 891 1872.3 889.7 1874.2 885.7 1876.2 879.2 1878.2 873.9 1880.2 875.2 1881.5 877.8 1882.8 918.7 1884.1 945.1 1886.1 938.5 1888.1 931.9 1889.4 910.8 1891.4 909.5 1892.7 958.3 1894 991.3 1895.3 987.3 1897.3 964.9 1899.3 945.1 1901.3 942.5 1902.6 958.3 1904.6 960.9 1906.6 945.1 1908.5 929.3 1910.5 934.6 1912.5 945.1 1914.5 962.3 1916.4 959.6 1919.1 960.9 1921.7 964.9 1923.7 931.9 1925.4 892.3 1927 891 1928.3 978.1 1930.3 987.3 1932.3 991.3 1934.9 990 1936.9 984.7 1940.2 984.7 1942.8 983.4 1944.8 979.4 1946.1 996.6 1949.4 996.6 1950.7 931.9 1952.7 918.7 1954.7 916.1 1956.7 945.1 1958.7 951.7 1960.6 964.9 1962.6 971.5 1966.6 972.8 1967.9 997.5 1972.5 997.5 1974.5 971.5 1976.5 945.1 1977.8 941.2 1979.8 951.7 1981.7 951.7 1983.7 947.7 1985.7 946.4 1987.7 959.6 1989.7 958.3 1991.6 916.1 1993.6 918.7 1994.5 958.3 1994.5 997.5 1994.5 997.5Z" stroke="none" fill="#fbcb8c" stroke-width="1.5"/>
<path d="M693 941.8 696 923.9 698.6 922.9 701 935.9 703.4 953.8 705 941.8 707 954.8 709.4 941.8 711.4 956.8 715 947.8 718.9 948.8 720.9 941.8 722.9 949.8 724.9 954.8 727.9 939.9 730.5 935.9 732.9 922.9 735.9 915.9 738.9 904.3 741.9 914.9 743.9 917.9 744.5 923.9M842.4 990.8 845.4 972.8 847.2 977.8 849.8 972.8 852.7 953.8 854.3 972.8 857.7 972.8 860.7 984.8 862.7 984.8 865.1 978.8 866.7 989.8 874.7 990.8 876.7 984.8 879.7 984.2 881.7 979.2 884.7 979.2 887.1 967.8 888.3 966.8 890.7 935.9 892.7 910.9 895.1 933.9 897.1 947.8 899.7 947.8 902.7 933.9 905.3 916.9 908.7 916.9 910.7 922.9 914.7 922.9 917.7 905.9 920.6 879.9 922.6 879.9 925.2 903.9 927 904.9 928.6 916.9 931 916.9 932.6 904.9 934.6 916.9 936.2 916.9 938.6 940.8 940.6 941.8 943 959.8 944.6 959.8M977.6 983.8 979.6 972.8 981.6 972.8 983 979.2 985.1 972.8 989.5 972.8M991.9 891.9 995.5 879.9 998.5 890.9 1000.9 897.9 1003.5 898.9 1006.1 916.9 1008.5 926.9 1010.5 941.8 1011.5 935.9 1013.5 947.8 1014.5 941.8 1018.5 963.8 1022.5 941.8 1024.5 947.8 1027.5 935.9 1031.1 910.9 1034.5 933.9 1037.5 928.9 1040.5 935.9 1045.1 935.9 1046.9 947.8 1050.5 926.9 1053.4 921.9 1056.4 885.9 1059.4 849 1061.4 854 1063 842 1064.4 845 1066.6 823.4 1067.6 862M1086 959.8 1088 933.9 1090 891.9 1092 879.9 1094.9 891.9 1097.9 873.9 1099.9 885.9 1101.9 879.9 1103.9 885.9 1105.5 873.9 1106.9 885.9 1107.9 867 1110.9 873.9 1112.9 879.9 1115.9 897.9 1117.9 873.9 1119.9 873.9 1122.9 885.9 1124.9 904.9 1127.9 928.9 1130.3 928.9 1131.9 922.9 1134.9 959.8 1136.9 959.8 1139.9 947.8 1141.9 948.8 1143.5 947.8 1145.9 959.8 1147.9 969.8 1150.9 951.8 1152.9 941.8 1154.9 943.8M1163.8 982.8 1165.4 978.8 1167.8 959.8 1170.8 951.8 1172.8 947.8 1174.8 922.9 1176.8 933.9 1179.4 922.9 1181.8 928.9 1184.8 922.9 1187.8 928.9 1190.2 922.9 1191.8 933.9 1194.8 928.9 1197.8 940.8 1200.8 941.8 1202.8 935.9 1206.8 954.8 1208.8 960.8 1212.8 960.8 1213.8 928.9 1216.2 916.9 1216.8 933.9M1218.8 971.8 1218.8 966.2 1223.8 966.2 1225.4 972.8 1227.7 966.2 1230.7 979.2 1232.7 972.8 1234.7 977.8 1237.3 960.8 1239.7 959.8 1242.1 953.8 1243.7 966.2 1245.7 967.8 1247.7 983.8 1250.1 966.8 1252.7 966.8 1254.7 984.8 1257.7 984.8 1259.7 972.8 1261.7 972.8 1263.7 978.8 1266.7 972.8 1268.7 972.8 1271.7 960.8 1273.3 978.8 1276.7 978.8 1279.3 971.8 1281.7 977.8 1284.7 966.8 1285.7 939.9 1286.7 840 1287.3 640.3 1288.9 618.3 1289.9 630.3 1291.1 650.3 1293.6 638.5 1295.8 631.1 1297.8 650.3 1298.8 700.2 1300.2 767.3 1301.6 852 1302.6 866 1304 875.9 1305.6 923.9 1307.6 959.8 1309.2 953.8 1311.6 960.8 1313.6 977.8 1315.6 984.8M1344.6 990.8 1348.6 978.8 1350.6 876.9 1351 828 1352.6 817.4 1355.2 836 1357.6 811.6 1359.4 822.4 1361.7 842.6 1362.5 811.6 1364.3 834.2 1366.5 860 1368.5 891.9 1369.9 873.9 1371.5 895.9 1372.9 911.9 1373.5 979.8M1381.5 923.9 1384.5 922.9 1387.1 916.9 1389.5 928.9 1391.5 934.9 1393.5 928.9 1397.5 916.9 1400.5 928.9 1403.5 934.9 1404.5 929.9 1406.5 925.9M1422.5 960.8 1425.5 953.8 1430.4 953.8 1432.4 966.8M1442 959.8 1444 935.9 1446.4 922.9 1449 935.9 1451.6 935.9 1455 953.8 1459 953.8 1462 930.9 1464 928.9 1466 916.9 1468 916.9 1471 935.9 1473.9 935.9 1475.9 922.9 1477.9 923.9 1478.9 928.9 1479.9 922.9 1481.5 928.9 1482.9 922.9 1484.9 915.9 1486.3 891.9 1487.5 909.9 1489.9 910.9 1492.3 935.9 1494.9 954.8 1496.9 959.8 1499.3 953.8 1502.9 965.8 1504.9 933.9 1506.9 892.3 1508.9 898.9 1510.9 941.8M1512.9 979.8 1514.9 978.8 1515.9 982.8M1523.5 947.8 1526.3 928.9 1528.9 947.8 1531.9 953.8 1535.9 935.9 1537.3 934.9 1539.9 916.9 1543.8 897.9 1545.4 927.9M1561.8 977.8 1563.4 959.8 1565.4 967.8 1567.8 982.8 1571.2 959.8 1574.2 977.8 1576.8 965.8 1579.8 971.8 1582.8 979.2 1585.4 972.8 1587.8 973.4 1589.4 965.8 1590.8 982.8M1617.7 939.9 1619.3 904.9 1621.7 904.9 1626.1 928.9 1628.7 904.9 1632.1 844 1634.1 837 1636.1 836 1637.7 840 1640.7 866 1644.7 867 1646.7 870 1649.7 891.9 1651.7 892.3 1653.7 885.9 1656.7 903.9 1658.7 892.3 1660.7 892.3 1663.7 898.9 1666.7 916.9 1668.3 891.9 1669.3 919.9M1676.6 979.8 1679 966.2 1681.6 985.8 1684.6 984.8 1687.6 972.8 1690.6 983.8 1693.6 979.8 1697.6 985.8 1700.6 977.8 1703.6 960.8 1705.6 961.8 1708.6 953.8 1711.2 947.8 1714.6 960.8 1716.6 953.8 1719.2 935.9 1720.2 939.9M1725.6 919.9 1727 891.9 1728.6 892.3 1731.2 919.9 1734.6 947.8 1736.6 929.9 1738.6 910.9 1740.5 916.9 1743.5 941.8 1746.5 954.8 1749.1 960.8 1751.5 965.8M1757.5 971.8 1759.1 960.8 1761.9 971.8 1763.9 977.8 1765.5 972.8 1767.1 977.8M1789.5 979.8 1791.1 971.8 1793.9 948.8 1796.5 954.8 1799.5 930.9 1802.5 925.9 1802.9 924.9M1802.9 924.4 1803 924 1804.3 922.7 1805.9 910.8 1807.6 916.1 1810.3 926.6 1812.2 935.9 1813.6 931.9 1815.5 897.6 1816.9 909.5 1818.2 918.7 1818.8 892.3 1820.1 842.2 1821.1 860.7M1823.8 963.6 1825.2 929.3 1826.7 946.4 1828.5 935.2 1830 946.4 1832 949.1 1834 967.5 1836 983.4M1858.4 918.7 1860.4 916.1 1863 889.7 1864.3 873.9 1866.3 855.4 1868.3 854.1 1870.3 848.8 1872.3 846.8 1873.6 842.9 1874.9 842.2 1876.2 826.4 1877.9 817.8 1880.2 817.8 1881.5 826.4 1882.2 852.8 1882.5 877.8 1883.2 918.7 1884.1 929.9 1886.1 928.6 1887.7 916.7 1889 931.9 1889.4 910.8 1891.1 904.2 1891.6 910.8M1901.3 942.5 1903 948.4 1904.6 942.5 1905.9 941.8 1906.6 958.3M1914.5 962.3 1916.4 953.7 1918.4 960.3 1921.7 960.3 1923 964.9 1923.7 931.9 1925.4 892.3 1926.3 885.7 1927 892.3M1950.7 931.9 1952.1 901.6 1954 889.7 1955.4 886.4 1956.7 918.7 1958.7 929.3 1960.6 958.3 1962 970.2M1976.5 945.1 1977.8 935.2 1979.1 945.1 1980.4 951.7 1981.7 951.7 1983.1 942.5 1984.8 941.8 1986.4 946.4 1987.7 941.8 1989.7 905.5 1991.6 880.5 1992.6 879.8 1993.6 916.1" stroke="#000" fill="none" stroke-width="2.0" stroke-linejoin="round"/>
<path d="M693 997.4 693 943.8 696 941.8 698 941.8 701 955.8 703.4 967.8 705 959.8 706.6 971.8 709 959.8 712 956.8 715 947.8 717 951.8 718.9 947.8 721.9 948.8 724.9 954.8 727.9 939.9 730.5 935.9 732.9 922.9 735.9 921.9 738.5 922.9 740.9 926.9 743.9 922.9 744.9 959.8 745.9 990.8 748.9 990.8 751.3 985.8 753.9 991.8 755.9 997.4 761.9 997.4 764.9 989.8 767.9 984.8 770.5 979.8 772.9 972.8 774.9 979.8 777.3 982.8 779.9 972.8 782.3 979.8 784.3 984.2 788.8 984.2 791.8 979.8 793.8 988.8 795.8 997.4 801.4 997.4 802.8 991.8 810.8 991.8 812.8 997.4 819.2 997.4 820.8 991.8 822.8 992.2 824.2 997.4 825.8 994.8 827.8 991.8 830.4 966.2 832.4 977.8 833.8 997.4 838.8 997.4 842.4 990.8 844.8 985.8 848.8 984.8 852.3 959.8 854.7 977.8 857.7 983.8 860.7 988.8 863.7 985.8 866.7 991.4 874.7 991.4 877.7 988.8 880.7 986.8 884.7 982.8 887.7 977.8 890.7 939.9 892.7 933.9 894.7 947.8 897.7 959.8 900.7 957.8 903.7 943.8 906.7 941.8 909.7 942.8 912.7 947.8 915.7 946.8 917.7 927.9 920.6 910.9 923.6 933.9 926.6 947.8 929.6 948.8 932.6 935.9 935.6 937.9 937.6 954.8 940.6 957.8 942.6 964.8 944.6 959.8 947.6 953.8 950.6 963.8 953.6 979.8 955.6 984.8 959.6 985.4 962.2 978.8 964.6 984.8 966.6 979.8 970.6 978.8 973.6 979.8 975.6 978.8 978.6 984.8 982.6 979.8 985.5 984.8 989.5 983.8 991.5 899.9 995.5 898.9 999.5 906.9 1002.5 909.9 1004.5 919.9 1007.5 927.9 1009.5 943.8 1010.9 951.8 1012.5 967.8 1014.5 955.8 1017.5 963.8 1020.5 957.8 1024.5 953.8 1027.5 939.9 1030.5 930.9 1033.5 943.8 1035.5 947.8 1038.5 941.8 1041.5 953.8 1044.5 947.8 1046.5 952.8 1049.5 931.9 1052.4 929.9 1055.4 932.9 1057.4 905.9 1059.4 886.9 1062 895.9 1064.4 875.9 1066.4 860 1068 997.4 1084 997.4 1086 959.8 1088 933.9 1090 910.9 1093 919.9 1095.9 916.9 1098.9 923.9 1100.9 927.9 1103.9 916.9 1106.9 910.9 1110.9 910.9 1113.9 919.9 1115.9 921.9 1118.9 916.9 1121.9 927.9 1124.9 933.9 1127.9 948.8 1130.9 952.8 1133.9 959.8 1136.9 971.8 1139.9 959.8 1142.9 955.8 1145.9 969.8 1147.9 972.8 1150.9 953.8 1153.9 943.8 1156.9 942.8 1158.9 963.8 1161.8 972.8 1163.8 984.8 1165.8 982.8 1167.8 959.8 1169.8 941.8 1171.8 953.8 1173.8 927.9 1176.8 935.9 1179.8 943.8 1182.8 937.9 1185.8 935.9 1188.8 937.9 1191.8 933.9 1194.8 935.9 1197.8 946.8 1200.8 943.8 1203.8 948.8 1206.8 959.8 1208.8 964.8 1211.8 963.8 1213.8 933.9 1215.8 935.9 1216.8 959.8 1217.8 971.8 1220.8 973.4 1223.8 972.8 1226.7 977.8 1229.7 983.8 1232.7 979.8 1235.3 984.8 1237.7 967.8 1239.7 964.8 1242.7 967.8 1244.7 985.8 1247.3 994.8 1248.7 979.8 1251.7 984.8 1254.7 985.4 1257.7 985.8 1259.7 979.8 1261.7 984.8 1264.7 979.8 1267.7 972.8 1269.7 977.8 1271.7 967.8 1273.7 979.8 1276.7 984.8 1279.7 984.8 1282.7 979.8 1284.7 977.8 1286.3 860 1286.7 744.1 1288.3 742.1 1289.9 754.1 1291.7 776.1 1292.9 750.7 1294.8 747.3 1296.4 767.3 1298.2 776.1 1299.8 784.1 1302 840 1303.6 879.9 1305.6 939.9 1307.6 959.8 1310.6 967.8 1313.6 977.8 1315.6 984.8 1318.6 988.8 1320.6 990.8 1322.6 986.8 1325.6 990.8 1328.6 991.8 1330.6 997.4 1344.6 997.4 1347.6 990.8 1349.6 979.8 1350.6 879.9 1353.6 887.9 1356.6 877.9 1359 868 1361.5 864 1364.5 860 1366.5 879.9 1368.5 905.9 1370.5 895.9 1372.5 923.9 1373.5 979.8 1375.1 990.8 1377.5 985.8 1379.5 939.9 1381.5 923.9 1384.5 923.9 1387.5 927.9 1390.5 937.9 1392.5 931.9 1395.5 935.9 1398.5 931.9 1401.5 935.9 1403.5 935.9 1406.5 925.9 1409.5 922.9 1411.5 933.9 1414.5 935.9 1420.5 935.9 1422.5 959.8 1425.5 959.8 1428.4 960.8 1431.4 971.8 1434.4 966.8 1438.4 965.8 1440 951.8 1440 947.8 1442 959.8 1444 935.9 1446.4 928.9 1449 941.8 1452 947.8 1455 959.8 1458 959.8 1460 947.8 1463 933.9 1466 928.9 1469 943.8 1472 947.8 1474.3 953.8 1476.9 941.8 1479.9 943.8 1482.9 935.9 1485.5 910.9 1487.9 915.9 1489.9 929.9 1492.3 947.8 1494.3 959.8 1496.9 963.8 1499.9 959.8 1502.9 967.8 1504.9 935.9 1506.9 897.9 1508.9 899.9 1510.9 941.8 1512.9 977.8 1514.9 983.8 1517.9 981.8 1520.9 971.8 1523.5 947.8 1526.3 935.9 1528.9 947.8 1531.9 959.8 1534.9 947.8 1537.9 941.8 1540.8 935.9 1543.8 927.9 1545.8 928.9 1546.8 979.8 1549.4 977.8 1551.8 960.8 1554.2 977.8 1556.8 987.8 1559.8 991.8 1561.8 979.8 1563.8 967.8 1566.2 979.8 1567.8 986.8 1570.8 977.8 1573.8 979.8 1576.8 972.8 1579.8 979.8 1583.8 984.8 1586.8 979.8 1589.8 977.8 1591.8 982.8 1594.8 977.8 1597.8 972.8 1600.8 971.8 1603.8 966.8 1606.7 959.8 1608.7 953.8 1611.1 963.8 1612.1 997.4 1616.7 997.4 1617.7 939.9 1619.7 916.9 1622.7 927.9 1625.7 937.9 1628.7 915.9 1631.7 885.9 1633.7 873 1636.7 868 1639.7 886.9 1642.7 891.9 1645.7 892.9 1648.7 909.9 1651.7 910.9 1653.7 903.9 1656.7 916.9 1659.7 909.9 1662.7 916.9 1665.7 933.9 1668.7 917.9 1669.7 997.4 1675.6 997.4 1676.6 979.8 1678.6 967.8 1680.6 984.8 1683.6 985.8 1686.6 977.8 1689.6 984.8 1693.2 978.8 1695.6 985.8 1698.6 984.8 1701.6 972.8 1704.6 967.8 1707.6 966.8 1710.6 959.8 1713.6 963.8 1716.6 959.8 1719.2 941.8 1720.6 939.9 1721.6 997.4 1724.6 997.4 1725.6 919.9 1727.6 909.9 1730.6 923.9 1733.6 947.8 1736.6 941.8 1740.5 941.8 1743.5 953.8 1746.5 959.8 1749.5 967.8 1752.5 965.8 1755.5 972.8 1758.5 971.8 1761.5 972.8 1764.5 977.8 1767.5 972.8 1770.5 965.8 1772.5 963.8 1775.5 971.8 1779.5 972.8 1782.5 979.8 1785.1 991.8 1786.5 993.8 1789.5 979.8 1792.5 972.8 1795.5 977.8 1797.5 959.8 1799.5 947.8 1801.5 941.8 1803 942.5 1805.6 929.3 1807.6 934.6 1809.6 945.1 1811.6 949.1 1813.6 934.6 1815.5 918.7 1816.9 916.1 1818.8 892.3 1820.1 860.7 1821.5 862 1822.8 931.9 1824.1 964.9 1825.4 951.7 1826.7 949.1 1828.7 945.1 1830.7 949.1 1832.7 958.3 1834.7 975.5 1836 983.4 1838 984.7 1839.9 986 1841.9 984.7 1843.9 986 1845.9 988.6 1848.5 995.2 1849.8 971.5 1851.1 954.3 1853.1 953 1855.1 958.3 1857.1 945.1 1858.4 918.7 1860.4 916.1 1862.4 892.3 1864.3 889.7 1866.3 885.7 1868.3 888.4 1870.3 891 1872.3 889.7 1874.2 885.7 1876.2 879.2 1878.2 873.9 1880.2 875.2 1881.5 877.8 1882.8 918.7 1884.1 945.1 1886.1 938.5 1888.1 931.9 1889.4 910.8 1891.4 909.5 1892.7 958.3 1894 991.3 1895.3 987.3 1897.3 964.9 1899.3 945.1 1901.3 942.5 1902.6 958.3 1904.6 960.9 1906.6 945.1 1908.5 929.3 1910.5 934.6 1912.5 945.1 1914.5 962.3 1916.4 959.6 1919.1 960.9 1921.7 964.9 1923.7 931.9 1925.4 892.3 1927 891 1928.3 978.1 1930.3 987.3 1932.3 991.3 1934.9 990 1936.9 984.7 1940.2 984.7 1942.8 983.4 1944.8 979.4 1946.1 996.6 1949.4 996.6 1950.7 931.9 1952.7 918.7 1954.7 916.1 1956.7 945.1 1958.7 951.7 1960.6 964.9 1962.6 971.5 1966.6 972.8 1967.9 997.5 1972.5 997.5 1974.5 971.5 1976.5 945.1 1977.8 941.2 1979.8 951.7 1981.7 951.7 1983.7 947.7 1985.7 946.4 1987.7 959.6 1989.7 958.3 1991.6 916.1 1993.6 918.7 1994.5 958.3 1994.5 997.5" stroke="#f0a02d" fill="none" stroke-width="1.8" stroke-linejoin="round"/>
<path d="M693 997.5 693 997.4 694 979.8 699 979.8 700 972.8 702.6 972.8 703 984.8 705 984.8 705.6 979.2 708 979.2 708.6 985.8 710.6 985.8 711 997.4 720.5 997.4 720.9 991.8 721.9 997.4 733.9 997.4 734.9 991.8 737.3 991.8 737.9 979.2 741.5 979.2 741.9 984.8 743.3 984.8 743.9 991.8 744.5 997.4 744.5 997.5ZM838.8 997.5 838.8 997.4 839.2 991.8 844.8 991.8 845.4 985.8 849.8 985.8 850.4 991.8 888.7 991.8 889.1 997.4 891.7 997.4 892.1 979.8 895.7 979.8 896.3 985.8 900.7 985.8 901.3 979.8 904.7 979.8 905.3 973.4 919.6 973.4 920.2 960.8 928.6 960.8 929.2 966.8 933.6 966.8 934.2 977.8 937.6 977.8 938.2 985.8 940.6 985.8 941.2 990.8 943.2 990.8 943.6 997.4 943.6 997.5ZM977.6 997.5 977.6 997.4 978 991.8 984.6 991.8 985.1 985.8 992.5 985.8 993.1 979.2 997.5 979.2 998.1 984.8 1004.1 984.8 1004.5 991.8 1016.5 991.8 1016.9 997.4 1019.5 997.4 1019.9 985.8 1026.5 985.8 1027.1 979.2 1032.5 979.2 1033.1 984.8 1038.5 984.8 1039.1 979.2 1042.5 979.2 1043.1 984.8 1046.9 984.8 1047.5 991.8 1048.1 997.4 1052 997.4 1052.4 990.8 1054 979.8 1056.4 967.8 1058 954.8 1064.4 954.8 1065 967.8 1066.4 967.8 1066.8 979.8 1068 979.8 1068.4 991.8 1081.4 991.8 1082 997.4 1082 997.5ZM1088 997.5 1088 997.4 1088.4 977.8 1090 977.8 1090.4 965.8 1096.9 965.8 1097.5 953.8 1101.9 953.8 1102.5 959.8 1105.9 959.8 1106.3 953.8 1107.9 953.8 1108.3 959.8 1116.9 959.8 1117.5 953.8 1122.9 953.8 1123.5 965.8 1124.9 965.8 1125.5 972.8 1134.9 972.8 1135.5 984.8 1139.9 984.8 1140.5 991.8 1145.9 991.8 1146.3 985.8 1147.1 985.8 1147.5 997.4 1150.9 997.4 1151.3 991.8 1152.9 991.8 1153.3 997.4 1162.8 997.4 1163.2 991.8 1165.8 991.8 1166.2 997.4 1170.8 997.4 1171.2 991.8 1175.8 991.8 1176.4 984.8 1179.4 984.8 1179.8 979.2 1181.4 979.2 1181.8 984.8 1190.8 984.8 1191.4 991.8 1212.8 991.8 1213.4 984.8 1215.8 984.8 1216.4 991.8 1240.7 991.8 1241.1 985.8 1243.3 985.8 1243.7 991.8 1248.7 991.8 1249.3 985.8 1252.7 985.8 1253.3 991.8 1276.7 991.8 1277.3 985.8 1285.7 985.8 1286.7 919.9 1287.7 879.9 1290.7 879.9 1291.7 866 1293.6 879.9 1297.6 879.9 1298.6 919.9 1299.6 959.8 1303.6 959.8 1304.2 991.8 1307.6 991.8 1308 984.8 1312 984.8 1312.6 997.4 1335.6 997.4 1336 991.8 1344.6 991.8 1348.6 991.8 1349.2 979.8 1350.6 979.8 1351.2 935.9 1357.6 935.9 1358.6 947.8 1363.5 947.8 1364.5 954.8 1365.5 979.8 1371.5 979.8 1372.1 985.8 1373.1 985.8 1373.5 997.4 1382.5 997.4 1383.1 991.8 1396.5 991.8 1397.1 985.8 1397.9 991.8 1405.5 991.8 1405.9 997.4 1419.5 997.4 1420.1 991.8 1433 991.8 1433.4 997.4 1433.4 997.5ZM1445 997.5 1445 997.4 1445.4 991.8 1448 991.8 1448.4 997.4 1451 997.4 1451.4 991.8 1463 991.8 1463.6 985.8 1472 985.8 1472.6 979.2 1480.9 979.2 1481.5 984.8 1485.9 984.8 1486.3 979.2 1487.9 979.2 1488.5 984.8 1490.9 984.8 1491.5 991.8 1501.9 991.8 1502.3 997.4 1504.9 997.4 1505.3 991.8 1506.9 991.8 1507.3 985.8 1508.3 985.8 1508.7 997.4 1510.9 997.4 1511.3 991.8 1512.3 991.8 1512.7 997.4 1525.9 997.4 1526.3 991.8 1531.9 991.8 1532.3 985.8 1537.9 985.8 1538.9 977.8 1541.8 972.8 1543.8 967.8 1545.4 967.8 1545.8 997.4 1562.8 997.4 1563.4 991.8 1567.8 991.8 1568.4 985.8 1572.8 985.8 1573.4 991.8 1582.8 991.8 1583.4 985.8 1589.4 985.8 1589.8 997.4 1616.7 997.4 1617.7 991.8 1618.7 985.8 1626.7 985.8 1627.7 979.8 1629.7 979.8 1630.7 966.8 1636.7 966.8 1637.7 959.8 1638.7 972.8 1647.7 972.8 1648.7 979.2 1663.7 979.2 1664.7 985.8 1668.7 985.8 1669.3 997.4 1675.6 997.4 1676.2 991.8 1688.6 991.8 1689.2 997.4 1696.6 997.4 1697.2 991.8 1699.6 991.8 1700.2 985.8 1703.6 985.8 1704 991.8 1706.6 991.8 1707.2 985.8 1713.6 985.8 1714.2 991.8 1720.6 991.8 1721.2 997.4 1725.6 997.4 1726 985.8 1729.6 985.8 1730.2 991.8 1733.6 991.8 1734.6 985.8 1736.6 979.8 1738.6 967.8 1740.5 979.8 1742.5 985.8 1744.5 991.8 1750.5 991.8 1751.1 997.4 1757.5 997.4 1757.9 991.8 1760.5 991.8 1760.9 997.4 1763.5 997.4 1763.9 991.8 1766.5 991.8 1766.9 997.4 1790.5 997.4 1790.9 973.8 1795.5 973.8 1796.1 985.8 1801.5 985.8 1802.5 979.8 1802.5 997.4 1802.5 997.5ZM1803 997.5 1803 997.5 1803 976.8 1808.3 976.8 1808.9 972.8 1811.6 972.8 1812.2 984.7 1813.6 984.7 1814.2 972.8 1818.8 972.8 1819.5 976.8 1822.8 976.8 1823.4 980.7 1826.1 980.7 1826.7 984.7 1828.7 984.7 1829.4 987.3 1832 987.3 1832.7 991.3 1835.3 991.3 1836 997.5 1861 997.5 1861.7 991.3 1863.7 984.7 1865.7 976.8 1867.6 964.9 1869.6 954.3 1871.6 953 1873.6 949.1 1875.6 941.8 1880.2 941.8 1880.8 949.1 1882.2 953 1882.8 976.8 1885.4 976.8 1886.1 980.7 1888.1 980.7 1888.7 984.7 1890.7 984.7 1891.4 991.3 1894 991.3 1894.7 997.5 1898 997.5 1898.2 991.3 1900.6 991.3 1901.3 976.8 1905.2 976.8 1905.9 991.3 1907.2 991.3 1907.5 997.5 1912.5 997.5 1912.8 991.3 1917.1 991.3 1917.5 997.5 1920.4 997.5 1920.7 991.3 1923 991.3 1923.7 984.7 1925.7 984.7 1926.3 991.3 1928.3 991.3 1928.6 997.5 1950.1 997.5 1950.7 984.7 1952.7 972.8 1954 959.6 1956 959.6 1956.7 976.8 1959.3 976.8 1960 991.3 1960.6 997.5 1977.1 997.5 1977.4 991.3 1978.5 991.3 1978.7 997.5 1983.1 997.5 1983.5 991.3 1987 991.3 1987.7 984.7 1989 968.9 1990.3 959.6 1994.3 959.6 1994.5 997.5 1994.5 997.5Z" stroke="none" fill="rgba(130,127,124,0.64)" stroke-width="1.5"/>
<line x1="792.9" y1="607.6" x2="792.9" y2="1015.5" stroke="#bdbdbd" stroke-width="1.7" stroke-dasharray="17.5 18.05"/>
<line x1="892.9" y1="607.6" x2="892.9" y2="1015.5" stroke="#bdbdbd" stroke-width="1.7" stroke-dasharray="17.5 18.05"/>
<line x1="992.1" y1="607.6" x2="992.1" y2="1015.5" stroke="#bdbdbd" stroke-width="1.7" stroke-dasharray="17.5 18.05"/>
<line x1="1067.6" y1="607.6" x2="1067.6" y2="1015.5" stroke="#bdbdbd" stroke-width="1.7" stroke-dasharray="17.5 18.05"/>
<line x1="1140" y1="607.6" x2="1140" y2="1015.5" stroke="#bdbdbd" stroke-width="1.7" stroke-dasharray="17.5 18.05"/>
<line x1="1216.8" y1="607.6" x2="1216.8" y2="1015.5" stroke="#bdbdbd" stroke-width="1.7" stroke-dasharray="17.5 18.05"/>
<line x1="1286.9" y1="607.6" x2="1286.9" y2="1015.5" stroke="#bdbdbd" stroke-width="1.7" stroke-dasharray="17.5 18.05"/>
<line x1="1351.4" y1="607.6" x2="1351.4" y2="1015.5" stroke="#bdbdbd" stroke-width="1.7" stroke-dasharray="17.5 18.05"/>
<line x1="1421" y1="607.6" x2="1421" y2="1015.5" stroke="#bdbdbd" stroke-width="1.7" stroke-dasharray="17.5 18.05"/>
<line x1="1488" y1="607.6" x2="1488" y2="1015.5" stroke="#bdbdbd" stroke-width="1.7" stroke-dasharray="17.5 18.05"/>
<line x1="1546.2" y1="607.6" x2="1546.2" y2="1015.5" stroke="#bdbdbd" stroke-width="1.7" stroke-dasharray="17.5 18.05"/>
<line x1="1612" y1="607.6" x2="1612" y2="1015.5" stroke="#bdbdbd" stroke-width="1.7" stroke-dasharray="17.5 18.05"/>
<line x1="1669.9" y1="607.6" x2="1669.9" y2="1015.5" stroke="#bdbdbd" stroke-width="1.7" stroke-dasharray="17.5 18.05"/>
<line x1="1721" y1="607.6" x2="1721" y2="1015.5" stroke="#bdbdbd" stroke-width="1.7" stroke-dasharray="17.5 18.05"/>
<line x1="1772.6" y1="607.6" x2="1772.6" y2="1015.5" stroke="#bdbdbd" stroke-width="1.7" stroke-dasharray="17.5 18.05"/>
<line x1="1812.5" y1="607.6" x2="1812.5" y2="1015.5" stroke="#bdbdbd" stroke-width="1.7" stroke-dasharray="17.5 18.05"/>
<line x1="1851.2" y1="607.6" x2="1851.2" y2="1015.5" stroke="#bdbdbd" stroke-width="1.7" stroke-dasharray="17.5 18.05"/>
<line x1="1883" y1="607.6" x2="1883" y2="1015.5" stroke="#bdbdbd" stroke-width="1.7" stroke-dasharray="17.5 18.05"/>
<line x1="1913.5" y1="607.6" x2="1913.5" y2="1015.5" stroke="#bdbdbd" stroke-width="1.7" stroke-dasharray="17.5 18.05"/>
<line x1="1945.6" y1="607.6" x2="1945.6" y2="1015.5" stroke="#bdbdbd" stroke-width="1.7" stroke-dasharray="17.5 18.05"/>
<line x1="1968" y1="607.6" x2="1968" y2="1015.5" stroke="#bdbdbd" stroke-width="1.7" stroke-dasharray="17.5 18.05"/>
<line x1="1994" y1="607.6" x2="1994" y2="1015.5" stroke="#bdbdbd" stroke-width="1.7" stroke-dasharray="17.5 18.05"/>
<line x1="692.8" y1="599.7" x2="692.8" y2="1017.5" stroke="#000" stroke-width="1.8"/>
<line x1="692" y1="997.5" x2="1995" y2="997.5" stroke="#000" stroke-width="1.8"/>
<line x1="684" y1="997.5" x2="692.8" y2="997.5" stroke="#000" stroke-width="1.6"/>
<text x="674.4" y="1004.1" font-size="17.6" text-anchor="end" fill="#1a1a1a" stroke="#1a1a1a" stroke-width="0.35">0.0</text>
<line x1="684" y1="877.1" x2="692.8" y2="877.1" stroke="#000" stroke-width="1.6"/>
<text x="674.4" y="883.7" font-size="17.6" text-anchor="end" fill="#1a1a1a" stroke="#1a1a1a" stroke-width="0.35">0.1</text>
<line x1="684" y1="756.7" x2="692.8" y2="756.7" stroke="#000" stroke-width="1.6"/>
<text x="674.4" y="763.3" font-size="17.6" text-anchor="end" fill="#1a1a1a" stroke="#1a1a1a" stroke-width="0.35">0.2</text>
<line x1="684" y1="636.3" x2="692.8" y2="636.3" stroke="#000" stroke-width="1.6"/>
<text x="674.4" y="642.9" font-size="17.6" text-anchor="end" fill="#1a1a1a" stroke="#1a1a1a" stroke-width="0.35">0.3</text>
<text font-size="18.4" text-anchor="middle" fill="#1a1a1a" stroke="#1a1a1a" stroke-width="0.35" textLength="246.4" lengthAdjust="spacingAndGlyphs" transform="translate(635.8 808.5) rotate(-90)">Proportion of WGD Tumours</text>
<text x="742.8" y="1025.5" font-size="17.4" text-anchor="middle" fill="#1a1a1a" stroke="#1a1a1a" stroke-width="0.35">1</text>
<text x="842.9" y="1025.5" font-size="17.4" text-anchor="middle" fill="#1a1a1a" stroke="#1a1a1a" stroke-width="0.35">2</text>
<text x="942.5" y="1025.5" font-size="17.4" text-anchor="middle" fill="#1a1a1a" stroke="#1a1a1a" stroke-width="0.35">3</text>
<text x="1029.8" y="1025.5" font-size="17.4" text-anchor="middle" fill="#1a1a1a" stroke="#1a1a1a" stroke-width="0.35">4</text>
<text x="1103.8" y="1025.5" font-size="17.4" text-anchor="middle" fill="#1a1a1a" stroke="#1a1a1a" stroke-width="0.35">5</text>
<text x="1178.4" y="1025.5" font-size="17.4" text-anchor="middle" fill="#1a1a1a" stroke="#1a1a1a" stroke-width="0.35">6</text>
<text x="1251.8" y="1025.5" font-size="17.4" text-anchor="middle" fill="#1a1a1a" stroke="#1a1a1a" stroke-width="0.35">7</text>
<text x="1319.2" y="1025.5" font-size="17.4" text-anchor="middle" fill="#1a1a1a" stroke="#1a1a1a" stroke-width="0.35">8</text>
<text x="1386.2" y="1025.5" font-size="17.4" text-anchor="middle" fill="#1a1a1a" stroke="#1a1a1a" stroke-width="0.35">9</text>
<text x="1454.5" y="1025.5" font-size="17.4" text-anchor="middle" fill="#1a1a1a" stroke="#1a1a1a" stroke-width="0.35">10</text>
<text x="1517.1" y="1025.5" font-size="17.4" text-anchor="middle" fill="#1a1a1a" stroke="#1a1a1a" stroke-width="0.35">11</text>
<text x="1579.1" y="1025.5" font-size="17.4" text-anchor="middle" fill="#1a1a1a" stroke="#1a1a1a" stroke-width="0.35">12</text>
<text x="1641" y="1025.5" font-size="17.4" text-anchor="middle" fill="#1a1a1a" stroke="#1a1a1a" stroke-width="0.35">13</text>
<text x="1695.5" y="1025.5" font-size="17.4" text-anchor="middle" fill="#1a1a1a" stroke="#1a1a1a" stroke-width="0.35">14</text>
<text x="1746.8" y="1025.5" font-size="17.4" text-anchor="middle" fill="#1a1a1a" stroke="#1a1a1a" stroke-width="0.35">15</text>
<text x="1792.5" y="1025.5" font-size="17.4" text-anchor="middle" fill="#1a1a1a" stroke="#1a1a1a" stroke-width="0.35">16</text>
<text x="1831.8" y="1025.5" font-size="17.4" text-anchor="middle" fill="#1a1a1a" stroke="#1a1a1a" stroke-width="0.35">17</text>
<text x="1867.1" y="1025.5" font-size="17.4" text-anchor="middle" fill="#1a1a1a" stroke="#1a1a1a" stroke-width="0.35">18</text>
<text x="1898.2" y="1025.5" font-size="17.4" text-anchor="middle" fill="#1a1a1a" stroke="#1a1a1a" stroke-width="0.35">19</text>
<text x="1929.5" y="1025.5" font-size="17.4" text-anchor="middle" fill="#1a1a1a" stroke="#1a1a1a" stroke-width="0.35">20</text>
<text x="1956.8" y="1025.5" font-size="17.4" text-anchor="middle" fill="#1a1a1a" stroke="#1a1a1a" stroke-width="0.35">21</text>
<text x="1981" y="1025.5" font-size="17.4" text-anchor="middle" fill="#1a1a1a" stroke="#1a1a1a" stroke-width="0.35">22</text>
<text x="1339.3" y="1047.4" font-size="18.4" text-anchor="middle" fill="#1a1a1a" stroke="#1a1a1a" stroke-width="0.35" textLength="118.5" lengthAdjust="spacingAndGlyphs">Chromosome</text>
<text x="697.9" y="596.2" font-size="17.3" fill="#1a1a1a" stroke="#1a1a1a" stroke-width="0.35" textLength="54.8" lengthAdjust="spacingAndGlyphs">n=194</text>
<rect x="1888" y="626.4" width="21" height="20.6" fill="#a8a5a2"/>
<rect x="1888" y="657.2" width="21" height="21" fill="#fbcb8c"/>
<text x="1915.4" y="644" font-size="18.4" fill="#1a1a1a" stroke="#1a1a1a" stroke-width="0.35" textLength="50" lengthAdjust="spacingAndGlyphs">Clonal</text>
<text x="1915.4" y="675.3" font-size="18.4" fill="#1a1a1a" stroke="#1a1a1a" stroke-width="0.35" textLength="79" lengthAdjust="spacingAndGlyphs">Subclonal</text>
<text x="578" y="622.4" font-size="26.5" font-weight="bold" fill="#2b2b2b">d</text>
</g>
<g id="pe">
<path d="M113.4 1497.9 113.4 1458.6 117.2 1457.5 120.5 1458.6 123.9 1457.5 127.2 1459.7 131.6 1457.5 136.1 1457.5 140.5 1456.4 145 1451.9 147.2 1457.5 150.5 1456.4 154.3 1451.9 157.2 1457.5 161.6 1460.8 164.5 1461.9 165.4 1493 168.3 1493 170.5 1479.7 172.7 1480.8 175.6 1474.1 177.2 1479.7 180.5 1475.3 183.8 1470.8 187.1 1467.5 190.5 1463 193.4 1455.3 195.6 1463 198.2 1460.8 201.6 1463 204.9 1465.3 207.6 1468.6 211.1 1460.8 212.7 1470.8 214.9 1479.7 217.8 1471.9 220.4 1474.1 223.8 1470.8 227.1 1468.6 230.4 1469.7 233.8 1471.9 238.2 1475.3 242.6 1474.1 247.1 1476.4 249.3 1473 251.1 1465.3 252.6 1475.3 256 1473 258.2 1469.7 261.5 1470.8 264.4 1463 267.1 1460.8 270.4 1461.9 274.8 1460.8 278.2 1465.3 280.4 1469.7 283.7 1466.4 288.2 1461.9 291.5 1465.3 294.8 1467.5 299.3 1465.3 303.7 1460.8 308.1 1459.7 311.5 1457.5 312.6 1475.3 315.9 1470.8 320.3 1467.5 324.8 1465.3 329.2 1470.8 333.7 1471.9 338.1 1474.1 341.4 1470.8 343.7 1466.4 348.1 1469.7 351.4 1463 353.6 1469.7 357 1463 360.3 1461.9 364.7 1463 368.1 1467.5 371.4 1469.7 374.7 1467.5 379.2 1467.5 382.5 1466.4 385.8 1463 389.2 1467.5 393.6 1467.5 398.1 1469.7 402.5 1470.8 408 1468.6 410.9 1459.7 414.7 1458.6 418 1461.9 421.4 1463 424.2 1453.1 426.9 1458.6 429.6 1470.8 432.5 1459.7 435.8 1458.6 439.1 1468.6 442.5 1464.2 445.8 1458.6 449.6 1450.8 452.4 1457.5 455.3 1455.3 458 1453.1 462.4 1456.4 466.9 1458.6 471.3 1456.4 475.3 1448.6 478 1446.4 480.2 1439.7 482.4 1443.1 485.7 1438.6 487.3 1470.8 491.3 1477.5 495.7 1481.9 499.1 1484.1 502.4 1480.8 506.4 1479.7 509.1 1467.5 512.4 1475.3 515.7 1477.5 520.2 1474.1 524.6 1473 527.9 1475.3 532.4 1473 535 1469.7 538.3 1468.6 541.7 1465.3 545 1469.7 548.3 1470.8 551.7 1475.3 555 1477.5 557.2 1470.8 559 1448.6 560.5 1444.2 562.8 1448.6 566.1 1450.8 569.4 1449.7 572.3 1441.9 573.9 1415.3 575.4 1413.1 577.2 1448.6 580.5 1455.3 583.8 1456.4 586.5 1450.8 587.8 1441.9 590.1 1457.5 592.7 1463 594.5 1453.1 597.2 1455.3 600.5 1453.1 603.8 1453.1 607.2 1450.8 610.5 1447.5 612.7 1446.4 616 1450.8 619.4 1453.1 622.7 1455.3 626 1457.5 629.4 1460.8 632.2 1455.3 634.9 1454.2 636.7 1473 640.5 1474.1 643.8 1473 648.2 1475.3 652.7 1476.4 657.1 1474.1 661.5 1473 663.8 1493 666 1495.2 667.8 1470.8 670 1468.6 672.6 1473 676 1471.9 679.3 1476.4 682.6 1477.5 686 1471.9 689.3 1473 692.6 1476.4 696 1477.5 699.3 1475.3 703.7 1474.1 705.9 1455.3 708.2 1449.7 710.4 1457.5 712.6 1461.9 715.3 1454.2 717.5 1455.3 719.7 1451.9 722.6 1459.7 724.8 1479.7 726.4 1486.4 727.7 1470.8 729.3 1464.2 732.6 1468.6 735.9 1470.8 739.2 1469.7 742.6 1475.3 745.9 1469.7 748.6 1474.1 751.5 1476.4 754.8 1481.9 758.1 1476.4 761.4 1470.8 764.8 1471.9 768.1 1468.6 770.8 1461.9 773.7 1457.5 777 1460.8 780.3 1457.5 783.6 1458.6 787 1456.4 789.9 1446.4 791.4 1441.9 793.6 1455.3 795.2 1481.9 797 1495.2 798.7 1481.9 800.3 1448.6 802.5 1446.4 804.1 1468.6 807 1473 810.3 1474.1 814.7 1470.8 819.2 1468.6 823.6 1467.5 828.1 1466.4 831.4 1463 834.7 1466.4 838 1461.9 840.3 1460.8 842.5 1468.6 845.8 1470.8 849.1 1465.3 852.5 1468.6 856.9 1466.4 860.2 1459.7 862.5 1473 864.7 1463 868 1461.9 871.3 1466.4 874.7 1468.6 878 1461.9 881.3 1457.5 884.7 1456.4 888 1457.5 891.3 1454.2 894.7 1455.3 899.1 1453.1 903.5 1451.9 907.5 1448.6 910.2 1455.3 913.5 1456.4 916.9 1457.5 920.2 1455.3 923.5 1454.2 926.2 1468.6 929.1 1455.3 932.4 1470.8 935.7 1465.3 939.1 1464.2 943.5 1460.8 947.9 1459.7 952.4 1461.9 955.7 1459.7 959 1458.6 962.4 1461.9 965 1469.7 968.3 1468.6 971.2 1466.4 973.9 1469.7 977.2 1474.1 980.1 1480.8 983.2 1477.5 986.1 1468.6 988.3 1465.3 991.2 1466.4 993.9 1461.9 997.9 1463 1001 1465.3 1004.5 1461.5 1008.3 1463 1011.6 1461.9 1015.6 1460.8 1019.4 1463.7 1022.7 1465.3 1027.2 1466.4 1030.5 1464.6 1031.6 1496.3 1036 1496.3 1037.6 1460.8 1041.6 1458.6 1044.9 1455.3 1048.9 1459.7 1052.7 1457.5 1057.1 1455.3 1061.6 1453.1 1064.9 1446.4 1067.1 1443.7 1070.5 1445.3 1073.8 1437.5 1077.1 1439.7 1080.4 1436.4 1083.8 1434.2 1086.7 1433.1 1088.2 1470.8 1089.8 1496.3 1093.8 1496.3 1095.5 1467.5 1098.2 1466.4 1101.5 1469.7 1104.9 1465.3 1108.2 1463 1111.5 1459.3 1114.9 1465.3 1118.2 1468.6 1121.5 1465.3 1124.8 1463 1128.2 1460.8 1131.5 1457.5 1134.8 1455.3 1138.2 1441.9 1140.4 1470.8 1142.2 1496.3 1144.4 1496.3 1145.9 1440.8 1148.2 1448.6 1151.5 1459.7 1154.8 1457.5 1157.7 1453.1 1160.4 1457.5 1163.7 1458.6 1167 1459.7 1170.4 1456.4 1174.8 1455.3 1178.1 1460.8 1181.5 1463 1184.8 1460.8 1188.1 1461.9 1191 1470.8 1193.7 1471.9 1197 1469.7 1200.3 1468.6 1203.7 1465.3 1205.2 1463 1206.5 1488.6 1208.1 1495.2 1209.7 1475.3 1212.5 1473 1215.9 1471.9 1219.2 1469.7 1222.5 1466.4 1225.9 1465.3 1228.1 1463 1230.3 1468.6 1232.5 1477.5 1234.7 1473 1237.6 1467.5 1240.3 1476.4 1242.5 1467.5 1245.8 1470.8 1249.2 1473 1252.5 1470.8 1255.8 1474.1 1259.2 1476.4 1263.6 1475.3 1268 1475.3 1269.6 1450.8 1272.5 1448.6 1275.8 1448.6 1278 1473 1280.3 1464.2 1282.5 1453.1 1284.7 1443.1 1288 1439.7 1291.4 1437.1 1294.7 1438.6 1298 1439.3 1302 1439.7 1303.6 1468.6 1305.8 1465.3 1308.7 1470.8 1311.3 1479.7 1312.9 1493 1314.7 1470.8 1318 1461.9 1320.2 1459.7 1322.9 1456.4 1325.1 1464.2 1327.3 1458.6 1330.2 1460.8 1332.4 1470.8 1335.3 1473 1339.1 1471.9 1342.4 1470.8 1345.1 1456.4 1347.3 1470.8 1351.3 1471.9 1355.7 1475.3 1360.2 1474.1 1363.5 1471.9 1365.1 1496.3 1369.5 1496.3 1370.8 1450.8 1373.5 1447.5 1376.8 1449.7 1380.2 1448.6 1383.5 1450.8 1385.7 1448.6 1387.3 1496.3 1391.3 1496.3 1391.7 1496.5 1394.1 1472.8 1396.4 1460.2 1398.8 1466.5 1401.9 1468.1 1405.9 1466.5 1409 1464.2 1412.2 1459.4 1413 1461.8 1413.3 1497.3 1413.3 1497.9Z" stroke="none" fill="#fbcb8c" stroke-width="1.5"/>
<path d="M113.4 1458.6 117.2 1457.5 120.5 1458.6 123.9 1457.5 127.2 1459.7 131.6 1457.5 136.1 1457.5 140.5 1456.4 145 1451.9 147.2 1457.5 150.5 1456.4 154.3 1451.9 157.2 1457.5 161.6 1460.8 164.5 1461.9 165.4 1493 168.3 1493 170.5 1479.7 172.7 1480.8 175.6 1474.1 177.2 1479.7 180.5 1475.3 183.8 1470.8 187.1 1467.5 190.5 1463 193.4 1455.3 195.6 1463 198.2 1460.8 201.6 1463 204.9 1465.3 207.6 1468.6 211.1 1460.8 212.7 1470.8 214.9 1479.7 217.8 1471.9 220.4 1474.1 223.8 1470.8 227.1 1468.6 230.4 1469.7 233.8 1471.9 238.2 1475.3 242.6 1474.1 247.1 1476.4 249.3 1473 251.1 1465.3 252.6 1475.3 256 1473 258.2 1469.7 261.5 1470.8 264.4 1463 267.1 1460.8 270.4 1461.9 274.8 1460.8 278.2 1465.3 280.4 1469.7 283.7 1466.4 288.2 1461.9 291.5 1465.3 294.8 1467.5 299.3 1465.3 303.7 1460.8 308.1 1459.7 311.5 1457.5 312.6 1475.3 315.9 1470.8 320.3 1467.5 324.8 1465.3 329.2 1470.8 333.7 1471.9 338.1 1474.1 341.4 1470.8 343.7 1466.4 348.1 1469.7 351.4 1463 353.6 1469.7 357 1463 360.3 1461.9 364.7 1463 368.1 1467.5 371.4 1469.7 374.7 1467.5 379.2 1467.5 382.5 1466.4 385.8 1463 389.2 1467.5 393.6 1467.5 398.1 1469.7 402.5 1470.8 408 1468.6 410.9 1459.7 414.7 1458.6 418 1461.9 421.4 1463 424.2 1453.1 426.9 1458.6 429.6 1470.8 432.5 1459.7 435.8 1458.6 439.1 1468.6 442.5 1464.2 445.8 1458.6 449.6 1450.8 452.4 1457.5 455.3 1455.3 458 1453.1 462.4 1456.4 466.9 1458.6 471.3 1456.4 475.3 1448.6 478 1446.4 480.2 1439.7 482.4 1443.1 485.7 1438.6 487.3 1470.8 491.3 1477.5 495.7 1481.9 499.1 1484.1 502.4 1480.8 506.4 1479.7 509.1 1467.5 512.4 1475.3 515.7 1477.5 520.2 1474.1 524.6 1473 527.9 1475.3 532.4 1473 535 1469.7 538.3 1468.6 541.7 1465.3 545 1469.7 548.3 1470.8 551.7 1475.3 555 1477.5 557.2 1470.8 559 1448.6 560.5 1444.2 562.8 1448.6 566.1 1450.8 569.4 1449.7 572.3 1441.9 573.9 1415.3 575.4 1413.1 577.2 1448.6 580.5 1455.3 583.8 1456.4 586.5 1450.8 587.8 1441.9 590.1 1457.5 592.7 1463 594.5 1453.1 597.2 1455.3 600.5 1453.1 603.8 1453.1 607.2 1450.8 610.5 1447.5 612.7 1446.4 616 1450.8 619.4 1453.1 622.7 1455.3 626 1457.5 629.4 1460.8 632.2 1455.3 634.9 1454.2 636.7 1473 640.5 1474.1 643.8 1473 648.2 1475.3 652.7 1476.4 657.1 1474.1 661.5 1473 663.8 1493 666 1495.2 667.8 1470.8 670 1468.6 672.6 1473 676 1471.9 679.3 1476.4 682.6 1477.5 686 1471.9 689.3 1473 692.6 1476.4 696 1477.5 699.3 1475.3 703.7 1474.1 705.9 1455.3 708.2 1449.7 710.4 1457.5 712.6 1461.9 715.3 1454.2 717.5 1455.3 719.7 1451.9 722.6 1459.7 724.8 1479.7 726.4 1486.4 727.7 1470.8 729.3 1464.2 732.6 1468.6 735.9 1470.8 739.2 1469.7 742.6 1475.3 745.9 1469.7 748.6 1474.1 751.5 1476.4 754.8 1481.9 758.1 1476.4 761.4 1470.8 764.8 1471.9 768.1 1468.6 770.8 1461.9 773.7 1457.5 777 1460.8 780.3 1457.5 783.6 1458.6 787 1456.4 789.9 1446.4 791.4 1441.9 793.6 1455.3 795.2 1481.9 797 1495.2 798.7 1481.9 800.3 1448.6 802.5 1446.4 804.1 1468.6 807 1473 810.3 1474.1 814.7 1470.8 819.2 1468.6 823.6 1467.5 828.1 1466.4 831.4 1463 834.7 1466.4 838 1461.9 840.3 1460.8 842.5 1468.6 845.8 1470.8 849.1 1465.3 852.5 1468.6 856.9 1466.4 860.2 1459.7 862.5 1473 864.7 1463 868 1461.9 871.3 1466.4 874.7 1468.6 878 1461.9 881.3 1457.5 884.7 1456.4 888 1457.5 891.3 1454.2 894.7 1455.3 899.1 1453.1 903.5 1451.9 907.5 1448.6 910.2 1455.3 913.5 1456.4 916.9 1457.5 920.2 1455.3 923.5 1454.2 926.2 1468.6 929.1 1455.3 932.4 1470.8 935.7 1465.3 939.1 1464.2 943.5 1460.8 947.9 1459.7 952.4 1461.9 955.7 1459.7 959 1458.6 962.4 1461.9 965 1469.7 968.3 1468.6 971.2 1466.4 973.9 1469.7 977.2 1474.1 980.1 1480.8 983.2 1477.5 986.1 1468.6 988.3 1465.3 991.2 1466.4 993.9 1461.9 997.9 1463 1001 1465.3 1004.5 1461.5 1008.3 1463 1011.6 1461.9 1015.6 1460.8 1019.4 1463.7 1022.7 1465.3 1027.2 1466.4 1030.5 1464.6 1031.6 1496.3 1036 1496.3 1037.6 1460.8 1041.6 1458.6 1044.9 1455.3 1048.9 1459.7 1052.7 1457.5 1057.1 1455.3 1061.6 1453.1 1064.9 1446.4 1067.1 1443.7 1070.5 1445.3 1073.8 1437.5 1077.1 1439.7 1080.4 1436.4 1083.8 1434.2 1086.7 1433.1 1088.2 1470.8 1089.8 1496.3 1093.8 1496.3 1095.5 1467.5 1098.2 1466.4 1101.5 1469.7 1104.9 1465.3 1108.2 1463 1111.5 1459.3 1114.9 1465.3 1118.2 1468.6 1121.5 1465.3 1124.8 1463 1128.2 1460.8 1131.5 1457.5 1134.8 1455.3 1138.2 1441.9 1140.4 1470.8 1142.2 1496.3 1144.4 1496.3 1145.9 1440.8 1148.2 1448.6 1151.5 1459.7 1154.8 1457.5 1157.7 1453.1 1160.4 1457.5 1163.7 1458.6 1167 1459.7 1170.4 1456.4 1174.8 1455.3 1178.1 1460.8 1181.5 1463 1184.8 1460.8 1188.1 1461.9 1191 1470.8 1193.7 1471.9 1197 1469.7 1200.3 1468.6 1203.7 1465.3 1205.2 1463 1206.5 1488.6 1208.1 1495.2 1209.7 1475.3 1212.5 1473 1215.9 1471.9 1219.2 1469.7 1222.5 1466.4 1225.9 1465.3 1228.1 1463 1230.3 1468.6 1232.5 1477.5 1234.7 1473 1237.6 1467.5 1240.3 1476.4 1242.5 1467.5 1245.8 1470.8 1249.2 1473 1252.5 1470.8 1255.8 1474.1 1259.2 1476.4 1263.6 1475.3 1268 1475.3 1269.6 1450.8 1272.5 1448.6 1275.8 1448.6 1278 1473 1280.3 1464.2 1282.5 1453.1 1284.7 1443.1 1288 1439.7 1291.4 1437.1 1294.7 1438.6 1298 1439.3 1302 1439.7 1303.6 1468.6 1305.8 1465.3 1308.7 1470.8 1311.3 1479.7 1312.9 1493 1314.7 1470.8 1318 1461.9 1320.2 1459.7 1322.9 1456.4 1325.1 1464.2 1327.3 1458.6 1330.2 1460.8 1332.4 1470.8 1335.3 1473 1339.1 1471.9 1342.4 1470.8 1345.1 1456.4 1347.3 1470.8 1351.3 1471.9 1355.7 1475.3 1360.2 1474.1 1363.5 1471.9 1365.1 1496.3 1369.5 1496.3 1370.8 1450.8 1373.5 1447.5 1376.8 1449.7 1380.2 1448.6 1383.5 1450.8 1385.7 1448.6 1387.3 1496.3 1391.3 1496.3 1391.7 1496.5 1394.1 1472.8 1396.4 1460.2 1398.8 1466.5 1401.9 1468.1 1405.9 1466.5 1409 1464.2 1412.2 1459.4 1413 1461.8 1413.3 1497.3" stroke="#f0a02d" fill="none" stroke-width="1.7" stroke-linejoin="round"/>
<path d="M113.4 1340.9 117.2 1335.4 119.4 1342 121.7 1340.9 123.2 1344.3 125 1342 127.2 1353.1 129.4 1362 131.6 1374.2 134.3 1379.3 137.2 1368.7 140.1 1362.5 142.7 1363.1 143.9 1366.5 146.1 1360.9 148.3 1362 151.6 1359.8 155 1360.9 157.2 1362 158.3 1355.8 160.5 1368.7 163.2 1386.4 164.5 1426.4 165.4 1481.5 169.4 1481.5 171.2 1455.3 173.8 1451.9 175.6 1448.2 177.8 1453.5 180.5 1444.2 183.1 1437.5 186 1434.8 188.9 1429.7 191.6 1419.7 193.8 1424.2 196 1415.3 198.7 1410.9 201.6 1420.9 204.5 1424.2 207.1 1430.8 209.3 1429.7 211.6 1425.3 213.8 1428.6 216 1437.5 217.8 1427.5 220.4 1434.2 223.8 1437.5 226 1435.3 229.3 1436.4 232.7 1444.2 236 1450.8 238.2 1453.1 241.5 1450.8 244.9 1449.7 247.1 1451.9 249.7 1454.2 251.5 1440.2 254.2 1439.7 257.1 1430.8 259.3 1425.3 261.5 1429.7 263.7 1422 266 1413.1 268.2 1413.1 270.4 1418.6 272.6 1415.3 274.8 1418.6 277.7 1414.9 280.4 1420.9 282.6 1416.4 284.8 1423.1 287.5 1417.5 290.4 1418.6 293.3 1417.5 295.5 1410.9 297.7 1404.2 299.3 1406.4 302.6 1402 305.9 1398 309.2 1393.1 311 1388.7 311.5 1337.6 311.9 1276.6 313.7 1279.9 315.9 1277.7 318.1 1278.8 320.3 1269.9 323.7 1261 327 1255.9 328.8 1264.3 331 1256.6 333.7 1255.5 335.9 1243.9 338.1 1248.8 340.3 1249.9 342.5 1252.1 344.8 1251 346.5 1257.7 348.5 1271 350.3 1279.9 352.5 1293.2 353.6 1302.1 354.8 1348.7 355.4 1397.5 357 1398 358.1 1373.1 360.3 1360.9 362.5 1367.6 365.9 1370.9 368.1 1376.5 370.3 1377.6 373.2 1374.9 375.8 1378.7 379.2 1383.1 381.4 1380.9 384.3 1379.3 386.9 1387.6 389.2 1380.9 392.5 1382 394.7 1384.2 396.9 1392 399.2 1386.4 402 1380.9 405.2 1373.1 408 1374.2 409.6 1372 410.9 1353.1 411.8 1343.8 413.6 1347.6 415.8 1346.9 418 1349.8 420.3 1356.5 422 1354.3 424.7 1358.7 426.9 1364.2 428.7 1377.6 430.7 1402 432.5 1373.1 434 1355.4 435.8 1349.8 438 1356.5 440.2 1353.1 443.6 1342 445.8 1339.8 448.7 1328.7 451.3 1323.8 454.7 1323.2 456.9 1319.4 459.5 1316.5 461.3 1326.5 463.5 1321 466.4 1328.7 469.1 1325.4 471.3 1323.2 473.5 1315.4 476.9 1312.1 479.1 1304.3 482 1306.5 484.2 1307.6 486.2 1308.7 486.9 1382 487.3 1432 490.2 1438.6 493.5 1441.9 496.8 1440.8 499.1 1439.7 502.4 1437.5 504.6 1443.1 506.4 1448.6 507.3 1382 508.6 1317.6 511.3 1319.8 513.5 1313.2 516.2 1302.1 518.4 1294.3 520.2 1295.4 522.4 1304.3 525 1296.5 527.3 1292.8 530.1 1295.4 532.4 1292.1 535 1294.3 538.3 1291 540.6 1292.8 542.8 1291 545 1298.8 547.2 1306.5 549.4 1307.6 551.7 1315.4 553.2 1333.2 555 1325.4 556.8 1325.4 558.3 1348.7 559 1377.6 561.2 1382 562.8 1392 566.1 1390.9 568.3 1393.6 570.5 1390.9 572.7 1382 573.9 1359.8 575 1339.8 576.1 1359.8 577.2 1393.1 579.4 1396.4 581.6 1402 583.8 1406.4 585.6 1405.3 587.8 1415.3 590.1 1439.7 592.3 1404.2 593.8 1350.9 596.1 1344.3 598.3 1335.4 600.9 1327.6 603.8 1330.9 606 1332.1 607.6 1340.9 608.9 1331.4 611.6 1338.7 614.9 1343.2 618.3 1344.3 620.5 1347.6 622.7 1343.8 624.9 1347.6 628.2 1343.2 630.5 1340.9 632.7 1332.1 634.5 1330.9 635.3 1382 636 1437.5 638.2 1440.8 641.6 1437.5 643.8 1439.7 647.1 1444.2 650.4 1445.3 653.8 1447.5 656 1445.3 658.9 1446.4 661.5 1443.1 663.3 1470.8 664.9 1495.2 666.4 1459.7 667.8 1437.5 670 1429.7 672.2 1436.4 674.9 1435.3 678.2 1437.5 680.9 1436.4 683.3 1429.7 686 1420.9 688.2 1419.7 690.8 1416.4 693.7 1423.1 696 1424.6 698.8 1422 701.5 1419.7 704.2 1415.3 705.5 1408.6 706.4 1315.4 707.1 1218.8 710.4 1219.9 712.6 1216.6 713.7 1207.7 715.3 1205.5 717 1215.5 718.2 1233.3 719.3 1259.9 720.4 1284.3 721.9 1304.3 723.7 1322.1 724.8 1382 725.9 1454.2 727 1437.5 728.6 1418.6 731.5 1417.5 734.8 1419.7 737.5 1416.4 740.4 1418.6 742.6 1424.2 744.1 1422 745.5 1439.7 748.1 1421.5 750.3 1433.1 752.6 1438.6 754.8 1443.7 757 1443.1 759.7 1437.5 762.6 1438.6 764.8 1433.1 767 1432 768.6 1419.7 769.9 1315.4 770.8 1233.3 772.5 1225.5 775.2 1224.4 777 1208.8 779.2 1210 781.4 1215.5 783.6 1226.6 785.4 1248.8 787 1266.6 788.8 1271 790.3 1293.2 792.1 1306.5 793 1359.8 794.3 1426.4 795.2 1477.5 797.4 1479.7 799.2 1426.4 801.4 1337.6 803 1271 804.7 1272.1 808.1 1275.4 811.4 1278.8 814.3 1283.2 816.5 1276.6 819.2 1275.4 820.9 1273.2 823.2 1281 825.4 1283.2 828.1 1279.9 831.4 1277.7 834.7 1276.6 837.4 1275.4 838.7 1266.6 839.2 1315.4 840.3 1359.8 842.5 1375.3 845.1 1378.7 847.4 1368.7 849.6 1367.6 851.8 1375.3 854 1380.9 856.9 1379.8 859.1 1382 860.9 1384.2 862.5 1410.9 864 1382 866.2 1366.5 868.5 1359.8 871.3 1350.9 874 1352 876.9 1342 879.1 1330.9 881.3 1324.3 884.7 1322.1 887.5 1324.3 890.2 1321 893.5 1317.6 896.4 1322.1 899.1 1316.5 901.8 1315.4 904 1317.6 905.8 1314.3 907.5 1328.7 910.2 1344.3 912.4 1355.4 915.1 1364.2 918 1366.5 920.8 1365.4 923.1 1379.8 924.6 1404.2 926.4 1434.2 928.4 1408.6 930.2 1394.2 932.8 1398.7 934.6 1394.2 936.8 1413.1 939.5 1386.4 942.4 1379.8 945.3 1367.6 947.9 1366.5 950.6 1355.4 953.5 1348.7 956.4 1342 959 1337.6 962.4 1337.6 963.9 1342 965 1399.8 967.2 1395.3 969.4 1393.1 971.7 1379.8 973.9 1393.1 977.2 1404.2 979.4 1409.8 981.7 1412 983.2 1426.4 985.4 1408.6 987.6 1392 989.9 1402 992.1 1397.5 995 1398.7 997.9 1396.4 1000.5 1395.3 1002.3 1382 1003.9 1368.7 1006.1 1366.5 1009 1366.5 1011.6 1366.5 1013.8 1357.6 1017.2 1358.7 1019.4 1359.8 1022.3 1353.1 1024.5 1355.4 1026.7 1350.9 1029.4 1355.4 1030.5 1404.2 1031.2 1448.6 1032.7 1496.3 1035.6 1496.3 1037.2 1404.2 1038.3 1337.6 1039.4 1289.9 1041.6 1292.1 1043.1 1287 1046 1288.8 1048.9 1284.3 1050.5 1271 1052 1267 1053.8 1274.3 1056.5 1275 1059.4 1278.8 1062.7 1287 1066 1285.4 1068.2 1293.2 1071.1 1295 1073.8 1293.2 1076 1298.8 1077.8 1293.2 1080 1299.9 1082.2 1292.1 1084.4 1303.2 1087.1 1302.1 1088.2 1359.8 1088.9 1426.4 1089.8 1496.3 1093.8 1496.3 1095.3 1448.6 1096.4 1384.2 1098.2 1379.8 1100.4 1390.9 1103.1 1392 1106 1382 1108.2 1392 1110.4 1382 1113.7 1374.2 1117.1 1373.1 1119.3 1368.7 1122.6 1358.7 1124.8 1362 1127.5 1352 1130.4 1353.1 1132.6 1350.5 1135.5 1358 1137.7 1349.8 1139.3 1343.2 1139.9 1404.2 1140.8 1470.8 1142.2 1496.3 1144.4 1496.3 1145.3 1404.2 1146.2 1313.2 1148.2 1328.7 1150.4 1333.2 1153.3 1337.6 1155.5 1325.4 1157.7 1310.5 1159.9 1323.2 1162.6 1325.4 1164.8 1330.9 1167 1335.4 1169.2 1337.6 1171.9 1346.5 1174.8 1348.7 1177.7 1352 1180.3 1352 1183.7 1353.1 1185.9 1362 1188.1 1364.2 1190.3 1367.6 1191.9 1390.9 1194.1 1394.2 1197 1398.7 1199.9 1399.8 1202.5 1406.4 1204.8 1409.8 1205.9 1448.6 1207 1486.4 1208.1 1489.7 1209.2 1448.6 1211 1373.1 1212.5 1364.2 1214.8 1363.1 1215.9 1356.5 1218.1 1358.7 1221.4 1348.7 1223.6 1337.6 1226.5 1339.4 1228.7 1349.8 1229.6 1348.7 1230.7 1248.8 1231.4 1173.3 1233.6 1174.4 1235.2 1166.2 1237 1182.2 1238.5 1215.5 1239.4 1293.2 1239.8 1448.6 1240.7 1404.2 1242.5 1334.3 1245.8 1333.2 1248.1 1323.2 1249.8 1323.2 1252.5 1350.9 1254.7 1359.8 1257.6 1368.7 1260.3 1367.6 1263.6 1368.7 1266.9 1363.1 1269.2 1350.9 1270.9 1343.8 1273.6 1348.7 1275.4 1343.2 1276.9 1341.6 1277.6 1382 1278.3 1404.2 1279.8 1359.8 1282 1337.6 1284.2 1326.5 1286.5 1311 1289.1 1302.1 1291.8 1302.1 1294.7 1311 1296.9 1303.2 1299.1 1302.1 1300.7 1299.9 1302.5 1308.7 1304.7 1329.8 1306.9 1333.2 1309.1 1359.8 1310.2 1362 1311.3 1426.4 1312.9 1481.9 1314 1448.6 1315.3 1404.2 1317.5 1393.1 1319.8 1382 1322 1355.4 1324.2 1344.3 1326.4 1344.3 1328.6 1350.9 1330.9 1353.1 1332 1382 1333.1 1415.3 1334.6 1419.7 1336.2 1413.1 1338 1422 1340.6 1429.7 1342.4 1439.7 1344.2 1451.9 1345.7 1435.3 1347.3 1444.2 1350.2 1445.3 1353.1 1443.1 1356.2 1446.4 1359.1 1454.2 1361.9 1454.2 1363.5 1444.2 1364.6 1470.8 1366.4 1496.3 1369.5 1496.3 1370.4 1404.2 1371.3 1339.8 1373.1 1328.7 1374.6 1323.2 1376.2 1352 1377.9 1340.9 1379.7 1343.2 1382.4 1337.6 1385.3 1337.6 1386.1 1404.2 1387.3 1496.3 1391.3 1496.3 1391.7 1496.5 1393.3 1449.2 1394.8 1370.4 1395.9 1348.3 1397.2 1335.7 1399.6 1338.8 1401.9 1330.9 1403.5 1329.4 1405.1 1332.5 1407.5 1312 1409 1310.5 1411.1 1304.1 1412.2 1323.1 1413 1342 1413.3 1351.4" stroke="#000" fill="none" stroke-width="2.0" stroke-linejoin="round"/>
<line x1="212.7" y1="1074.4" x2="212.7" y2="1518.5" stroke="#bdbdbd" stroke-width="1.7" stroke-dasharray="17.5 18.05"/>
<line x1="311.9" y1="1074.4" x2="311.9" y2="1518.5" stroke="#bdbdbd" stroke-width="1.7" stroke-dasharray="17.5 18.05"/>
<line x1="411.8" y1="1074.4" x2="411.8" y2="1518.5" stroke="#bdbdbd" stroke-width="1.7" stroke-dasharray="17.5 18.05"/>
<line x1="486.9" y1="1074.4" x2="486.9" y2="1518.5" stroke="#bdbdbd" stroke-width="1.7" stroke-dasharray="17.5 18.05"/>
<line x1="559" y1="1074.4" x2="559" y2="1518.5" stroke="#bdbdbd" stroke-width="1.7" stroke-dasharray="17.5 18.05"/>
<line x1="636.5" y1="1074.4" x2="636.5" y2="1518.5" stroke="#bdbdbd" stroke-width="1.7" stroke-dasharray="17.5 18.05"/>
<line x1="706.4" y1="1074.4" x2="706.4" y2="1518.5" stroke="#bdbdbd" stroke-width="1.7" stroke-dasharray="17.5 18.05"/>
<line x1="771" y1="1074.4" x2="771" y2="1518.5" stroke="#bdbdbd" stroke-width="1.7" stroke-dasharray="17.5 18.05"/>
<line x1="839.6" y1="1074.4" x2="839.6" y2="1518.5" stroke="#bdbdbd" stroke-width="1.7" stroke-dasharray="17.5 18.05"/>
<line x1="907.5" y1="1074.4" x2="907.5" y2="1518.5" stroke="#bdbdbd" stroke-width="1.7" stroke-dasharray="17.5 18.05"/>
<line x1="965.5" y1="1074.4" x2="965.5" y2="1518.5" stroke="#bdbdbd" stroke-width="1.7" stroke-dasharray="17.5 18.05"/>
<line x1="1030.9" y1="1074.4" x2="1030.9" y2="1518.5" stroke="#bdbdbd" stroke-width="1.7" stroke-dasharray="17.5 18.05"/>
<line x1="1088.9" y1="1074.4" x2="1088.9" y2="1518.5" stroke="#bdbdbd" stroke-width="1.7" stroke-dasharray="17.5 18.05"/>
<line x1="1140.4" y1="1074.4" x2="1140.4" y2="1518.5" stroke="#bdbdbd" stroke-width="1.7" stroke-dasharray="17.5 18.05"/>
<line x1="1191.4" y1="1074.4" x2="1191.4" y2="1518.5" stroke="#bdbdbd" stroke-width="1.7" stroke-dasharray="17.5 18.05"/>
<line x1="1231.9" y1="1074.4" x2="1231.9" y2="1518.5" stroke="#bdbdbd" stroke-width="1.7" stroke-dasharray="17.5 18.05"/>
<line x1="1270.3" y1="1074.4" x2="1270.3" y2="1518.5" stroke="#bdbdbd" stroke-width="1.7" stroke-dasharray="17.5 18.05"/>
<line x1="1302.4" y1="1074.4" x2="1302.4" y2="1518.5" stroke="#bdbdbd" stroke-width="1.7" stroke-dasharray="17.5 18.05"/>
<line x1="1332.8" y1="1074.4" x2="1332.8" y2="1518.5" stroke="#bdbdbd" stroke-width="1.7" stroke-dasharray="17.5 18.05"/>
<line x1="1365" y1="1074.4" x2="1365" y2="1518.5" stroke="#bdbdbd" stroke-width="1.7" stroke-dasharray="17.5 18.05"/>
<line x1="1387.5" y1="1074.4" x2="1387.5" y2="1518.5" stroke="#bdbdbd" stroke-width="1.7" stroke-dasharray="17.5 18.05"/>
<line x1="1413" y1="1074.4" x2="1413" y2="1518.5" stroke="#bdbdbd" stroke-width="1.7" stroke-dasharray="17.5 18.05"/>
<line x1="596.1" y1="1241.7" x2="575" y2="1334.3" stroke="#000" stroke-width="3.6"/>
<line x1="112.6" y1="1073" x2="112.6" y2="1519.3" stroke="#000" stroke-width="1.8"/>
<line x1="112" y1="1497.9" x2="1413.5" y2="1497.9" stroke="#000" stroke-width="1.8"/>
<line x1="103" y1="1497.9" x2="112.6" y2="1497.9" stroke="#000" stroke-width="1.6"/>
<text x="95.5" y="1504.5" font-size="17.6" text-anchor="end" fill="#1a1a1a" stroke="#1a1a1a" stroke-width="0.35">0.00</text>
<line x1="103" y1="1396.8" x2="112.6" y2="1396.8" stroke="#000" stroke-width="1.6"/>
<text x="95.5" y="1403.4" font-size="17.6" text-anchor="end" fill="#1a1a1a" stroke="#1a1a1a" stroke-width="0.35">0.25</text>
<line x1="103" y1="1295.7" x2="112.6" y2="1295.7" stroke="#000" stroke-width="1.6"/>
<text x="95.5" y="1302.3" font-size="17.6" text-anchor="end" fill="#1a1a1a" stroke="#1a1a1a" stroke-width="0.35">0.50</text>
<line x1="103" y1="1194.6" x2="112.6" y2="1194.6" stroke="#000" stroke-width="1.6"/>
<text x="95.5" y="1201.2" font-size="17.6" text-anchor="end" fill="#1a1a1a" stroke="#1a1a1a" stroke-width="0.35">0.75</text>
<line x1="103" y1="1093.5" x2="112.6" y2="1093.5" stroke="#000" stroke-width="1.6"/>
<text x="95.5" y="1100.1" font-size="17.6" text-anchor="end" fill="#1a1a1a" stroke="#1a1a1a" stroke-width="0.35">1.00</text>
<text font-size="18.4" text-anchor="middle" fill="#1a1a1a" stroke="#1a1a1a" stroke-width="0.35" textLength="240.8" lengthAdjust="spacingAndGlyphs" transform="translate(44.4 1295.2) rotate(-90)">Proportion of WGD Tumours</text>
<text x="162.6" y="1526.5" font-size="17.4" text-anchor="middle" fill="#1a1a1a" stroke="#1a1a1a" stroke-width="0.35">1</text>
<text x="262.3" y="1526.5" font-size="17.4" text-anchor="middle" fill="#1a1a1a" stroke="#1a1a1a" stroke-width="0.35">2</text>
<text x="361.9" y="1526.5" font-size="17.4" text-anchor="middle" fill="#1a1a1a" stroke="#1a1a1a" stroke-width="0.35">3</text>
<text x="449.4" y="1526.5" font-size="17.4" text-anchor="middle" fill="#1a1a1a" stroke="#1a1a1a" stroke-width="0.35">4</text>
<text x="523" y="1526.5" font-size="17.4" text-anchor="middle" fill="#1a1a1a" stroke="#1a1a1a" stroke-width="0.35">5</text>
<text x="597.8" y="1526.5" font-size="17.4" text-anchor="middle" fill="#1a1a1a" stroke="#1a1a1a" stroke-width="0.35">6</text>
<text x="671.5" y="1526.5" font-size="17.4" text-anchor="middle" fill="#1a1a1a" stroke="#1a1a1a" stroke-width="0.35">7</text>
<text x="738.7" y="1526.5" font-size="17.4" text-anchor="middle" fill="#1a1a1a" stroke="#1a1a1a" stroke-width="0.35">8</text>
<text x="805.3" y="1526.5" font-size="17.4" text-anchor="middle" fill="#1a1a1a" stroke="#1a1a1a" stroke-width="0.35">9</text>
<text x="873.5" y="1526.5" font-size="17.4" text-anchor="middle" fill="#1a1a1a" stroke="#1a1a1a" stroke-width="0.35">10</text>
<text x="936.5" y="1526.5" font-size="17.4" text-anchor="middle" fill="#1a1a1a" stroke="#1a1a1a" stroke-width="0.35">11</text>
<text x="998.2" y="1526.5" font-size="17.4" text-anchor="middle" fill="#1a1a1a" stroke="#1a1a1a" stroke-width="0.35">12</text>
<text x="1059.9" y="1526.5" font-size="17.4" text-anchor="middle" fill="#1a1a1a" stroke="#1a1a1a" stroke-width="0.35">13</text>
<text x="1114.7" y="1526.5" font-size="17.4" text-anchor="middle" fill="#1a1a1a" stroke="#1a1a1a" stroke-width="0.35">14</text>
<text x="1165.9" y="1526.5" font-size="17.4" text-anchor="middle" fill="#1a1a1a" stroke="#1a1a1a" stroke-width="0.35">15</text>
<text x="1211.7" y="1526.5" font-size="17.4" text-anchor="middle" fill="#1a1a1a" stroke="#1a1a1a" stroke-width="0.35">16</text>
<text x="1251.1" y="1526.5" font-size="17.4" text-anchor="middle" fill="#1a1a1a" stroke="#1a1a1a" stroke-width="0.35">17</text>
<text x="1286.3" y="1526.5" font-size="17.4" text-anchor="middle" fill="#1a1a1a" stroke="#1a1a1a" stroke-width="0.35">18</text>
<text x="1317.6" y="1526.5" font-size="17.4" text-anchor="middle" fill="#1a1a1a" stroke="#1a1a1a" stroke-width="0.35">19</text>
<text x="1348.9" y="1526.5" font-size="17.4" text-anchor="middle" fill="#1a1a1a" stroke="#1a1a1a" stroke-width="0.35">20</text>
<text x="1376.2" y="1526.5" font-size="17.4" text-anchor="middle" fill="#1a1a1a" stroke="#1a1a1a" stroke-width="0.35">21</text>
<text x="1400.2" y="1526.5" font-size="17.4" text-anchor="middle" fill="#1a1a1a" stroke="#1a1a1a" stroke-width="0.35">22</text>
<text x="762.7" y="1552.2" font-size="18.4" text-anchor="middle" fill="#1a1a1a" stroke="#1a1a1a" stroke-width="0.35" textLength="118" lengthAdjust="spacingAndGlyphs">Chromosome</text>
<text x="117.2" y="1070.7" font-size="17.3" fill="#1a1a1a" stroke="#1a1a1a" stroke-width="0.35" textLength="55" lengthAdjust="spacingAndGlyphs">n=194</text>
<text x="495.4" y="1229.1" font-size="17.3" fill="#333" stroke="#333" stroke-width="0.35" textLength="89.8" lengthAdjust="spacingAndGlyphs">HLA Locus</text>
<rect x="1307.3" y="1122.4" width="21.7" height="20.6" fill="#fbcb8c"/>
<text x="1335.4" y="1139.2" font-size="18.4" fill="#1a1a1a" stroke="#1a1a1a" stroke-width="0.35" textLength="80" lengthAdjust="spacingAndGlyphs">Subclonal</text>
<text x="14" y="1081.2" font-size="26.5" font-weight="bold" fill="#2b2b2b">e</text>
</g>
<g id="pf">
<rect x="1606.3" y="1126.9" width="82.1" height="21.1" fill="#d9d9d9"/>
<rect x="1606.3" y="1126.9" width="25.5" height="21.1" fill="#f5a32f"/>
<rect x="1606.3" y="1126.9" width="10.2" height="21.1" fill="#8a8685"/>
<rect x="1724.1" y="1126.9" width="210.2" height="21.1" fill="#d9d9d9"/>
<rect x="1724.1" y="1126.9" width="64.9" height="21.1" fill="#f5a32f"/>
<rect x="1724.1" y="1126.9" width="25.1" height="21.1" fill="#8a8685"/>
<line x1="1598.5" y1="1137.5" x2="1602.4" y2="1137.5" stroke="#000" stroke-width="1.5"/>
<text x="1591.7" y="1144.8" font-size="18.7" text-anchor="end" fill="#1a1a1a" stroke="#1a1a1a" stroke-width="0.35" textLength="48.9" lengthAdjust="spacingAndGlyphs">LUAD</text>
<rect x="1606.3" y="1151.3" width="82.1" height="21.1" fill="#d9d9d9"/>
<rect x="1606.3" y="1151.3" width="28.2" height="21.1" fill="#f5a32f"/>
<rect x="1606.3" y="1151.3" width="7.6" height="21.1" fill="#8a8685"/>
<rect x="1724.1" y="1151.3" width="82.7" height="21.1" fill="#d9d9d9"/>
<rect x="1724.1" y="1151.3" width="28.2" height="21.1" fill="#f5a32f"/>
<rect x="1724.1" y="1151.3" width="6.7" height="21.1" fill="#8a8685"/>
<line x1="1598.5" y1="1161.9" x2="1602.4" y2="1161.9" stroke="#000" stroke-width="1.5"/>
<text x="1591.7" y="1169.2" font-size="18.7" text-anchor="end" fill="#1a1a1a" stroke="#1a1a1a" stroke-width="0.35" textLength="40.2" lengthAdjust="spacingAndGlyphs">KIRC</text>
<rect x="1606.3" y="1175.8" width="82.1" height="21.1" fill="#d9d9d9"/>
<rect x="1606.3" y="1175.8" width="50.4" height="21.1" fill="#f5a32f"/>
<rect x="1606.3" y="1175.8" width="21.3" height="21.1" fill="#8a8685"/>
<rect x="1724.1" y="1175.8" width="80.1" height="21.1" fill="#d9d9d9"/>
<rect x="1724.1" y="1175.8" width="49.1" height="21.1" fill="#f5a32f"/>
<rect x="1724.1" y="1175.8" width="20.2" height="21.1" fill="#8a8685"/>
<line x1="1598.5" y1="1186.3" x2="1602.4" y2="1186.3" stroke="#000" stroke-width="1.5"/>
<text x="1591.7" y="1193.6" font-size="18.7" text-anchor="end" fill="#1a1a1a" stroke="#1a1a1a" stroke-width="0.35" textLength="46.7" lengthAdjust="spacingAndGlyphs">LUSC</text>
<rect x="1606.3" y="1200.2" width="82.1" height="21.1" fill="#d9d9d9"/>
<rect x="1606.3" y="1200.2" width="2.6" height="21.1" fill="#f5a32f"/>
<rect x="1724.1" y="1200.2" width="75" height="21.1" fill="#d9d9d9"/>
<rect x="1724.1" y="1200.2" width="1.9" height="21.1" fill="#f5a32f"/>
<line x1="1598.5" y1="1210.7" x2="1602.4" y2="1210.7" stroke="#000" stroke-width="1.5"/>
<text x="1591.7" y="1218" font-size="18.7" text-anchor="end" fill="#1a1a1a" stroke="#1a1a1a" stroke-width="0.35" textLength="50.9" lengthAdjust="spacingAndGlyphs">SKCM</text>
<rect x="1606.3" y="1224.6" width="82.1" height="21.1" fill="#d9d9d9"/>
<rect x="1606.3" y="1224.6" width="15" height="21.1" fill="#f5a32f"/>
<rect x="1724.1" y="1224.6" width="69.8" height="21.1" fill="#d9d9d9"/>
<rect x="1724.1" y="1224.6" width="12.7" height="21.1" fill="#f5a32f"/>
<line x1="1598.5" y1="1235.2" x2="1602.4" y2="1235.2" stroke="#000" stroke-width="1.5"/>
<text x="1591.7" y="1242.5" font-size="18.7" text-anchor="end" fill="#1a1a1a" stroke="#1a1a1a" stroke-width="0.35" textLength="48.7" lengthAdjust="spacingAndGlyphs">UCEC</text>
<rect x="1606.3" y="1249.1" width="82.1" height="21.1" fill="#d9d9d9"/>
<rect x="1606.3" y="1249.1" width="13.7" height="21.1" fill="#f5a32f"/>
<rect x="1606.3" y="1249.1" width="3.3" height="21.1" fill="#8a8685"/>
<rect x="1724.1" y="1249.1" width="62" height="21.1" fill="#d9d9d9"/>
<rect x="1724.1" y="1249.1" width="10.3" height="21.1" fill="#f5a32f"/>
<rect x="1724.1" y="1249.1" width="1.9" height="21.1" fill="#8a8685"/>
<line x1="1598.5" y1="1259.6" x2="1602.4" y2="1259.6" stroke="#000" stroke-width="1.5"/>
<text x="1591.7" y="1266.9" font-size="18.7" text-anchor="end" fill="#1a1a1a" stroke="#1a1a1a" stroke-width="0.35" textLength="46.7" lengthAdjust="spacingAndGlyphs">BLCA</text>
<rect x="1606.3" y="1273.5" width="82.1" height="21.1" fill="#d9d9d9"/>
<rect x="1606.3" y="1273.5" width="22.9" height="21.1" fill="#f5a32f"/>
<rect x="1606.3" y="1273.5" width="4.3" height="21.1" fill="#8a8685"/>
<rect x="1724.1" y="1273.5" width="46.5" height="21.1" fill="#d9d9d9"/>
<rect x="1724.1" y="1273.5" width="12.7" height="21.1" fill="#f5a32f"/>
<rect x="1724.1" y="1273.5" width="1.9" height="21.1" fill="#8a8685"/>
<line x1="1598.5" y1="1284" x2="1602.4" y2="1284" stroke="#000" stroke-width="1.5"/>
<text x="1591.7" y="1291.3" font-size="18.7" text-anchor="end" fill="#1a1a1a" stroke="#1a1a1a" stroke-width="0.35" textLength="113.2" lengthAdjust="spacingAndGlyphs">HER2+ BRCA</text>
<rect x="1606.3" y="1297.9" width="82.1" height="21.1" fill="#d9d9d9"/>
<rect x="1606.3" y="1297.9" width="12.7" height="21.1" fill="#f5a32f"/>
<rect x="1606.3" y="1297.9" width="5.9" height="21.1" fill="#8a8685"/>
<rect x="1724.1" y="1297.9" width="33.1" height="21.1" fill="#d9d9d9"/>
<rect x="1724.1" y="1297.9" width="4.9" height="21.1" fill="#f5a32f"/>
<rect x="1724.1" y="1297.9" width="1.9" height="21.1" fill="#8a8685"/>
<line x1="1598.5" y1="1308.5" x2="1602.4" y2="1308.5" stroke="#000" stroke-width="1.5"/>
<text x="1591.7" y="1315.8" font-size="18.7" text-anchor="end" fill="#1a1a1a" stroke="#1a1a1a" stroke-width="0.35" textLength="88.2" lengthAdjust="spacingAndGlyphs">ER+ BRCA</text>
<rect x="1606.3" y="1322.3" width="82.1" height="21.1" fill="#d9d9d9"/>
<rect x="1606.3" y="1322.3" width="29.1" height="21.1" fill="#f5a32f"/>
<rect x="1606.3" y="1322.3" width="5.9" height="21.1" fill="#8a8685"/>
<rect x="1724.1" y="1322.3" width="35.7" height="21.1" fill="#d9d9d9"/>
<rect x="1724.1" y="1322.3" width="12.7" height="21.1" fill="#f5a32f"/>
<rect x="1724.1" y="1322.3" width="1.9" height="21.1" fill="#8a8685"/>
<line x1="1598.5" y1="1332.9" x2="1602.4" y2="1332.9" stroke="#000" stroke-width="1.5"/>
<text x="1591.7" y="1340.2" font-size="18.7" text-anchor="end" fill="#1a1a1a" stroke="#1a1a1a" stroke-width="0.35" textLength="46" lengthAdjust="spacingAndGlyphs">ESCA</text>
<rect x="1606.3" y="1346.8" width="82.1" height="21.1" fill="#d9d9d9"/>
<rect x="1606.3" y="1346.8" width="11.4" height="21.1" fill="#f5a32f"/>
<rect x="1724.1" y="1346.8" width="17.8" height="21.1" fill="#d9d9d9"/>
<rect x="1724.1" y="1346.8" width="2.3" height="21.1" fill="#f5a32f"/>
<line x1="1598.5" y1="1357.3" x2="1602.4" y2="1357.3" stroke="#000" stroke-width="1.5"/>
<text x="1591.7" y="1364.6" font-size="18.7" text-anchor="end" fill="#1a1a1a" stroke="#1a1a1a" stroke-width="0.35" textLength="114.8" lengthAdjust="spacingAndGlyphs">NSCLC-other</text>
<rect x="1606.3" y="1371.2" width="82.1" height="21.1" fill="#d9d9d9"/>
<rect x="1606.3" y="1371.2" width="41.2" height="21.1" fill="#f5a32f"/>
<rect x="1606.3" y="1371.2" width="20.6" height="21.1" fill="#8a8685"/>
<rect x="1724.1" y="1371.2" width="10.1" height="21.1" fill="#d9d9d9"/>
<rect x="1724.1" y="1371.2" width="4.9" height="21.1" fill="#f5a32f"/>
<rect x="1724.1" y="1371.2" width="2.3" height="21.1" fill="#8a8685"/>
<line x1="1598.5" y1="1381.8" x2="1602.4" y2="1381.8" stroke="#000" stroke-width="1.5"/>
<text x="1591.7" y="1389" font-size="18.7" text-anchor="end" fill="#1a1a1a" stroke="#1a1a1a" stroke-width="0.35" textLength="143" lengthAdjust="spacingAndGlyphs">Lung carcinoma</text>
<rect x="1606.3" y="1395.6" width="82.1" height="21.1" fill="#d9d9d9"/>
<rect x="1606.3" y="1395.6" width="20.6" height="21.1" fill="#f5a32f"/>
<rect x="1724.1" y="1395.6" width="10.1" height="21.1" fill="#d9d9d9"/>
<rect x="1724.1" y="1395.6" width="2.3" height="21.1" fill="#f5a32f"/>
<line x1="1598.5" y1="1406.2" x2="1602.4" y2="1406.2" stroke="#000" stroke-width="1.5"/>
<text x="1591.7" y="1413.5" font-size="18.7" text-anchor="end" fill="#1a1a1a" stroke="#1a1a1a" stroke-width="0.35" textLength="76.9" lengthAdjust="spacingAndGlyphs">TN BRCA</text>
<rect x="1606.3" y="1420.1" width="82.1" height="21.1" fill="#d9d9d9"/>
<rect x="1606.3" y="1420.1" width="27.5" height="21.1" fill="#f5a32f"/>
<rect x="1724.1" y="1420.1" width="7.2" height="21.1" fill="#d9d9d9"/>
<rect x="1724.1" y="1420.1" width="2.3" height="21.1" fill="#f5a32f"/>
<line x1="1598.5" y1="1430.6" x2="1602.4" y2="1430.6" stroke="#000" stroke-width="1.5"/>
<text x="1591.7" y="1437.9" font-size="18.7" text-anchor="end" fill="#1a1a1a" stroke="#1a1a1a" stroke-width="0.35" textLength="54.2" lengthAdjust="spacingAndGlyphs">COAD</text>
<rect x="1606.3" y="1444.5" width="82.1" height="21.1" fill="#d9d9d9"/>
<rect x="1606.3" y="1444.5" width="54.9" height="21.1" fill="#f5a32f"/>
<rect x="1606.3" y="1444.5" width="54.9" height="21.1" fill="#8a8685"/>
<rect x="1724.1" y="1444.5" width="7.2" height="21.1" fill="#d9d9d9"/>
<rect x="1724.1" y="1444.5" width="4.9" height="21.1" fill="#f5a32f"/>
<rect x="1724.1" y="1444.5" width="4.9" height="21.1" fill="#8a8685"/>
<line x1="1598.5" y1="1455" x2="1602.4" y2="1455" stroke="#000" stroke-width="1.5"/>
<text x="1591.7" y="1462.3" font-size="18.7" text-anchor="end" fill="#1a1a1a" stroke="#1a1a1a" stroke-width="0.35" textLength="50.9" lengthAdjust="spacingAndGlyphs">OVCA</text>
<rect x="1606.3" y="1468.9" width="82.1" height="21.1" fill="#d9d9d9"/>
<rect x="1606.3" y="1468.9" width="82.1" height="21.1" fill="#f5a32f"/>
<rect x="1606.3" y="1468.9" width="82.1" height="21.1" fill="#8a8685"/>
<rect x="1724.1" y="1468.9" width="4.9" height="21.1" fill="#d9d9d9"/>
<rect x="1724.1" y="1468.9" width="4.9" height="21.1" fill="#f5a32f"/>
<rect x="1724.1" y="1468.9" width="4.9" height="21.1" fill="#8a8685"/>
<line x1="1598.5" y1="1479.5" x2="1602.4" y2="1479.5" stroke="#000" stroke-width="1.5"/>
<text x="1591.7" y="1486.8" font-size="18.7" text-anchor="end" fill="#1a1a1a" stroke="#1a1a1a" stroke-width="0.35" textLength="42.8" lengthAdjust="spacingAndGlyphs">KICH</text>
<rect x="1606.3" y="1493.4" width="82.1" height="21.1" fill="#d9d9d9"/>
<rect x="1606.3" y="1493.4" width="82.1" height="21.1" fill="#f5a32f"/>
<rect x="1724.1" y="1493.4" width="2.3" height="21.1" fill="#d9d9d9"/>
<rect x="1724.1" y="1493.4" width="2.3" height="21.1" fill="#f5a32f"/>
<line x1="1598.5" y1="1503.9" x2="1602.4" y2="1503.9" stroke="#000" stroke-width="1.5"/>
<text x="1591.7" y="1511.2" font-size="18.7" text-anchor="end" fill="#1a1a1a" stroke="#1a1a1a" stroke-width="0.35" textLength="36.3" lengthAdjust="spacingAndGlyphs">SDC</text>
<path d="M1601.1 1122.5H1691.8M1602.1 1122.5V1518" stroke="#000" fill="none" stroke-width="2.1"/>
<path d="M1713.4 1122.5H1944.6" stroke="#000" fill="none" stroke-width="2.1"/>
<line x1="1606.3" y1="1116.5" x2="1606.3" y2="1122.3" stroke="#000" stroke-width="1.5"/>
<text x="1605.6" y="1108.2" font-size="17" text-anchor="middle" fill="#1a1a1a" stroke="#1a1a1a" stroke-width="0.35">0</text>
<line x1="1626.8" y1="1116.5" x2="1626.8" y2="1122.3" stroke="#000" stroke-width="1.5"/>
<line x1="1647.3" y1="1116.5" x2="1647.3" y2="1122.3" stroke="#000" stroke-width="1.5"/>
<text x="1646.6" y="1108.2" font-size="17" text-anchor="middle" fill="#1a1a1a" stroke="#1a1a1a" stroke-width="0.35">0.5</text>
<line x1="1667.9" y1="1116.5" x2="1667.9" y2="1122.3" stroke="#000" stroke-width="1.5"/>
<line x1="1688.4" y1="1116.5" x2="1688.4" y2="1122.3" stroke="#000" stroke-width="1.5"/>
<text x="1687.7" y="1108.2" font-size="17" text-anchor="middle" fill="#1a1a1a" stroke="#1a1a1a" stroke-width="0.35">1</text>
<line x1="1724.1" y1="1116.5" x2="1724.1" y2="1122.3" stroke="#000" stroke-width="1.5"/>
<text x="1722.6" y="1108.2" font-size="17" text-anchor="middle" fill="#1a1a1a" stroke="#1a1a1a" stroke-width="0.35">0</text>
<line x1="1775.8" y1="1116.5" x2="1775.8" y2="1122.3" stroke="#000" stroke-width="1.5"/>
<text x="1774.3" y="1108.2" font-size="17" text-anchor="middle" fill="#1a1a1a" stroke="#1a1a1a" stroke-width="0.35">20</text>
<line x1="1827.5" y1="1116.5" x2="1827.5" y2="1122.3" stroke="#000" stroke-width="1.5"/>
<text x="1826" y="1108.2" font-size="17" text-anchor="middle" fill="#1a1a1a" stroke="#1a1a1a" stroke-width="0.35">40</text>
<line x1="1879.2" y1="1116.5" x2="1879.2" y2="1122.3" stroke="#000" stroke-width="1.5"/>
<text x="1877.7" y="1108.2" font-size="17" text-anchor="middle" fill="#1a1a1a" stroke="#1a1a1a" stroke-width="0.35">60</text>
<line x1="1930.9" y1="1116.5" x2="1930.9" y2="1122.3" stroke="#000" stroke-width="1.5"/>
<text x="1929.4" y="1108.2" font-size="17" text-anchor="middle" fill="#1a1a1a" stroke="#1a1a1a" stroke-width="0.35">80</text>
<text x="1647" y="1086.3" font-size="18.8" text-anchor="middle" fill="#1a1a1a" stroke="#1a1a1a" stroke-width="0.35" textLength="97" lengthAdjust="spacingAndGlyphs">Proportion</text>
<text x="1830.6" y="1086.3" font-size="18.8" text-anchor="middle" fill="#1a1a1a" stroke="#1a1a1a" stroke-width="0.35" textLength="174.2" lengthAdjust="spacingAndGlyphs">Number of Tumours</text>
<rect x="1775.3" y="1422.3" width="13.6" height="14.4" fill="#8a8685"/>
<text x="1793.1" y="1436" font-size="18.4" fill="#3a3a3a" stroke="#3a3a3a" stroke-width="0.35">Clonal</text>
<rect x="1775.3" y="1442" width="13.6" height="14.4" fill="#f5a32f"/>
<text x="1793.1" y="1455.7" font-size="18.4" fill="#3a3a3a" stroke="#3a3a3a" stroke-width="0.35">Subclonal</text>
<rect x="1775.3" y="1461.7" width="13.6" height="14.4" fill="#d9d9d9"/>
<text x="1793.1" y="1475.4" font-size="18.4" fill="#3a3a3a" stroke="#3a3a3a" stroke-width="0.35">None</text>
<text x="1488.5" y="1080.8" font-size="26.5" font-weight="bold" fill="#2b2b2b">f</text>
</g>
</svg></body></html>
